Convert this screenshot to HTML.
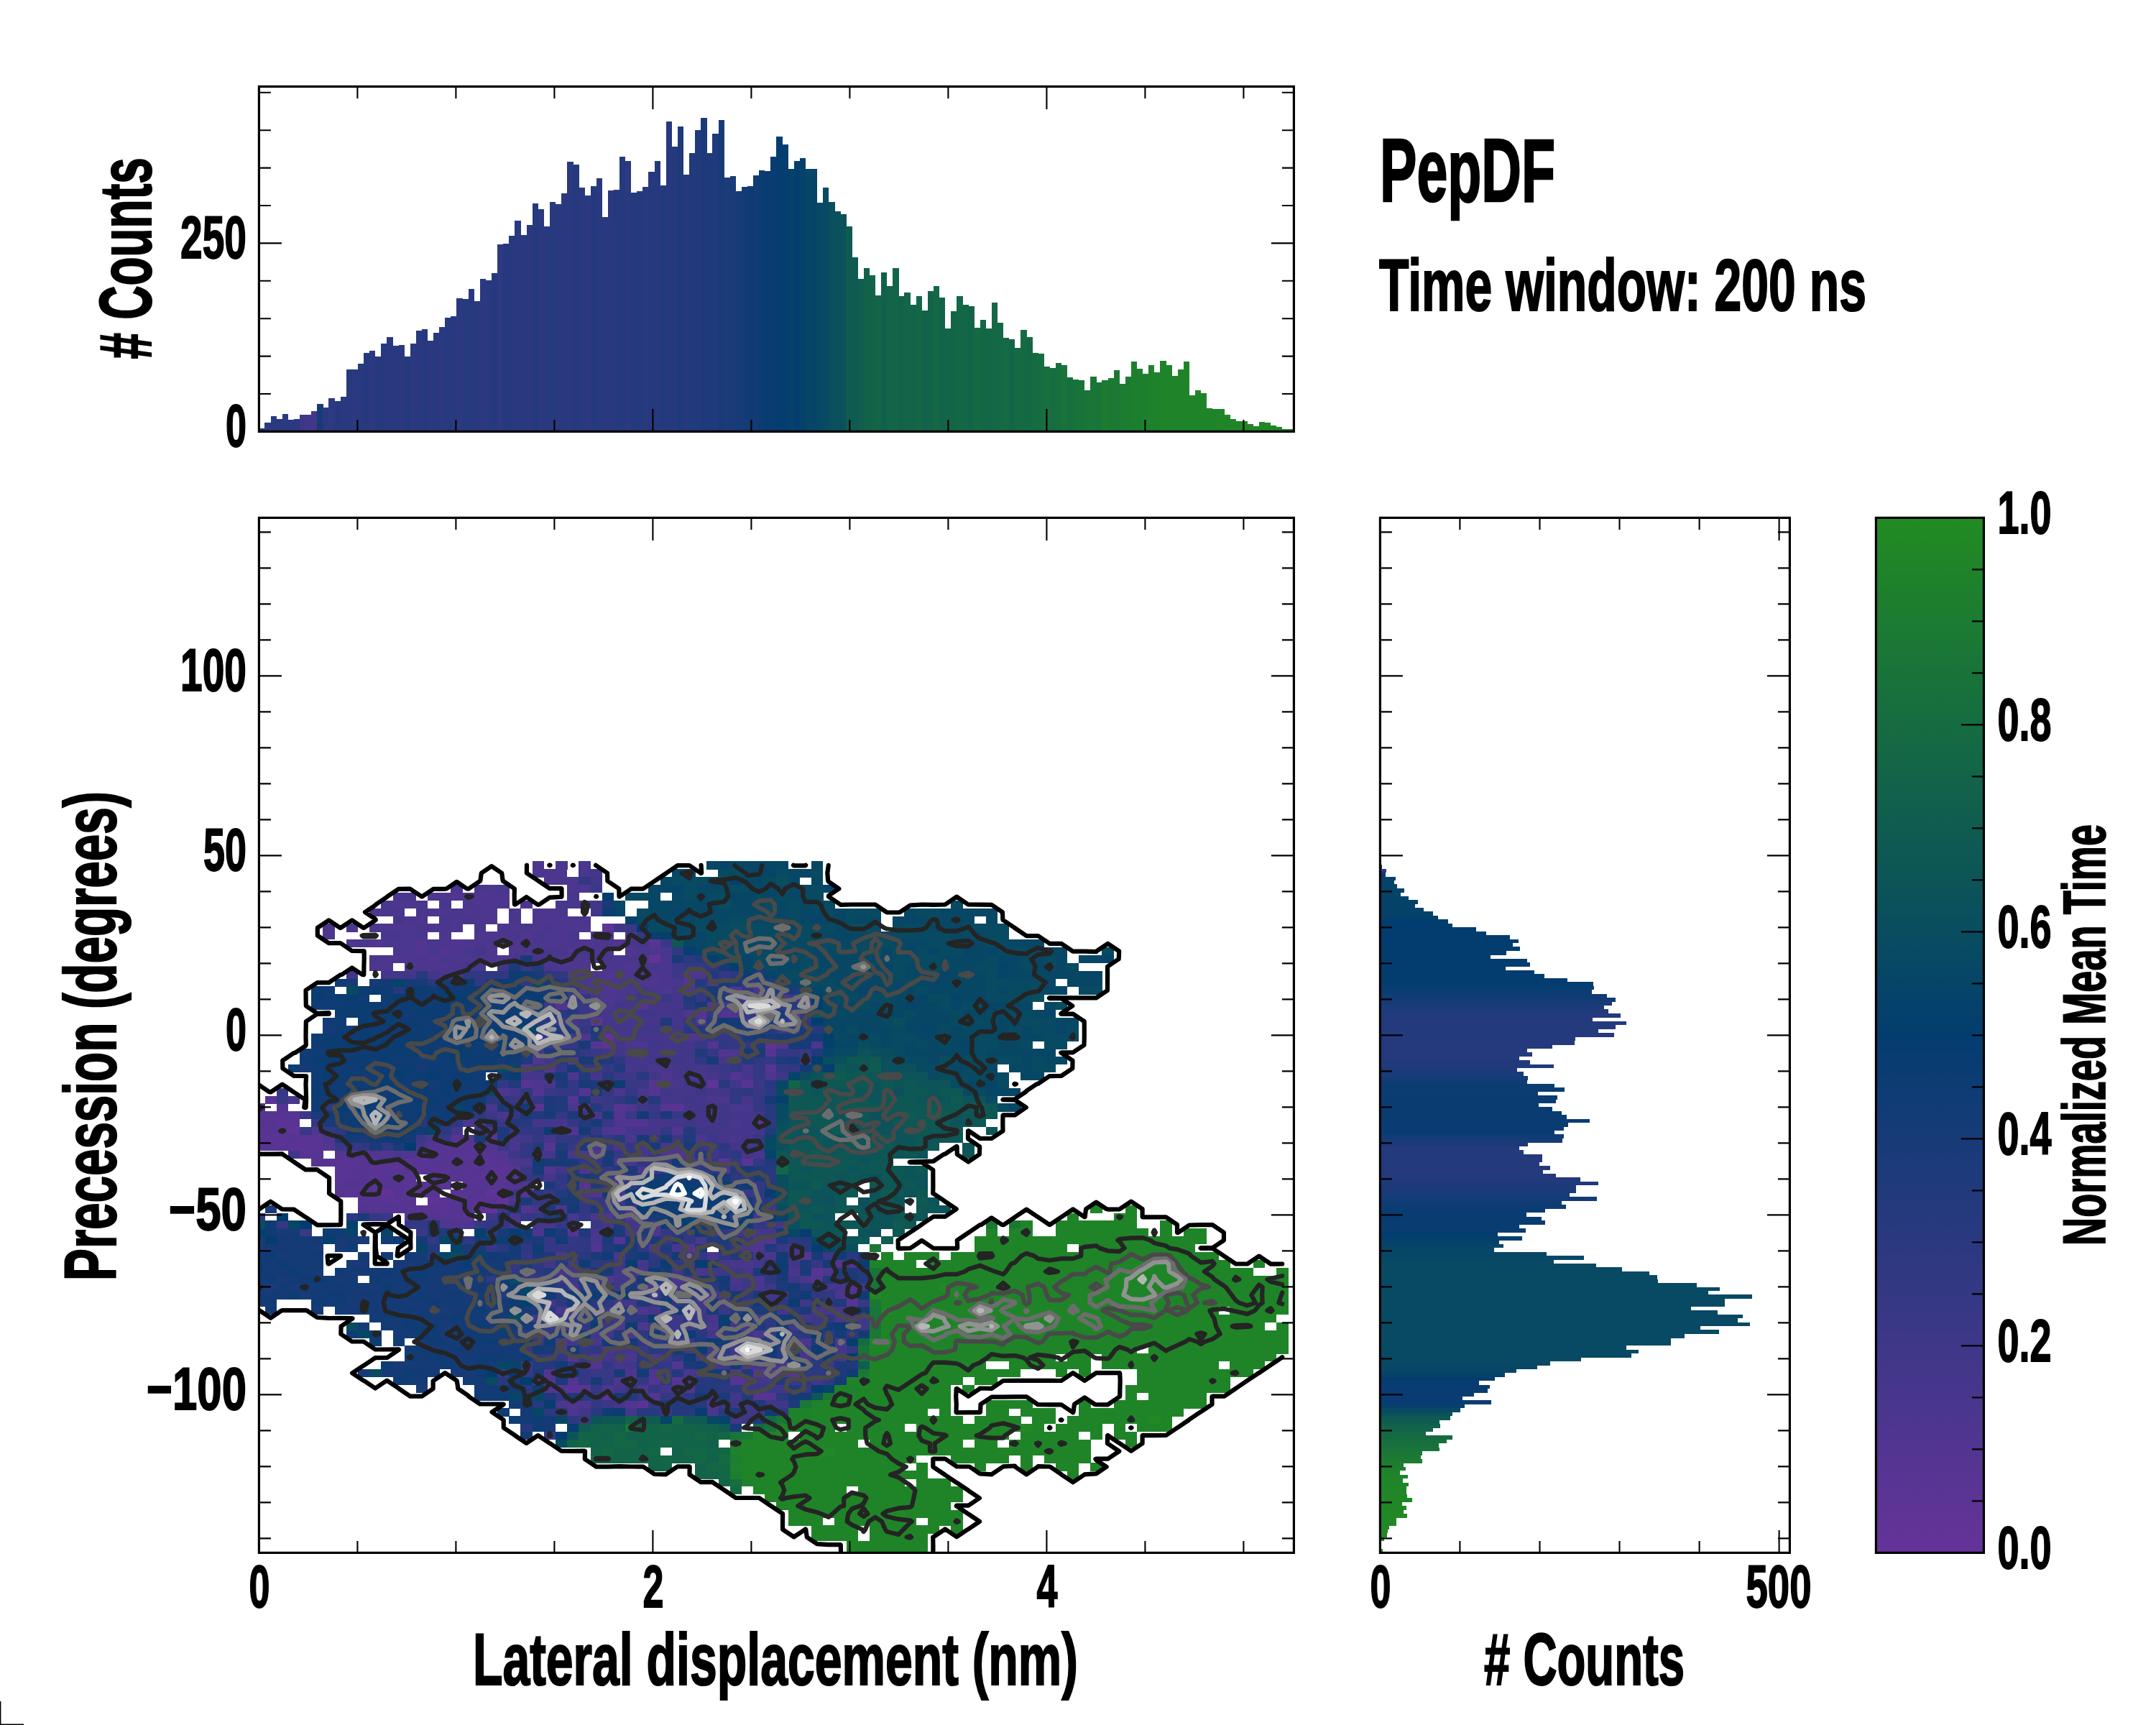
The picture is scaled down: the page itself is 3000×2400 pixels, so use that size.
<!DOCTYPE html>
<html lang="en"><head><meta charset="utf-8"><title>PepDF</title>
<style>html,body{margin:0;padding:0;background:#fff}svg{display:block}text{font-family:"Liberation Sans",Arial,Helvetica,sans-serif;font-weight:700;fill:#000;stroke:#000;stroke-linejoin:miter}</style></head><body>
<svg width="3000" height="2400" viewBox="0 0 3000 2400">
<rect width="3000" height="2400" fill="#fff"/>
<g shape-rendering="crispEdges">
<rect x="360.40" y="595.8" width="8.34" height="4.6" fill="#0d3c73"/>
<rect x="368.49" y="588.2" width="8.34" height="12.2" fill="#2b3980"/>
<rect x="376.58" y="579.2" width="8.34" height="21.2" fill="#2b3980"/>
<rect x="384.67" y="583.1" width="8.34" height="17.3" fill="#2b3980"/>
<rect x="392.76" y="576.2" width="8.34" height="24.2" fill="#2b3980"/>
<rect x="400.85" y="584.3" width="8.34" height="16.1" fill="#2b3980"/>
<rect x="408.94" y="583.4" width="8.34" height="17.0" fill="#2b3980"/>
<rect x="417.03" y="577.1" width="8.34" height="23.3" fill="#3e3788"/>
<rect x="425.12" y="576.5" width="8.34" height="23.9" fill="#403789"/>
<rect x="433.21" y="572.3" width="8.34" height="28.1" fill="#42378a"/>
<rect x="441.30" y="562.0" width="8.34" height="38.4" fill="#173b77"/>
<rect x="449.39" y="567.1" width="8.34" height="33.3" fill="#2b3980"/>
<rect x="457.48" y="554.2" width="8.34" height="46.2" fill="#2e3981"/>
<rect x="465.57" y="558.1" width="8.34" height="42.3" fill="#27397e"/>
<rect x="473.66" y="552.1" width="8.34" height="48.3" fill="#29397f"/>
<rect x="481.75" y="514.1" width="8.34" height="86.3" fill="#28397f"/>
<rect x="489.84" y="514.1" width="8.34" height="86.3" fill="#2b3980"/>
<rect x="497.93" y="506.0" width="8.34" height="94.4" fill="#28397f"/>
<rect x="506.02" y="491.2" width="8.34" height="109.2" fill="#26397e"/>
<rect x="514.11" y="488.2" width="8.34" height="112.2" fill="#2d3981"/>
<rect x="522.20" y="496.0" width="8.34" height="104.4" fill="#27397e"/>
<rect x="530.29" y="477.9" width="8.34" height="122.5" fill="#27397e"/>
<rect x="538.38" y="468.9" width="8.34" height="131.5" fill="#29397f"/>
<rect x="546.47" y="481.3" width="8.34" height="119.1" fill="#29397f"/>
<rect x="554.56" y="480.3" width="8.34" height="120.1" fill="#2a397f"/>
<rect x="562.65" y="496.0" width="8.34" height="104.4" fill="#253a7d"/>
<rect x="570.74" y="477.9" width="8.34" height="122.5" fill="#2b3980"/>
<rect x="578.83" y="460.2" width="8.34" height="140.2" fill="#2a397f"/>
<rect x="586.92" y="458.0" width="8.34" height="142.4" fill="#26397e"/>
<rect x="595.01" y="474.0" width="8.34" height="126.4" fill="#2a397f"/>
<rect x="603.10" y="463.2" width="8.34" height="137.2" fill="#29397f"/>
<rect x="611.19" y="455.0" width="8.34" height="145.4" fill="#2b3980"/>
<rect x="619.28" y="442.1" width="8.34" height="158.3" fill="#263a7e"/>
<rect x="627.37" y="440.0" width="8.34" height="160.4" fill="#29397f"/>
<rect x="635.46" y="415.3" width="8.34" height="185.1" fill="#2c3980"/>
<rect x="643.55" y="415.9" width="8.34" height="184.5" fill="#263a7e"/>
<rect x="651.64" y="402.0" width="8.34" height="198.4" fill="#29397f"/>
<rect x="659.73" y="418.9" width="8.34" height="181.5" fill="#29397f"/>
<rect x="667.82" y="388.1" width="8.34" height="212.3" fill="#2a3980"/>
<rect x="675.91" y="389.9" width="8.34" height="210.5" fill="#28397f"/>
<rect x="684.00" y="380.3" width="8.34" height="220.1" fill="#26397e"/>
<rect x="692.09" y="340.2" width="8.34" height="260.2" fill="#2d3981"/>
<rect x="700.18" y="339.0" width="8.34" height="261.4" fill="#27397e"/>
<rect x="708.27" y="328.1" width="8.34" height="272.3" fill="#27397e"/>
<rect x="716.36" y="307.4" width="8.34" height="293.0" fill="#2a397f"/>
<rect x="724.44" y="326.9" width="8.34" height="273.5" fill="#29397f"/>
<rect x="732.53" y="313.1" width="8.34" height="287.3" fill="#2a397f"/>
<rect x="740.62" y="282.9" width="8.34" height="317.5" fill="#253a7d"/>
<rect x="748.71" y="291.1" width="8.34" height="309.3" fill="#2b3980"/>
<rect x="756.80" y="315.2" width="8.34" height="285.2" fill="#2a397f"/>
<rect x="764.89" y="281.1" width="8.34" height="319.3" fill="#263a7e"/>
<rect x="772.98" y="283.8" width="8.34" height="316.6" fill="#2a397f"/>
<rect x="781.07" y="269.1" width="8.34" height="331.3" fill="#29397f"/>
<rect x="789.16" y="225.1" width="8.34" height="375.3" fill="#2a3980"/>
<rect x="797.25" y="229.0" width="8.34" height="371.4" fill="#26397e"/>
<rect x="805.34" y="260.9" width="8.34" height="339.5" fill="#29397f"/>
<rect x="813.43" y="271.8" width="8.34" height="328.6" fill="#2c3981"/>
<rect x="821.52" y="259.1" width="8.34" height="341.3" fill="#253a7e"/>
<rect x="829.61" y="248.0" width="8.34" height="352.4" fill="#29397f"/>
<rect x="837.70" y="301.9" width="8.34" height="298.5" fill="#29397f"/>
<rect x="845.79" y="265.2" width="8.34" height="335.2" fill="#2a397f"/>
<rect x="853.88" y="264.3" width="8.34" height="336.1" fill="#27397e"/>
<rect x="861.97" y="218.1" width="8.34" height="382.3" fill="#253a7e"/>
<rect x="870.06" y="224.2" width="8.34" height="376.2" fill="#2c3980"/>
<rect x="878.15" y="268.2" width="8.34" height="332.2" fill="#253a7e"/>
<rect x="886.24" y="265.5" width="8.34" height="334.9" fill="#253a7d"/>
<rect x="894.33" y="260.0" width="8.34" height="340.4" fill="#28397f"/>
<rect x="902.42" y="239.2" width="8.34" height="361.2" fill="#26397e"/>
<rect x="910.51" y="224.2" width="8.34" height="376.2" fill="#26397e"/>
<rect x="918.60" y="257.9" width="8.34" height="342.5" fill="#223a7c"/>
<rect x="926.69" y="169.0" width="8.34" height="431.4" fill="#27397e"/>
<rect x="934.78" y="204.0" width="8.34" height="396.4" fill="#253a7d"/>
<rect x="942.87" y="176.3" width="8.34" height="424.1" fill="#1f3a7b"/>
<rect x="950.96" y="242.9" width="8.34" height="357.5" fill="#233a7d"/>
<rect x="959.05" y="213.0" width="8.34" height="387.4" fill="#213a7c"/>
<rect x="967.14" y="180.8" width="8.34" height="419.6" fill="#213a7c"/>
<rect x="975.23" y="163.9" width="8.34" height="436.5" fill="#1c3a7a"/>
<rect x="983.32" y="213.0" width="8.34" height="387.4" fill="#1e3a7a"/>
<rect x="991.41" y="185.9" width="8.34" height="414.5" fill="#203a7b"/>
<rect x="999.50" y="166.9" width="8.34" height="433.5" fill="#183b78"/>
<rect x="1007.59" y="247.1" width="8.34" height="353.3" fill="#1b3b79"/>
<rect x="1015.68" y="245.3" width="8.34" height="355.1" fill="#193b78"/>
<rect x="1023.77" y="265.8" width="8.34" height="334.6" fill="#173b77"/>
<rect x="1031.86" y="260.3" width="8.34" height="340.1" fill="#133b76"/>
<rect x="1039.95" y="258.8" width="8.34" height="341.6" fill="#0f3c74"/>
<rect x="1048.04" y="244.1" width="8.34" height="356.3" fill="#133b76"/>
<rect x="1056.13" y="237.1" width="8.34" height="363.3" fill="#0b3c72"/>
<rect x="1064.22" y="238.0" width="8.34" height="362.4" fill="#083c71"/>
<rect x="1072.31" y="218.1" width="8.34" height="382.3" fill="#0a3c72"/>
<rect x="1080.40" y="189.8" width="8.34" height="410.6" fill="#053d70"/>
<rect x="1088.49" y="201.0" width="8.34" height="399.4" fill="#043d6f"/>
<rect x="1096.58" y="235.0" width="8.34" height="365.4" fill="#05416b"/>
<rect x="1104.67" y="224.2" width="8.34" height="376.2" fill="#043e6e"/>
<rect x="1112.76" y="220.0" width="8.34" height="380.4" fill="#05416b"/>
<rect x="1120.85" y="235.0" width="8.34" height="365.4" fill="#074765"/>
<rect x="1128.94" y="235.0" width="8.34" height="365.4" fill="#064468"/>
<rect x="1137.03" y="281.7" width="8.34" height="318.7" fill="#074865"/>
<rect x="1145.12" y="260.9" width="8.34" height="339.5" fill="#084963"/>
<rect x="1153.21" y="281.1" width="8.34" height="319.3" fill="#0a4f5d"/>
<rect x="1161.30" y="294.1" width="8.34" height="306.3" fill="#0b515c"/>
<rect x="1169.39" y="298.0" width="8.34" height="302.4" fill="#0b515b"/>
<rect x="1177.48" y="315.2" width="8.34" height="285.2" fill="#0f5b52"/>
<rect x="1185.57" y="358.0" width="8.34" height="242.4" fill="#0f5b51"/>
<rect x="1193.66" y="387.8" width="8.34" height="212.6" fill="#105e4f"/>
<rect x="1201.75" y="373.1" width="8.34" height="227.3" fill="#12624a"/>
<rect x="1209.84" y="383.0" width="8.34" height="217.4" fill="#126349"/>
<rect x="1217.93" y="410.7" width="8.34" height="189.7" fill="#136548"/>
<rect x="1226.02" y="379.1" width="8.34" height="221.3" fill="#11604d"/>
<rect x="1234.11" y="397.8" width="8.34" height="202.6" fill="#136548"/>
<rect x="1242.20" y="373.1" width="8.34" height="227.3" fill="#136547"/>
<rect x="1250.29" y="411.9" width="8.34" height="188.5" fill="#12624a"/>
<rect x="1258.38" y="407.1" width="8.34" height="193.3" fill="#136448"/>
<rect x="1266.47" y="424.0" width="8.34" height="176.4" fill="#126449"/>
<rect x="1274.56" y="411.9" width="8.34" height="188.5" fill="#146746"/>
<rect x="1282.65" y="431.8" width="8.34" height="168.6" fill="#12634a"/>
<rect x="1290.74" y="405.0" width="8.34" height="195.4" fill="#126449"/>
<rect x="1298.83" y="398.1" width="8.34" height="202.3" fill="#146844"/>
<rect x="1306.92" y="414.0" width="8.34" height="186.4" fill="#126449"/>
<rect x="1315.01" y="456.8" width="8.34" height="143.6" fill="#136547"/>
<rect x="1323.10" y="433.0" width="8.34" height="167.4" fill="#136547"/>
<rect x="1331.19" y="411.9" width="8.34" height="188.5" fill="#146845"/>
<rect x="1339.28" y="424.0" width="8.34" height="176.4" fill="#136646"/>
<rect x="1347.37" y="426.1" width="8.34" height="174.3" fill="#126449"/>
<rect x="1355.46" y="455.9" width="8.34" height="144.5" fill="#156a43"/>
<rect x="1363.55" y="445.1" width="8.34" height="155.3" fill="#146746"/>
<rect x="1371.64" y="456.8" width="8.34" height="143.6" fill="#136646"/>
<rect x="1379.73" y="421.0" width="8.34" height="179.4" fill="#146845"/>
<rect x="1387.82" y="449.0" width="8.34" height="151.4" fill="#146844"/>
<rect x="1395.91" y="469.8" width="8.34" height="130.6" fill="#156a43"/>
<rect x="1404.00" y="472.2" width="8.34" height="128.2" fill="#136547"/>
<rect x="1412.09" y="484.0" width="8.34" height="116.4" fill="#156a43"/>
<rect x="1420.18" y="459.0" width="8.34" height="141.4" fill="#156b41"/>
<rect x="1428.27" y="468.9" width="8.34" height="131.5" fill="#146944"/>
<rect x="1436.36" y="490.9" width="8.34" height="109.5" fill="#166c40"/>
<rect x="1444.44" y="492.1" width="8.34" height="108.3" fill="#166d40"/>
<rect x="1452.53" y="509.9" width="8.34" height="90.5" fill="#17703d"/>
<rect x="1460.62" y="512.0" width="8.34" height="88.4" fill="#166d40"/>
<rect x="1468.71" y="504.8" width="8.34" height="95.6" fill="#176f3e"/>
<rect x="1476.80" y="508.1" width="8.34" height="92.3" fill="#197439"/>
<rect x="1484.89" y="525.0" width="8.34" height="75.4" fill="#17703c"/>
<rect x="1492.98" y="528.0" width="8.34" height="72.4" fill="#18733a"/>
<rect x="1501.07" y="529.2" width="8.34" height="71.2" fill="#197439"/>
<rect x="1509.16" y="542.7" width="8.34" height="57.7" fill="#1a7636"/>
<rect x="1517.25" y="524.1" width="8.34" height="76.3" fill="#1a7636"/>
<rect x="1525.34" y="531.9" width="8.34" height="68.5" fill="#197438"/>
<rect x="1533.43" y="529.2" width="8.34" height="71.2" fill="#1c7b31"/>
<rect x="1541.52" y="525.9" width="8.34" height="74.5" fill="#1b7934"/>
<rect x="1549.61" y="515.0" width="8.34" height="85.4" fill="#1b7934"/>
<rect x="1557.70" y="534.0" width="8.34" height="66.4" fill="#1c7c31"/>
<rect x="1565.79" y="524.1" width="8.34" height="76.3" fill="#1c7d30"/>
<rect x="1573.88" y="503.0" width="8.34" height="97.4" fill="#1d7e2f"/>
<rect x="1581.97" y="512.9" width="8.34" height="87.5" fill="#1d7f2e"/>
<rect x="1590.06" y="519.8" width="8.34" height="80.6" fill="#1e802d"/>
<rect x="1598.15" y="508.1" width="8.34" height="92.3" fill="#1e812c"/>
<rect x="1606.24" y="518.0" width="8.34" height="82.4" fill="#1e822b"/>
<rect x="1614.33" y="501.7" width="8.34" height="98.7" fill="#1f832a"/>
<rect x="1622.42" y="508.1" width="8.34" height="92.3" fill="#1f832a"/>
<rect x="1630.51" y="522.8" width="8.34" height="77.6" fill="#1f8329"/>
<rect x="1638.60" y="514.1" width="8.34" height="86.3" fill="#1f8429"/>
<rect x="1646.69" y="503.0" width="8.34" height="97.4" fill="#1f8429"/>
<rect x="1654.78" y="550.0" width="8.34" height="50.4" fill="#1f8429"/>
<rect x="1662.87" y="542.7" width="8.34" height="57.7" fill="#1f8429"/>
<rect x="1670.96" y="547.0" width="8.34" height="53.4" fill="#1f8429"/>
<rect x="1679.05" y="567.8" width="8.34" height="32.6" fill="#1f8429"/>
<rect x="1687.14" y="568.7" width="8.34" height="31.7" fill="#1f8428"/>
<rect x="1695.23" y="569.0" width="8.34" height="31.4" fill="#1f8528"/>
<rect x="1703.32" y="577.1" width="8.34" height="23.3" fill="#208528"/>
<rect x="1711.41" y="583.1" width="8.34" height="17.3" fill="#208528"/>
<rect x="1719.50" y="585.8" width="8.34" height="14.6" fill="#208528"/>
<rect x="1727.59" y="586.4" width="8.34" height="14.0" fill="#208528"/>
<rect x="1735.68" y="590.1" width="8.34" height="10.3" fill="#208528"/>
<rect x="1743.77" y="593.1" width="8.34" height="7.3" fill="#208527"/>
<rect x="1751.86" y="587.0" width="8.34" height="13.4" fill="#208627"/>
<rect x="1759.95" y="587.9" width="8.34" height="12.5" fill="#208627"/>
<rect x="1768.04" y="591.9" width="8.34" height="8.5" fill="#208627"/>
<rect x="1776.13" y="594.0" width="8.34" height="6.4" fill="#208627"/>
<rect x="1784.22" y="597.0" width="8.34" height="3.4" fill="#208627"/>
<rect x="1792.31" y="597.3" width="8.34" height="3.1" fill="#208627"/>
</g>
<g shape-rendering="crispEdges">
<rect x="1920.4" y="1203.20" width="2.2" height="5.69" fill="#173b77"/>
<rect x="1920.4" y="1208.64" width="8.3" height="5.69" fill="#343884"/>
<rect x="1920.4" y="1214.08" width="7.1" height="5.69" fill="#033d6f"/>
<rect x="1920.4" y="1219.52" width="21.3" height="5.69" fill="#04406c"/>
<rect x="1920.4" y="1224.95" width="19.3" height="5.69" fill="#054369"/>
<rect x="1920.4" y="1230.39" width="23.4" height="5.69" fill="#054369"/>
<rect x="1920.4" y="1235.83" width="33.5" height="5.69" fill="#054369"/>
<rect x="1920.4" y="1241.27" width="28.3" height="5.69" fill="#054369"/>
<rect x="1920.4" y="1246.71" width="39.6" height="5.69" fill="#05426a"/>
<rect x="1920.4" y="1252.15" width="52.4" height="5.69" fill="#05426a"/>
<rect x="1920.4" y="1257.59" width="48.6" height="5.69" fill="#05426a"/>
<rect x="1920.4" y="1263.03" width="60.5" height="5.69" fill="#05426a"/>
<rect x="1920.4" y="1268.46" width="73.5" height="5.69" fill="#05426a"/>
<rect x="1920.4" y="1273.90" width="80.5" height="5.69" fill="#043f6d"/>
<rect x="1920.4" y="1279.34" width="94.4" height="5.69" fill="#033d6f"/>
<rect x="1920.4" y="1284.78" width="100.2" height="5.69" fill="#033d6f"/>
<rect x="1920.4" y="1290.22" width="133.2" height="5.69" fill="#033d6f"/>
<rect x="1920.4" y="1295.66" width="147.4" height="5.69" fill="#033d6f"/>
<rect x="1920.4" y="1301.10" width="180.2" height="5.69" fill="#033d6f"/>
<rect x="1920.4" y="1306.53" width="192.4" height="5.69" fill="#033d6f"/>
<rect x="1920.4" y="1311.97" width="184.2" height="5.69" fill="#033d6f"/>
<rect x="1920.4" y="1317.41" width="194.4" height="5.69" fill="#033d6f"/>
<rect x="1920.4" y="1322.85" width="175.5" height="5.69" fill="#033d6f"/>
<rect x="1920.4" y="1328.29" width="153.5" height="5.69" fill="#033d6f"/>
<rect x="1920.4" y="1333.73" width="204.2" height="5.69" fill="#033d6f"/>
<rect x="1920.4" y="1339.17" width="208.3" height="5.69" fill="#033d6f"/>
<rect x="1920.4" y="1344.60" width="174.4" height="5.69" fill="#033d6f"/>
<rect x="1920.4" y="1350.04" width="214.1" height="5.69" fill="#033d6f"/>
<rect x="1920.4" y="1355.48" width="228.3" height="5.69" fill="#033d6f"/>
<rect x="1920.4" y="1360.92" width="260.5" height="5.69" fill="#033d6f"/>
<rect x="1920.4" y="1366.36" width="296.1" height="5.69" fill="#033d6f"/>
<rect x="1920.4" y="1371.80" width="297.3" height="5.69" fill="#073d71"/>
<rect x="1920.4" y="1377.24" width="294.4" height="5.69" fill="#0b3c72"/>
<rect x="1920.4" y="1382.67" width="315.3" height="5.69" fill="#0f3c74"/>
<rect x="1920.4" y="1388.11" width="327.4" height="5.69" fill="#133b76"/>
<rect x="1920.4" y="1393.55" width="322.2" height="5.69" fill="#173b77"/>
<rect x="1920.4" y="1398.99" width="311.2" height="5.69" fill="#1b3b79"/>
<rect x="1920.4" y="1404.43" width="317.3" height="5.69" fill="#1f3a7b"/>
<rect x="1920.4" y="1409.87" width="334.4" height="5.69" fill="#233a7c"/>
<rect x="1920.4" y="1415.31" width="295.5" height="5.69" fill="#233a7d"/>
<rect x="1920.4" y="1420.75" width="342.5" height="5.69" fill="#233a7d"/>
<rect x="1920.4" y="1426.18" width="327.4" height="5.69" fill="#233a7d"/>
<rect x="1920.4" y="1431.62" width="303.4" height="5.69" fill="#233a7d"/>
<rect x="1920.4" y="1437.06" width="325.4" height="5.69" fill="#243a7d"/>
<rect x="1920.4" y="1442.50" width="271.5" height="5.69" fill="#243a7d"/>
<rect x="1920.4" y="1447.94" width="270.3" height="5.69" fill="#243a7d"/>
<rect x="1920.4" y="1453.38" width="239.3" height="5.69" fill="#243a7d"/>
<rect x="1920.4" y="1458.82" width="204.5" height="5.69" fill="#243a7d"/>
<rect x="1920.4" y="1464.25" width="211.5" height="5.69" fill="#253a7d"/>
<rect x="1920.4" y="1469.69" width="193.5" height="5.69" fill="#233a7d"/>
<rect x="1920.4" y="1475.13" width="208.3" height="5.69" fill="#223a7c"/>
<rect x="1920.4" y="1480.57" width="241.3" height="5.69" fill="#203a7b"/>
<rect x="1920.4" y="1486.01" width="190.6" height="5.69" fill="#1f3a7b"/>
<rect x="1920.4" y="1491.45" width="199.3" height="5.69" fill="#1a3b79"/>
<rect x="1920.4" y="1496.89" width="205.4" height="5.69" fill="#153b77"/>
<rect x="1920.4" y="1502.33" width="204.5" height="5.69" fill="#103c74"/>
<rect x="1920.4" y="1507.76" width="242.2" height="5.69" fill="#0b3c72"/>
<rect x="1920.4" y="1513.20" width="256.4" height="5.69" fill="#0b3c72"/>
<rect x="1920.4" y="1518.64" width="219.6" height="5.69" fill="#0b3c72"/>
<rect x="1920.4" y="1524.08" width="246.3" height="5.69" fill="#0a3c72"/>
<rect x="1920.4" y="1529.52" width="244.5" height="5.69" fill="#0a3c72"/>
<rect x="1920.4" y="1534.96" width="220.5" height="5.69" fill="#0a3c72"/>
<rect x="1920.4" y="1540.40" width="239.3" height="5.69" fill="#0a3c72"/>
<rect x="1920.4" y="1545.83" width="252.4" height="5.69" fill="#0a3c72"/>
<rect x="1920.4" y="1551.27" width="259.3" height="5.69" fill="#0a3c72"/>
<rect x="1920.4" y="1556.71" width="291.2" height="5.69" fill="#093c72"/>
<rect x="1920.4" y="1562.15" width="261.3" height="5.69" fill="#093c72"/>
<rect x="1920.4" y="1567.59" width="255.3" height="5.69" fill="#093c72"/>
<rect x="1920.4" y="1573.03" width="242.5" height="5.69" fill="#093c72"/>
<rect x="1920.4" y="1578.47" width="255.3" height="5.69" fill="#0f3c74"/>
<rect x="1920.4" y="1583.90" width="253.5" height="5.69" fill="#163b77"/>
<rect x="1920.4" y="1589.34" width="205.4" height="5.69" fill="#1c3a7a"/>
<rect x="1920.4" y="1594.78" width="193.5" height="5.69" fill="#233a7c"/>
<rect x="1920.4" y="1600.22" width="199.3" height="5.69" fill="#233a7d"/>
<rect x="1920.4" y="1605.66" width="225.4" height="5.69" fill="#233a7d"/>
<rect x="1920.4" y="1611.10" width="225.4" height="5.69" fill="#243a7d"/>
<rect x="1920.4" y="1616.54" width="221.3" height="5.69" fill="#243a7d"/>
<rect x="1920.4" y="1621.97" width="236.4" height="5.69" fill="#243a7d"/>
<rect x="1920.4" y="1627.41" width="226.3" height="5.69" fill="#243a7d"/>
<rect x="1920.4" y="1632.85" width="244.5" height="5.69" fill="#253a7d"/>
<rect x="1920.4" y="1638.29" width="278.4" height="5.69" fill="#223a7c"/>
<rect x="1920.4" y="1643.73" width="303.4" height="5.69" fill="#1f3a7b"/>
<rect x="1920.4" y="1649.17" width="272.4" height="5.69" fill="#1c3a7a"/>
<rect x="1920.4" y="1654.61" width="272.4" height="5.69" fill="#1a3b79"/>
<rect x="1920.4" y="1660.05" width="263.4" height="5.69" fill="#173b77"/>
<rect x="1920.4" y="1665.48" width="301.3" height="5.69" fill="#133b76"/>
<rect x="1920.4" y="1670.92" width="252.4" height="5.69" fill="#103c74"/>
<rect x="1920.4" y="1676.36" width="258.4" height="5.69" fill="#0c3c73"/>
<rect x="1920.4" y="1681.80" width="229.5" height="5.69" fill="#093c72"/>
<rect x="1920.4" y="1687.24" width="203.4" height="5.69" fill="#093c71"/>
<rect x="1920.4" y="1692.68" width="224.5" height="5.69" fill="#083c71"/>
<rect x="1920.4" y="1698.12" width="229.5" height="5.69" fill="#083d71"/>
<rect x="1920.4" y="1703.55" width="193.5" height="5.69" fill="#073d71"/>
<rect x="1920.4" y="1708.99" width="202.5" height="5.69" fill="#073d71"/>
<rect x="1920.4" y="1714.43" width="163.4" height="5.69" fill="#033d6f"/>
<rect x="1920.4" y="1719.87" width="197.6" height="5.69" fill="#043f6d"/>
<rect x="1920.4" y="1725.31" width="165.4" height="5.69" fill="#05426a"/>
<rect x="1920.4" y="1730.75" width="171.5" height="5.69" fill="#064567"/>
<rect x="1920.4" y="1736.19" width="158.4" height="5.69" fill="#064666"/>
<rect x="1920.4" y="1741.62" width="231.5" height="5.69" fill="#074765"/>
<rect x="1920.4" y="1747.06" width="283.4" height="5.69" fill="#074865"/>
<rect x="1920.4" y="1752.50" width="241.3" height="5.69" fill="#084964"/>
<rect x="1920.4" y="1757.94" width="300.5" height="5.69" fill="#084963"/>
<rect x="1920.4" y="1763.38" width="336.4" height="5.69" fill="#084963"/>
<rect x="1920.4" y="1768.82" width="374.4" height="5.69" fill="#084963"/>
<rect x="1920.4" y="1774.26" width="385.4" height="5.69" fill="#084963"/>
<rect x="1920.4" y="1779.70" width="386.3" height="5.69" fill="#084963"/>
<rect x="1920.4" y="1785.13" width="440.5" height="5.69" fill="#084963"/>
<rect x="1920.4" y="1790.57" width="472.4" height="5.69" fill="#084963"/>
<rect x="1920.4" y="1796.01" width="456.4" height="5.69" fill="#084963"/>
<rect x="1920.4" y="1801.45" width="517.6" height="5.69" fill="#084963"/>
<rect x="1920.4" y="1806.89" width="479.3" height="5.69" fill="#084963"/>
<rect x="1920.4" y="1812.33" width="479.3" height="5.69" fill="#084963"/>
<rect x="1920.4" y="1817.77" width="432.4" height="5.69" fill="#084963"/>
<rect x="1920.4" y="1823.20" width="469.5" height="5.69" fill="#084963"/>
<rect x="1920.4" y="1828.64" width="504.5" height="5.69" fill="#084963"/>
<rect x="1920.4" y="1834.08" width="497.3" height="5.69" fill="#084963"/>
<rect x="1920.4" y="1839.52" width="514.4" height="5.69" fill="#084963"/>
<rect x="1920.4" y="1844.96" width="445.4" height="5.69" fill="#084963"/>
<rect x="1920.4" y="1850.40" width="471.5" height="5.69" fill="#084963"/>
<rect x="1920.4" y="1855.84" width="423.4" height="5.69" fill="#084963"/>
<rect x="1920.4" y="1861.28" width="404.5" height="5.69" fill="#084963"/>
<rect x="1920.4" y="1866.71" width="404.5" height="5.69" fill="#084963"/>
<rect x="1920.4" y="1872.15" width="342.5" height="5.69" fill="#084963"/>
<rect x="1920.4" y="1877.59" width="359.3" height="5.69" fill="#084963"/>
<rect x="1920.4" y="1883.03" width="349.5" height="5.69" fill="#084963"/>
<rect x="1920.4" y="1888.47" width="279.6" height="5.69" fill="#084963"/>
<rect x="1920.4" y="1893.91" width="236.4" height="5.69" fill="#084864"/>
<rect x="1920.4" y="1899.35" width="218.4" height="5.69" fill="#074765"/>
<rect x="1920.4" y="1904.78" width="189.5" height="5.69" fill="#074666"/>
<rect x="1920.4" y="1910.22" width="173.5" height="5.69" fill="#05426a"/>
<rect x="1920.4" y="1915.66" width="159.6" height="5.69" fill="#033d6f"/>
<rect x="1920.4" y="1921.10" width="137.6" height="5.69" fill="#093c72"/>
<rect x="1920.4" y="1926.54" width="152.4" height="5.69" fill="#093c72"/>
<rect x="1920.4" y="1931.98" width="149.5" height="5.69" fill="#093c72"/>
<rect x="1920.4" y="1937.42" width="130.6" height="5.69" fill="#093c72"/>
<rect x="1920.4" y="1942.85" width="114.7" height="5.69" fill="#093c72"/>
<rect x="1920.4" y="1948.29" width="154.4" height="5.69" fill="#093c72"/>
<rect x="1920.4" y="1953.73" width="117.6" height="5.69" fill="#05416b"/>
<rect x="1920.4" y="1959.17" width="111.5" height="5.69" fill="#084963"/>
<rect x="1920.4" y="1964.61" width="100.5" height="5.69" fill="#0b515b"/>
<rect x="1920.4" y="1970.05" width="97.6" height="5.69" fill="#0e5953"/>
<rect x="1920.4" y="1975.49" width="82.5" height="5.69" fill="#105d4f"/>
<rect x="1920.4" y="1980.93" width="83.4" height="5.69" fill="#11614c"/>
<rect x="1920.4" y="1986.36" width="73.5" height="5.69" fill="#136548"/>
<rect x="1920.4" y="1991.80" width="63.7" height="5.69" fill="#146944"/>
<rect x="1920.4" y="1997.24" width="100.5" height="5.69" fill="#156b41"/>
<rect x="1920.4" y="2002.68" width="92.4" height="5.69" fill="#176e3e"/>
<rect x="1920.4" y="2008.12" width="81.6" height="5.69" fill="#18713c"/>
<rect x="1920.4" y="2013.56" width="82.5" height="5.69" fill="#197439"/>
<rect x="1920.4" y="2019.00" width="58.4" height="5.69" fill="#1a7736"/>
<rect x="1920.4" y="2024.43" width="56.4" height="5.69" fill="#1b7934"/>
<rect x="1920.4" y="2029.87" width="58.4" height="5.69" fill="#1c7b31"/>
<rect x="1920.4" y="2035.31" width="32.6" height="5.69" fill="#1d7e2f"/>
<rect x="1920.4" y="2040.75" width="35.3" height="5.69" fill="#1e802d"/>
<rect x="1920.4" y="2046.19" width="27.4" height="5.69" fill="#1f822a"/>
<rect x="1920.4" y="2051.63" width="38.4" height="5.69" fill="#208528"/>
<rect x="1920.4" y="2057.07" width="31.5" height="5.69" fill="#208528"/>
<rect x="1920.4" y="2062.50" width="39.6" height="5.69" fill="#208528"/>
<rect x="1920.4" y="2067.94" width="36.4" height="5.69" fill="#208627"/>
<rect x="1920.4" y="2073.38" width="36.7" height="5.69" fill="#208627"/>
<rect x="1920.4" y="2078.82" width="37.6" height="5.69" fill="#208627"/>
<rect x="1920.4" y="2084.26" width="44.5" height="5.69" fill="#208726"/>
<rect x="1920.4" y="2089.70" width="30.6" height="5.69" fill="#208726"/>
<rect x="1920.4" y="2095.14" width="36.4" height="5.69" fill="#218726"/>
<rect x="1920.4" y="2100.57" width="32.6" height="5.69" fill="#218825"/>
<rect x="1920.4" y="2106.01" width="37.6" height="5.69" fill="#218825"/>
<rect x="1920.4" y="2111.45" width="22.5" height="5.69" fill="#218825"/>
<rect x="1920.4" y="2116.89" width="22.5" height="5.69" fill="#218924"/>
<rect x="1920.4" y="2122.33" width="12.6" height="5.69" fill="#218924"/>
<rect x="1920.4" y="2127.77" width="10.3" height="5.69" fill="#218924"/>
<rect x="1920.4" y="2133.21" width="9.5" height="5.69" fill="#218a23"/>
<rect x="1920.4" y="2138.65" width="5.7" height="5.69" fill="#228a23"/>
<rect x="1920.4" y="2144.08" width="1.6" height="5.69" fill="#228a23"/>
<rect x="1920.4" y="2149.52" width="1.6" height="5.69" fill="#228b22"/>
<rect x="1920.4" y="2154.96" width="3.7" height="5.69" fill="#228b22"/>
</g>
<defs><clipPath id="cm"><rect x="360.4" y="720.4" width="1440" height="1440"/></clipPath></defs>
<g clip-path="url(#cm)"><g shape-rendering="crispEdges">
<path fill="#623397" d="M675.9 1676.7h16.5v11.2h-16.5zM692.1 1665.8h16.5v11.2h-16.5zM530.3 1654.9h16.5v11.2h-16.5zM837.7 1437.5h16.5v11.2h-16.5zM902.4 1328.8h16.5v11.2h-16.5z"/>
<path fill="#5e3496" d="M595.0 1665.8h16.5v11.2h-16.5zM578.8 1654.9h16.5v11.2h-16.5zM675.9 1654.9h16.5v11.2h-16.5zM400.8 1568.0h16.5v11.2h-16.5zM983.3 1502.8h16.5v11.2h-16.5zM837.7 1448.4h16.5v11.2h-16.5zM1064.2 1448.4h16.5v11.2h-16.5zM821.5 1415.8h16.5v11.2h-16.5zM837.7 1285.4h16.5v11.2h-16.5z"/>
<path fill="#5a3494" d="M886.2 1948.4h16.5v11.2h-16.5zM837.7 1937.6h16.5v11.2h-16.5zM789.2 1926.7h16.5v11.2h-16.5zM1048.0 1905.0h16.5v11.2h-16.5zM1096.6 1905.0h16.5v11.2h-16.5zM643.5 1687.6h16.5v11.2h-16.5zM578.8 1676.7h48.8v11.2h-48.8zM659.7 1676.7h16.5v11.2h-16.5zM530.3 1665.8h32.7v11.2h-32.7zM611.2 1665.8h16.5v11.2h-16.5zM659.7 1665.8h32.7v11.2h-32.7zM481.7 1654.9h48.8v11.2h-48.8zM562.6 1654.9h16.5v11.2h-16.5zM595.0 1654.9h16.5v11.2h-16.5zM627.4 1654.9h16.5v11.2h-16.5zM562.6 1644.1h16.5v11.2h-16.5zM595.0 1644.1h32.7v11.2h-32.7zM643.5 1644.1h16.5v11.2h-16.5zM465.6 1633.2h32.7v11.2h-32.7zM514.1 1633.2h16.5v11.2h-16.5zM562.6 1633.2h16.5v11.2h-16.5zM595.0 1633.2h32.7v11.2h-32.7zM659.7 1633.2h16.5v11.2h-16.5zM692.1 1633.2h16.5v11.2h-16.5zM465.6 1622.3h16.5v11.2h-16.5zM514.1 1622.3h48.8v11.2h-48.8zM578.8 1622.3h48.8v11.2h-48.8zM643.5 1622.3h16.5v11.2h-16.5zM675.9 1622.3h32.7v11.2h-32.7zM465.6 1611.5h32.7v11.2h-32.7zM530.3 1611.5h65.0v11.2h-65.0zM675.9 1611.5h16.5v11.2h-16.5zM999.5 1611.5h16.5v11.2h-16.5zM1031.9 1611.5h16.5v11.2h-16.5zM417.0 1600.6h16.5v11.2h-16.5zM643.5 1600.6h16.5v11.2h-16.5zM352.3 1589.7h16.5v11.2h-16.5zM384.7 1589.7h65.0v11.2h-65.0zM352.3 1578.9h48.8v11.2h-48.8zM417.0 1578.9h32.7v11.2h-32.7zM675.9 1578.9h16.5v11.2h-16.5zM352.3 1568.0h16.5v11.2h-16.5zM384.7 1557.1h32.7v11.2h-32.7zM1048.0 1557.1h16.5v11.2h-16.5zM352.3 1546.2h16.5v11.2h-16.5zM934.8 1535.4h16.5v11.2h-16.5zM368.5 1524.5h16.5v11.2h-16.5zM789.2 1470.2h16.5v11.2h-16.5z"/>
<path fill="#563592" d="M983.3 1948.4h16.5v11.2h-16.5zM902.4 1937.6h16.5v11.2h-16.5zM1048.0 1937.6h32.7v11.2h-32.7zM773.0 1926.7h16.5v11.2h-16.5zM805.3 1926.7h16.5v11.2h-16.5zM934.8 1915.8h16.5v11.2h-16.5zM1015.7 1915.8h16.5v11.2h-16.5zM1015.7 1905.0h16.5v11.2h-16.5zM1064.2 1905.0h16.5v11.2h-16.5zM789.2 1883.2h16.5v11.2h-16.5zM773.0 1861.5h16.5v11.2h-16.5zM1177.5 1807.1h16.5v11.2h-16.5zM1128.9 1763.6h16.5v11.2h-16.5zM1112.8 1741.9h16.5v11.2h-16.5zM951.0 1731.0h16.5v11.2h-16.5zM1048.0 1720.2h16.5v11.2h-16.5zM789.2 1709.3h16.5v11.2h-16.5zM562.6 1687.6h16.5v11.2h-16.5zM611.2 1687.6h32.7v11.2h-32.7zM514.1 1676.7h16.5v11.2h-16.5zM546.5 1676.7h32.7v11.2h-32.7zM627.4 1676.7h32.7v11.2h-32.7zM497.9 1665.8h32.7v11.2h-32.7zM562.6 1665.8h16.5v11.2h-16.5zM627.4 1665.8h32.7v11.2h-32.7zM465.6 1654.9h16.5v11.2h-16.5zM546.5 1654.9h16.5v11.2h-16.5zM643.5 1654.9h32.7v11.2h-32.7zM692.1 1654.9h16.5v11.2h-16.5zM724.4 1654.9h16.5v11.2h-16.5zM465.6 1644.1h16.5v11.2h-16.5zM497.9 1644.1h65.0v11.2h-65.0zM578.8 1644.1h16.5v11.2h-16.5zM659.7 1644.1h48.8v11.2h-48.8zM805.3 1644.1h16.5v11.2h-16.5zM497.9 1633.2h16.5v11.2h-16.5zM530.3 1633.2h32.7v11.2h-32.7zM627.4 1633.2h32.7v11.2h-32.7zM675.9 1633.2h16.5v11.2h-16.5zM708.3 1633.2h16.5v11.2h-16.5zM481.7 1622.3h32.7v11.2h-32.7zM627.4 1622.3h16.5v11.2h-16.5zM659.7 1622.3h16.5v11.2h-16.5zM708.3 1622.3h16.5v11.2h-16.5zM433.2 1611.5h32.7v11.2h-32.7zM497.9 1611.5h32.7v11.2h-32.7zM595.0 1611.5h32.7v11.2h-32.7zM643.5 1611.5h32.7v11.2h-32.7zM692.1 1611.5h16.5v11.2h-16.5zM433.2 1600.6h16.5v11.2h-16.5zM465.6 1600.6h16.5v11.2h-16.5zM578.8 1600.6h65.0v11.2h-65.0zM659.7 1600.6h32.7v11.2h-32.7zM368.5 1589.7h16.5v11.2h-16.5zM595.0 1589.7h65.0v11.2h-65.0zM756.8 1589.7h16.5v11.2h-16.5zM400.8 1578.9h16.5v11.2h-16.5zM627.4 1578.9h32.7v11.2h-32.7zM368.5 1568.0h32.7v11.2h-32.7zM352.3 1557.1h32.7v11.2h-32.7zM368.5 1546.2h48.8v11.2h-48.8zM384.7 1535.4h16.5v11.2h-16.5zM740.6 1535.4h16.5v11.2h-16.5zM853.9 1535.4h16.5v11.2h-16.5zM918.6 1535.4h16.5v11.2h-16.5zM789.2 1524.5h16.5v11.2h-16.5zM724.4 1502.8h16.5v11.2h-16.5zM902.4 1502.8h16.5v11.2h-16.5zM1031.9 1502.8h16.5v11.2h-16.5zM724.4 1481.0h16.5v11.2h-16.5zM756.8 1481.0h16.5v11.2h-16.5zM1064.2 1481.0h16.5v11.2h-16.5zM1064.2 1459.3h16.5v11.2h-16.5zM821.5 1448.4h16.5v11.2h-16.5zM967.1 1404.9h16.5v11.2h-16.5zM1096.6 1404.9h16.5v11.2h-16.5zM886.2 1394.1h16.5v11.2h-16.5zM983.3 1394.1h16.5v11.2h-16.5zM951.0 1361.5h16.5v11.2h-16.5zM902.4 1307.1h16.5v11.2h-16.5z"/>
<path fill="#513590" d="M789.2 1948.4h16.5v11.2h-16.5zM870.1 1948.4h16.5v11.2h-16.5zM756.8 1926.7h16.5v11.2h-16.5zM951.0 1926.7h16.5v11.2h-16.5zM789.2 1915.8h16.5v11.2h-16.5zM902.4 1915.8h16.5v11.2h-16.5zM1031.9 1915.8h16.5v11.2h-16.5zM756.8 1905.0h16.5v11.2h-16.5zM1080.4 1905.0h16.5v11.2h-16.5zM821.5 1894.1h16.5v11.2h-16.5zM934.8 1894.1h16.5v11.2h-16.5zM773.0 1872.3h16.5v11.2h-16.5zM1177.5 1785.4h16.5v11.2h-16.5zM1128.9 1774.5h16.5v11.2h-16.5zM1161.3 1752.8h16.5v11.2h-16.5zM821.5 1731.0h16.5v11.2h-16.5zM902.4 1731.0h16.5v11.2h-16.5zM853.9 1720.2h16.5v11.2h-16.5zM1064.2 1720.2h16.5v11.2h-16.5zM627.4 1698.4h16.5v11.2h-16.5zM578.8 1687.6h32.7v11.2h-32.7zM870.1 1687.6h16.5v11.2h-16.5zM497.9 1676.7h16.5v11.2h-16.5zM530.3 1676.7h16.5v11.2h-16.5zM724.4 1676.7h16.5v11.2h-16.5zM821.5 1654.9h16.5v11.2h-16.5zM481.7 1644.1h16.5v11.2h-16.5zM708.3 1644.1h16.5v11.2h-16.5zM853.9 1633.2h16.5v11.2h-16.5zM562.6 1622.3h16.5v11.2h-16.5zM756.8 1622.3h16.5v11.2h-16.5zM627.4 1611.5h16.5v11.2h-16.5zM481.7 1600.6h65.0v11.2h-65.0zM692.1 1600.6h16.5v11.2h-16.5zM805.3 1600.6h16.5v11.2h-16.5zM934.8 1600.6h16.5v11.2h-16.5zM449.4 1589.7h16.5v11.2h-16.5zM659.7 1589.7h32.7v11.2h-32.7zM433.2 1568.0h16.5v11.2h-16.5zM789.2 1568.0h16.5v11.2h-16.5zM853.9 1568.0h16.5v11.2h-16.5zM934.8 1568.0h16.5v11.2h-16.5zM659.7 1557.1h16.5v11.2h-16.5zM870.1 1557.1h32.7v11.2h-32.7zM853.9 1546.2h16.5v11.2h-16.5zM352.3 1535.4h16.5v11.2h-16.5zM805.3 1535.4h16.5v11.2h-16.5zM740.6 1513.6h16.5v11.2h-16.5zM805.3 1513.6h16.5v11.2h-16.5zM902.4 1513.6h16.5v11.2h-16.5zM1015.7 1491.9h16.5v11.2h-16.5zM999.5 1459.3h16.5v11.2h-16.5zM983.3 1448.4h16.5v11.2h-16.5zM1080.4 1448.4h16.5v11.2h-16.5zM951.0 1437.5h16.5v11.2h-16.5zM951.0 1404.9h16.5v11.2h-16.5zM999.5 1404.9h16.5v11.2h-16.5zM773.0 1394.1h16.5v11.2h-16.5zM1015.7 1372.3h16.5v11.2h-16.5zM821.5 1361.5h16.5v11.2h-16.5zM837.7 1350.6h16.5v11.2h-16.5zM595.0 1328.8h16.5v11.2h-16.5zM578.8 1318.0h16.5v11.2h-16.5zM611.2 1318.0h16.5v11.2h-16.5zM789.2 1318.0h16.5v11.2h-16.5zM870.1 1318.0h16.5v11.2h-16.5zM514.1 1307.1h16.5v11.2h-16.5zM578.8 1307.1h16.5v11.2h-16.5zM627.4 1307.1h16.5v11.2h-16.5zM805.3 1307.1h16.5v11.2h-16.5zM853.9 1307.1h16.5v11.2h-16.5zM724.4 1296.2h16.5v11.2h-16.5zM627.4 1241.9h16.5v11.2h-16.5zM659.7 1241.9h16.5v11.2h-16.5z"/>
<path fill="#4d368e" d="M789.2 1959.3h16.5v11.2h-16.5zM805.3 1948.4h16.5v11.2h-16.5zM837.7 1926.7h16.5v11.2h-16.5zM886.2 1926.7h16.5v11.2h-16.5zM756.8 1915.8h16.5v11.2h-16.5zM853.9 1915.8h16.5v11.2h-16.5zM951.0 1915.8h16.5v11.2h-16.5zM870.1 1905.0h16.5v11.2h-16.5zM902.4 1905.0h16.5v11.2h-16.5zM1031.9 1894.1h16.5v11.2h-16.5zM821.5 1883.2h16.5v11.2h-16.5zM870.1 1883.2h16.5v11.2h-16.5zM902.4 1883.2h16.5v11.2h-16.5zM837.7 1872.3h16.5v11.2h-16.5zM1048.0 1872.3h16.5v11.2h-16.5zM740.6 1850.6h16.5v11.2h-16.5zM870.1 1850.6h16.5v11.2h-16.5zM853.9 1839.7h16.5v11.2h-16.5zM886.2 1839.7h16.5v11.2h-16.5zM1177.5 1828.9h16.5v11.2h-16.5zM789.2 1818.0h16.5v11.2h-16.5zM886.2 1818.0h16.5v11.2h-16.5zM1161.3 1796.3h16.5v11.2h-16.5zM837.7 1774.5h16.5v11.2h-16.5zM1145.1 1763.6h16.5v11.2h-16.5zM1177.5 1752.8h16.5v11.2h-16.5zM773.0 1741.9h16.5v11.2h-16.5zM1048.0 1731.0h16.5v11.2h-16.5zM902.4 1709.3h16.5v11.2h-16.5zM611.2 1698.4h16.5v11.2h-16.5zM643.5 1698.4h16.5v11.2h-16.5zM902.4 1698.4h16.5v11.2h-16.5zM837.7 1687.6h16.5v11.2h-16.5zM773.0 1676.7h16.5v11.2h-16.5zM870.1 1676.7h16.5v11.2h-16.5zM724.4 1644.1h16.5v11.2h-16.5zM805.3 1622.3h16.5v11.2h-16.5zM999.5 1622.3h16.5v11.2h-16.5zM708.3 1611.5h16.5v11.2h-16.5zM951.0 1611.5h16.5v11.2h-16.5zM546.5 1600.6h32.7v11.2h-32.7zM821.5 1600.6h16.5v11.2h-16.5zM918.6 1600.6h16.5v11.2h-16.5zM934.8 1589.7h16.5v11.2h-16.5zM449.4 1578.9h16.5v11.2h-16.5zM967.1 1578.9h16.5v11.2h-16.5zM675.9 1568.0h16.5v11.2h-16.5zM837.7 1568.0h16.5v11.2h-16.5zM853.9 1557.1h16.5v11.2h-16.5zM870.1 1535.4h16.5v11.2h-16.5zM692.1 1513.6h16.5v11.2h-16.5zM740.6 1502.8h16.5v11.2h-16.5zM789.2 1491.9h16.5v11.2h-16.5zM918.6 1491.9h16.5v11.2h-16.5zM1064.2 1491.9h16.5v11.2h-16.5zM740.6 1470.2h16.5v11.2h-16.5zM1015.7 1459.3h16.5v11.2h-16.5zM805.3 1437.5h16.5v11.2h-16.5zM1015.7 1404.9h16.5v11.2h-16.5zM837.7 1383.2h16.5v11.2h-16.5zM1048.0 1383.2h16.5v11.2h-16.5zM1080.4 1383.2h16.5v11.2h-16.5zM805.3 1372.3h48.8v11.2h-48.8zM918.6 1372.3h16.5v11.2h-16.5zM951.0 1372.3h16.5v11.2h-16.5zM837.7 1361.5h16.5v11.2h-16.5zM886.2 1361.5h32.7v11.2h-32.7zM983.3 1361.5h16.5v11.2h-16.5zM789.2 1350.6h16.5v11.2h-16.5zM821.5 1350.6h16.5v11.2h-16.5zM853.9 1350.6h32.7v11.2h-32.7zM902.4 1350.6h16.5v11.2h-16.5zM951.0 1350.6h32.7v11.2h-32.7zM514.1 1339.7h32.7v11.2h-32.7zM562.6 1339.7h65.0v11.2h-65.0zM773.0 1339.7h48.8v11.2h-48.8zM837.7 1339.7h16.5v11.2h-16.5zM870.1 1339.7h16.5v11.2h-16.5zM530.3 1328.8h65.0v11.2h-65.0zM627.4 1328.8h81.2v11.2h-81.2zM756.8 1328.8h81.2v11.2h-81.2zM886.2 1328.8h16.5v11.2h-16.5zM562.6 1318.0h16.5v11.2h-16.5zM627.4 1318.0h16.5v11.2h-16.5zM675.9 1318.0h16.5v11.2h-16.5zM708.3 1318.0h32.7v11.2h-32.7zM821.5 1318.0h32.7v11.2h-32.7zM902.4 1318.0h16.5v11.2h-16.5zM481.7 1307.1h16.5v11.2h-16.5zM546.5 1307.1h32.7v11.2h-32.7zM611.2 1307.1h16.5v11.2h-16.5zM643.5 1307.1h16.5v11.2h-16.5zM675.9 1307.1h65.0v11.2h-65.0zM756.8 1307.1h32.7v11.2h-32.7zM821.5 1307.1h16.5v11.2h-16.5zM449.4 1296.2h16.5v11.2h-16.5zM562.6 1296.2h16.5v11.2h-16.5zM611.2 1296.2h16.5v11.2h-16.5zM659.7 1296.2h48.8v11.2h-48.8zM756.8 1296.2h32.7v11.2h-32.7zM821.5 1296.2h32.7v11.2h-32.7zM870.1 1296.2h16.5v11.2h-16.5zM449.4 1285.4h16.5v11.2h-16.5zM481.7 1285.4h16.5v11.2h-16.5zM514.1 1285.4h65.0v11.2h-65.0zM595.0 1285.4h16.5v11.2h-16.5zM627.4 1285.4h16.5v11.2h-16.5zM708.3 1285.4h16.5v11.2h-16.5zM740.6 1285.4h16.5v11.2h-16.5zM773.0 1285.4h48.8v11.2h-48.8zM578.8 1274.5h16.5v11.2h-16.5zM627.4 1274.5h16.5v11.2h-16.5zM659.7 1274.5h32.7v11.2h-32.7zM740.6 1274.5h65.0v11.2h-65.0zM514.1 1263.6h16.5v11.2h-16.5zM595.0 1263.6h32.7v11.2h-32.7zM643.5 1263.6h16.5v11.2h-16.5zM675.9 1263.6h16.5v11.2h-16.5zM740.6 1263.6h32.7v11.2h-32.7zM546.5 1252.8h32.7v11.2h-32.7zM659.7 1252.8h48.8v11.2h-48.8zM724.4 1252.8h16.5v11.2h-16.5zM805.3 1252.8h16.5v11.2h-16.5zM595.0 1241.9h32.7v11.2h-32.7zM643.5 1241.9h16.5v11.2h-16.5zM675.9 1241.9h32.7v11.2h-32.7zM675.9 1231.0h16.5v11.2h-16.5zM789.2 1231.0h32.7v11.2h-32.7zM756.8 1220.1h48.8v11.2h-48.8zM740.6 1209.3h48.8v11.2h-48.8zM740.6 1198.4h16.5v11.2h-16.5zM773.0 1198.4h16.5v11.2h-16.5z"/>
<path fill="#49368d" d="M983.3 1959.3h16.5v11.2h-16.5zM773.0 1948.4h16.5v11.2h-16.5zM740.6 1915.8h16.5v11.2h-16.5zM870.1 1915.8h16.5v11.2h-16.5zM951.0 1905.0h16.5v11.2h-16.5zM983.3 1894.1h16.5v11.2h-16.5zM1015.7 1883.2h16.5v11.2h-16.5zM821.5 1861.5h16.5v11.2h-16.5zM1112.8 1861.5h16.5v11.2h-16.5zM1161.3 1861.5h16.5v11.2h-16.5zM1048.0 1850.6h16.5v11.2h-16.5zM773.0 1839.7h16.5v11.2h-16.5zM983.3 1839.7h16.5v11.2h-16.5zM1161.3 1828.9h16.5v11.2h-16.5zM773.0 1818.0h16.5v11.2h-16.5zM1128.9 1818.0h32.7v11.2h-32.7zM999.5 1796.3h16.5v11.2h-16.5zM1177.5 1796.3h16.5v11.2h-16.5zM789.2 1785.4h16.5v11.2h-16.5zM902.4 1785.4h16.5v11.2h-16.5zM1048.0 1785.4h16.5v11.2h-16.5zM821.5 1774.5h16.5v11.2h-16.5zM934.8 1774.5h32.7v11.2h-32.7zM1015.7 1774.5h16.5v11.2h-16.5zM1048.0 1774.5h16.5v11.2h-16.5zM1112.8 1774.5h16.5v11.2h-16.5zM886.2 1763.6h16.5v11.2h-16.5zM967.1 1763.6h16.5v11.2h-16.5zM1096.6 1763.6h16.5v11.2h-16.5zM951.0 1752.8h16.5v11.2h-16.5zM1015.7 1752.8h32.7v11.2h-32.7zM853.9 1741.9h16.5v11.2h-16.5zM983.3 1741.9h16.5v11.2h-16.5zM1064.2 1741.9h16.5v11.2h-16.5zM934.8 1731.0h16.5v11.2h-16.5zM1031.9 1731.0h16.5v11.2h-16.5zM821.5 1720.2h16.5v11.2h-16.5zM967.1 1720.2h16.5v11.2h-16.5zM740.6 1709.3h16.5v11.2h-16.5zM821.5 1709.3h16.5v11.2h-16.5zM870.1 1709.3h16.5v11.2h-16.5zM756.8 1698.4h16.5v11.2h-16.5zM886.2 1698.4h16.5v11.2h-16.5zM708.3 1687.6h16.5v11.2h-16.5zM789.2 1687.6h16.5v11.2h-16.5zM821.5 1687.6h16.5v11.2h-16.5zM708.3 1665.8h16.5v11.2h-16.5zM805.3 1654.9h16.5v11.2h-16.5zM853.9 1654.9h16.5v11.2h-16.5zM886.2 1622.3h16.5v11.2h-16.5zM724.4 1611.5h16.5v11.2h-16.5zM853.9 1611.5h32.7v11.2h-32.7zM967.1 1611.5h16.5v11.2h-16.5zM789.2 1600.6h16.5v11.2h-16.5zM951.0 1600.6h16.5v11.2h-16.5zM1048.0 1600.6h16.5v11.2h-16.5zM708.3 1589.7h16.5v11.2h-16.5zM853.9 1589.7h16.5v11.2h-16.5zM918.6 1589.7h16.5v11.2h-16.5zM595.0 1578.9h16.5v11.2h-16.5zM708.3 1578.9h16.5v11.2h-16.5zM870.1 1578.9h16.5v11.2h-16.5zM1015.7 1578.9h16.5v11.2h-16.5zM643.5 1557.1h16.5v11.2h-16.5zM1015.7 1557.1h16.5v11.2h-16.5zM692.1 1546.2h16.5v11.2h-16.5zM821.5 1546.2h16.5v11.2h-16.5zM983.3 1546.2h16.5v11.2h-16.5zM675.9 1535.4h16.5v11.2h-16.5zM789.2 1535.4h16.5v11.2h-16.5zM1015.7 1535.4h32.7v11.2h-32.7zM400.8 1524.5h16.5v11.2h-16.5zM983.3 1524.5h32.7v11.2h-32.7zM853.9 1513.6h16.5v11.2h-16.5zM886.2 1513.6h16.5v11.2h-16.5zM756.8 1502.8h16.5v11.2h-16.5zM918.6 1502.8h32.7v11.2h-32.7zM951.0 1491.9h32.7v11.2h-32.7zM902.4 1481.0h32.7v11.2h-32.7zM1112.8 1470.2h16.5v11.2h-16.5zM740.6 1459.3h16.5v11.2h-16.5zM870.1 1459.3h16.5v11.2h-16.5zM870.1 1448.4h32.7v11.2h-32.7zM1128.9 1448.4h16.5v11.2h-16.5zM740.6 1437.5h16.5v11.2h-16.5zM967.1 1437.5h16.5v11.2h-16.5zM967.1 1415.8h16.5v11.2h-16.5zM837.7 1394.1h16.5v11.2h-16.5zM821.5 1383.2h16.5v11.2h-16.5zM853.9 1383.2h16.5v11.2h-16.5zM853.9 1372.3h32.7v11.2h-32.7zM902.4 1372.3h16.5v11.2h-16.5zM1048.0 1372.3h16.5v11.2h-16.5zM805.3 1361.5h16.5v11.2h-16.5zM853.9 1361.5h32.7v11.2h-32.7zM918.6 1361.5h32.7v11.2h-32.7zM611.2 1350.6h16.5v11.2h-16.5zM805.3 1350.6h16.5v11.2h-16.5zM886.2 1350.6h16.5v11.2h-16.5zM918.6 1350.6h16.5v11.2h-16.5zM627.4 1339.7h48.8v11.2h-48.8zM756.8 1339.7h16.5v11.2h-16.5zM853.9 1339.7h16.5v11.2h-16.5zM886.2 1339.7h48.8v11.2h-48.8zM514.1 1328.8h16.5v11.2h-16.5zM611.2 1328.8h16.5v11.2h-16.5zM708.3 1328.8h16.5v11.2h-16.5zM837.7 1328.8h48.8v11.2h-48.8zM918.6 1328.8h16.5v11.2h-16.5zM546.5 1318.0h16.5v11.2h-16.5zM595.0 1318.0h16.5v11.2h-16.5zM643.5 1318.0h16.5v11.2h-16.5zM740.6 1318.0h48.8v11.2h-48.8zM805.3 1318.0h16.5v11.2h-16.5zM886.2 1318.0h16.5v11.2h-16.5zM918.6 1318.0h16.5v11.2h-16.5zM497.9 1307.1h16.5v11.2h-16.5zM530.3 1307.1h16.5v11.2h-16.5zM595.0 1307.1h16.5v11.2h-16.5zM659.7 1307.1h16.5v11.2h-16.5zM740.6 1307.1h16.5v11.2h-16.5zM789.2 1307.1h16.5v11.2h-16.5zM837.7 1307.1h16.5v11.2h-16.5zM870.1 1307.1h16.5v11.2h-16.5zM530.3 1296.2h32.7v11.2h-32.7zM578.8 1296.2h16.5v11.2h-16.5zM708.3 1296.2h16.5v11.2h-16.5zM740.6 1296.2h16.5v11.2h-16.5zM789.2 1296.2h16.5v11.2h-16.5zM578.8 1285.4h16.5v11.2h-16.5zM611.2 1285.4h16.5v11.2h-16.5zM659.7 1285.4h16.5v11.2h-16.5zM692.1 1285.4h16.5v11.2h-16.5zM724.4 1285.4h16.5v11.2h-16.5zM756.8 1285.4h16.5v11.2h-16.5zM562.6 1274.5h16.5v11.2h-16.5zM611.2 1274.5h16.5v11.2h-16.5zM643.5 1274.5h16.5v11.2h-16.5zM708.3 1274.5h16.5v11.2h-16.5zM805.3 1274.5h16.5v11.2h-16.5zM530.3 1263.6h32.7v11.2h-32.7zM578.8 1263.6h16.5v11.2h-16.5zM627.4 1263.6h16.5v11.2h-16.5zM659.7 1263.6h16.5v11.2h-16.5zM708.3 1263.6h16.5v11.2h-16.5zM773.0 1263.6h16.5v11.2h-16.5zM530.3 1252.8h16.5v11.2h-16.5zM578.8 1252.8h16.5v11.2h-16.5zM611.2 1252.8h16.5v11.2h-16.5zM643.5 1252.8h16.5v11.2h-16.5zM773.0 1252.8h32.7v11.2h-32.7zM546.5 1241.9h32.7v11.2h-32.7zM789.2 1241.9h16.5v11.2h-16.5zM627.4 1231.0h16.5v11.2h-16.5zM659.7 1231.0h16.5v11.2h-16.5zM692.1 1231.0h16.5v11.2h-16.5zM805.3 1209.3h16.5v11.2h-16.5zM805.3 1198.4h16.5v11.2h-16.5z"/>
<path fill="#45368b" d="M870.1 1959.3h16.5v11.2h-16.5zM853.9 1948.4h16.5v11.2h-16.5zM853.9 1926.7h16.5v11.2h-16.5zM918.6 1926.7h16.5v11.2h-16.5zM805.3 1894.1h16.5v11.2h-16.5zM853.9 1894.1h16.5v11.2h-16.5zM1048.0 1894.1h16.5v11.2h-16.5zM1080.4 1894.1h16.5v11.2h-16.5zM837.7 1883.2h16.5v11.2h-16.5zM1031.9 1883.2h16.5v11.2h-16.5zM1112.8 1883.2h16.5v11.2h-16.5zM1161.3 1883.2h16.5v11.2h-16.5zM853.9 1872.3h32.7v11.2h-32.7zM789.2 1861.5h16.5v11.2h-16.5zM934.8 1861.5h16.5v11.2h-16.5zM983.3 1850.6h16.5v11.2h-16.5zM756.8 1828.9h16.5v11.2h-16.5zM983.3 1828.9h16.5v11.2h-16.5zM1112.8 1828.9h16.5v11.2h-16.5zM902.4 1818.0h16.5v11.2h-16.5zM1080.4 1818.0h16.5v11.2h-16.5zM1161.3 1818.0h16.5v11.2h-16.5zM756.8 1807.1h16.5v11.2h-16.5zM870.1 1807.1h16.5v11.2h-16.5zM983.3 1796.3h16.5v11.2h-16.5zM1080.4 1796.3h16.5v11.2h-16.5zM934.8 1785.4h16.5v11.2h-16.5zM1015.7 1785.4h16.5v11.2h-16.5zM1145.1 1785.4h32.7v11.2h-32.7zM870.1 1774.5h16.5v11.2h-16.5zM773.0 1763.6h32.7v11.2h-32.7zM1031.9 1763.6h16.5v11.2h-16.5zM789.2 1752.8h16.5v11.2h-16.5zM886.2 1752.8h16.5v11.2h-16.5zM999.5 1752.8h16.5v11.2h-16.5zM951.0 1741.9h16.5v11.2h-16.5zM1048.0 1741.9h16.5v11.2h-16.5zM1096.6 1741.9h16.5v11.2h-16.5zM1096.6 1731.0h16.5v11.2h-16.5zM1015.7 1709.3h16.5v11.2h-16.5zM1048.0 1709.3h32.7v11.2h-32.7zM708.3 1698.4h16.5v11.2h-16.5zM740.6 1698.4h16.5v11.2h-16.5zM837.7 1698.4h16.5v11.2h-16.5zM1048.0 1687.6h16.5v11.2h-16.5zM740.6 1676.7h16.5v11.2h-16.5zM756.8 1633.2h16.5v11.2h-16.5zM773.0 1622.3h16.5v11.2h-16.5zM902.4 1622.3h16.5v11.2h-16.5zM740.6 1600.6h32.7v11.2h-32.7zM886.2 1600.6h16.5v11.2h-16.5zM1031.9 1600.6h16.5v11.2h-16.5zM578.8 1589.7h16.5v11.2h-16.5zM821.5 1589.7h16.5v11.2h-16.5zM886.2 1589.7h16.5v11.2h-16.5zM1015.7 1589.7h16.5v11.2h-16.5zM756.8 1578.9h16.5v11.2h-16.5zM999.5 1578.9h16.5v11.2h-16.5zM1031.9 1578.9h16.5v11.2h-16.5zM627.4 1568.0h16.5v11.2h-16.5zM870.1 1568.0h48.8v11.2h-48.8zM999.5 1568.0h48.8v11.2h-48.8zM740.6 1557.1h48.8v11.2h-48.8zM902.4 1557.1h48.8v11.2h-48.8zM967.1 1557.1h32.7v11.2h-32.7zM1031.9 1557.1h16.5v11.2h-16.5zM967.1 1546.2h16.5v11.2h-16.5zM1015.7 1546.2h32.7v11.2h-32.7zM951.0 1535.4h16.5v11.2h-16.5zM983.3 1535.4h16.5v11.2h-16.5zM886.2 1524.5h16.5v11.2h-16.5zM918.6 1524.5h32.7v11.2h-32.7zM967.1 1524.5h16.5v11.2h-16.5zM1031.9 1524.5h16.5v11.2h-16.5zM708.3 1513.6h16.5v11.2h-16.5zM934.8 1513.6h32.7v11.2h-32.7zM983.3 1513.6h16.5v11.2h-16.5zM967.1 1502.8h16.5v11.2h-16.5zM724.4 1491.9h32.7v11.2h-32.7zM821.5 1491.9h16.5v11.2h-16.5zM934.8 1491.9h16.5v11.2h-16.5zM983.3 1491.9h16.5v11.2h-16.5zM1031.9 1491.9h16.5v11.2h-16.5zM870.1 1481.0h16.5v11.2h-16.5zM934.8 1481.0h16.5v11.2h-16.5zM967.1 1481.0h16.5v11.2h-16.5zM1031.9 1481.0h16.5v11.2h-16.5zM870.1 1470.2h32.7v11.2h-32.7zM918.6 1470.2h16.5v11.2h-16.5zM951.0 1470.2h16.5v11.2h-16.5zM999.5 1470.2h16.5v11.2h-16.5zM886.2 1459.3h48.8v11.2h-48.8zM853.9 1448.4h16.5v11.2h-16.5zM918.6 1448.4h16.5v11.2h-16.5zM951.0 1448.4h16.5v11.2h-16.5zM853.9 1437.5h81.2v11.2h-81.2zM837.7 1426.7h48.8v11.2h-48.8zM918.6 1426.7h16.5v11.2h-16.5zM789.2 1415.8h16.5v11.2h-16.5zM837.7 1415.8h81.2v11.2h-81.2zM934.8 1415.8h16.5v11.2h-16.5zM821.5 1404.9h65.0v11.2h-65.0zM918.6 1404.9h16.5v11.2h-16.5zM821.5 1394.1h16.5v11.2h-16.5zM853.9 1394.1h32.7v11.2h-32.7zM902.4 1394.1h48.8v11.2h-48.8zM1112.8 1394.1h16.5v11.2h-16.5zM902.4 1383.2h16.5v11.2h-16.5zM934.8 1383.2h16.5v11.2h-16.5zM886.2 1372.3h16.5v11.2h-16.5zM934.8 1372.3h16.5v11.2h-16.5zM530.3 1350.6h32.7v11.2h-32.7zM740.6 1328.8h16.5v11.2h-16.5zM659.7 1318.0h16.5v11.2h-16.5zM886.2 1307.1h16.5v11.2h-16.5zM546.5 1274.5h16.5v11.2h-16.5zM821.5 1209.3h16.5v11.2h-16.5z"/>
<path fill="#413789" d="M1015.7 1970.2h16.5v11.2h-16.5zM805.3 1959.3h16.5v11.2h-16.5zM1031.9 1959.3h16.5v11.2h-16.5zM1080.4 1948.4h16.5v11.2h-16.5zM1015.7 1937.6h16.5v11.2h-16.5zM934.8 1926.7h16.5v11.2h-16.5zM1080.4 1926.7h16.5v11.2h-16.5zM1048.0 1915.8h32.7v11.2h-32.7zM1128.9 1915.8h16.5v11.2h-16.5zM967.1 1905.0h16.5v11.2h-16.5zM870.1 1894.1h16.5v11.2h-16.5zM999.5 1894.1h16.5v11.2h-16.5zM1064.2 1894.1h16.5v11.2h-16.5zM967.1 1883.2h32.7v11.2h-32.7zM951.0 1872.3h16.5v11.2h-16.5zM983.3 1872.3h16.5v11.2h-16.5zM1015.7 1872.3h16.5v11.2h-16.5zM1161.3 1872.3h16.5v11.2h-16.5zM1096.6 1861.5h16.5v11.2h-16.5zM821.5 1850.6h32.7v11.2h-32.7zM918.6 1839.7h16.5v11.2h-16.5zM1015.7 1839.7h32.7v11.2h-32.7zM1193.7 1839.7h16.5v11.2h-16.5zM1048.0 1828.9h16.5v11.2h-16.5zM1193.7 1828.9h16.5v11.2h-16.5zM951.0 1818.0h32.7v11.2h-32.7zM853.9 1807.1h16.5v11.2h-16.5zM967.1 1807.1h16.5v11.2h-16.5zM1112.8 1807.1h16.5v11.2h-16.5zM1064.2 1796.3h16.5v11.2h-16.5zM853.9 1785.4h16.5v11.2h-16.5zM886.2 1785.4h16.5v11.2h-16.5zM853.9 1774.5h16.5v11.2h-16.5zM805.3 1763.6h16.5v11.2h-16.5zM853.9 1763.6h32.7v11.2h-32.7zM983.3 1763.6h16.5v11.2h-16.5zM756.8 1752.8h16.5v11.2h-16.5zM1048.0 1752.8h16.5v11.2h-16.5zM1096.6 1752.8h16.5v11.2h-16.5zM983.3 1709.3h16.5v11.2h-16.5zM870.1 1698.4h16.5v11.2h-16.5zM1080.4 1698.4h16.5v11.2h-16.5zM1064.2 1676.7h16.5v11.2h-16.5zM708.3 1654.9h16.5v11.2h-16.5zM400.8 1600.6h16.5v11.2h-16.5zM983.3 1600.6h16.5v11.2h-16.5zM1031.9 1589.7h16.5v11.2h-16.5zM724.4 1578.9h16.5v11.2h-16.5zM983.3 1568.0h16.5v11.2h-16.5zM1048.0 1568.0h16.5v11.2h-16.5zM999.5 1557.1h16.5v11.2h-16.5zM999.5 1546.2h16.5v11.2h-16.5zM1048.0 1546.2h16.5v11.2h-16.5zM886.2 1535.4h16.5v11.2h-16.5zM967.1 1535.4h16.5v11.2h-16.5zM999.5 1535.4h16.5v11.2h-16.5zM821.5 1524.5h16.5v11.2h-16.5zM951.0 1524.5h16.5v11.2h-16.5zM918.6 1513.6h16.5v11.2h-16.5zM999.5 1513.6h16.5v11.2h-16.5zM951.0 1502.8h16.5v11.2h-16.5zM1015.7 1502.8h16.5v11.2h-16.5zM902.4 1491.9h16.5v11.2h-16.5zM886.2 1481.0h16.5v11.2h-16.5zM951.0 1481.0h16.5v11.2h-16.5zM983.3 1481.0h16.5v11.2h-16.5zM756.8 1470.2h16.5v11.2h-16.5zM902.4 1470.2h16.5v11.2h-16.5zM934.8 1470.2h16.5v11.2h-16.5zM837.7 1459.3h32.7v11.2h-32.7zM934.8 1459.3h32.7v11.2h-32.7zM902.4 1448.4h16.5v11.2h-16.5zM934.8 1448.4h16.5v11.2h-16.5zM789.2 1437.5h16.5v11.2h-16.5zM934.8 1437.5h16.5v11.2h-16.5zM886.2 1426.7h32.7v11.2h-32.7zM934.8 1426.7h16.5v11.2h-16.5zM999.5 1426.7h16.5v11.2h-16.5zM1048.0 1426.7h16.5v11.2h-16.5zM886.2 1404.9h32.7v11.2h-32.7zM934.8 1404.9h16.5v11.2h-16.5zM999.5 1394.1h16.5v11.2h-16.5zM1096.6 1383.2h16.5v11.2h-16.5zM789.2 1361.5h16.5v11.2h-16.5zM481.7 1350.6h16.5v11.2h-16.5zM562.6 1350.6h16.5v11.2h-16.5zM595.0 1350.6h16.5v11.2h-16.5zM627.4 1350.6h16.5v11.2h-16.5zM692.1 1339.7h16.5v11.2h-16.5zM853.9 1285.4h16.5v11.2h-16.5zM821.5 1263.6h16.5v11.2h-16.5zM821.5 1252.8h16.5v11.2h-16.5zM821.5 1220.1h16.5v11.2h-16.5z"/>
<path fill="#3d3788" d="M918.6 1959.3h16.5v11.2h-16.5zM1048.0 1959.3h16.5v11.2h-16.5zM999.5 1948.4h48.8v11.2h-48.8zM1064.2 1948.4h16.5v11.2h-16.5zM1048.0 1926.7h32.7v11.2h-32.7zM1096.6 1915.8h16.5v11.2h-16.5zM1145.1 1894.1h16.5v11.2h-16.5zM853.9 1883.2h16.5v11.2h-16.5zM918.6 1883.2h16.5v11.2h-16.5zM886.2 1872.3h16.5v11.2h-16.5zM1112.8 1872.3h16.5v11.2h-16.5zM902.4 1839.7h16.5v11.2h-16.5zM934.8 1839.7h16.5v11.2h-16.5zM1096.6 1839.7h16.5v11.2h-16.5zM1128.9 1839.7h16.5v11.2h-16.5zM740.6 1828.9h16.5v11.2h-16.5zM853.9 1828.9h16.5v11.2h-16.5zM934.8 1828.9h16.5v11.2h-16.5zM1128.9 1828.9h16.5v11.2h-16.5zM1031.9 1807.1h16.5v11.2h-16.5zM902.4 1796.3h16.5v11.2h-16.5zM1031.9 1785.4h16.5v11.2h-16.5zM1064.2 1785.4h16.5v11.2h-16.5zM1193.7 1785.4h16.5v11.2h-16.5zM773.0 1774.5h32.7v11.2h-32.7zM1031.9 1774.5h16.5v11.2h-16.5zM1096.6 1774.5h16.5v11.2h-16.5zM934.8 1763.6h16.5v11.2h-16.5zM999.5 1763.6h32.7v11.2h-32.7zM853.9 1752.8h16.5v11.2h-16.5zM675.9 1687.6h16.5v11.2h-16.5zM692.1 1676.7h16.5v11.2h-16.5zM708.3 1600.6h16.5v11.2h-16.5zM692.1 1589.7h16.5v11.2h-16.5zM578.8 1578.9h16.5v11.2h-16.5zM983.3 1578.9h16.5v11.2h-16.5zM967.1 1568.0h16.5v11.2h-16.5zM951.0 1557.1h16.5v11.2h-16.5zM417.0 1546.2h16.5v11.2h-16.5zM675.9 1546.2h16.5v11.2h-16.5zM951.0 1546.2h16.5v11.2h-16.5zM967.1 1513.6h16.5v11.2h-16.5zM886.2 1502.8h16.5v11.2h-16.5zM870.1 1491.9h16.5v11.2h-16.5zM999.5 1491.9h16.5v11.2h-16.5zM1080.4 1491.9h16.5v11.2h-16.5zM870.1 1383.2h32.7v11.2h-32.7zM934.8 1350.6h16.5v11.2h-16.5zM934.8 1339.7h16.5v11.2h-16.5zM821.5 1231.0h16.5v11.2h-16.5z"/>
<path fill="#393886" d="M805.3 1970.2h16.5v11.2h-16.5zM1031.9 1970.2h16.5v11.2h-16.5zM837.7 1948.4h16.5v11.2h-16.5zM821.5 1937.6h16.5v11.2h-16.5zM1031.9 1926.7h16.5v11.2h-16.5zM724.4 1905.0h16.5v11.2h-16.5zM821.5 1905.0h32.7v11.2h-32.7zM918.6 1905.0h16.5v11.2h-16.5zM724.4 1894.1h16.5v11.2h-16.5zM999.5 1883.2h16.5v11.2h-16.5zM951.0 1861.5h16.5v11.2h-16.5zM1031.9 1861.5h16.5v11.2h-16.5zM918.6 1850.6h16.5v11.2h-16.5zM1031.9 1850.6h16.5v11.2h-16.5zM837.7 1839.7h16.5v11.2h-16.5zM951.0 1839.7h16.5v11.2h-16.5zM967.1 1828.9h16.5v11.2h-16.5zM837.7 1818.0h16.5v11.2h-16.5zM999.5 1818.0h16.5v11.2h-16.5zM999.5 1807.1h16.5v11.2h-16.5zM1064.2 1807.1h16.5v11.2h-16.5zM1193.7 1807.1h16.5v11.2h-16.5zM740.6 1774.5h16.5v11.2h-16.5zM1145.1 1741.9h16.5v11.2h-16.5zM1080.4 1731.0h16.5v11.2h-16.5zM417.0 1709.3h16.5v11.2h-16.5zM578.8 1709.3h16.5v11.2h-16.5zM1031.9 1709.3h16.5v11.2h-16.5zM659.7 1698.4h16.5v11.2h-16.5zM821.5 1698.4h16.5v11.2h-16.5zM530.3 1687.6h16.5v11.2h-16.5zM853.9 1687.6h16.5v11.2h-16.5zM837.7 1676.7h16.5v11.2h-16.5zM853.9 1665.8h16.5v11.2h-16.5zM1031.9 1654.9h16.5v11.2h-16.5zM724.4 1622.3h16.5v11.2h-16.5zM1015.7 1611.5h16.5v11.2h-16.5zM465.6 1589.7h16.5v11.2h-16.5zM967.1 1589.7h32.7v11.2h-32.7zM1048.0 1589.7h16.5v11.2h-16.5zM611.2 1578.9h16.5v11.2h-16.5zM934.8 1578.9h16.5v11.2h-16.5zM417.0 1568.0h16.5v11.2h-16.5zM692.1 1557.1h16.5v11.2h-16.5zM837.7 1557.1h16.5v11.2h-16.5zM870.1 1546.2h16.5v11.2h-16.5zM934.8 1546.2h16.5v11.2h-16.5zM837.7 1535.4h16.5v11.2h-16.5zM902.4 1535.4h16.5v11.2h-16.5zM384.7 1524.5h16.5v11.2h-16.5zM708.3 1524.5h32.7v11.2h-32.7zM837.7 1524.5h16.5v11.2h-16.5zM384.7 1513.6h16.5v11.2h-16.5zM756.8 1513.6h16.5v11.2h-16.5zM1048.0 1513.6h16.5v11.2h-16.5zM870.1 1502.8h16.5v11.2h-16.5zM1048.0 1502.8h16.5v11.2h-16.5zM853.9 1491.9h16.5v11.2h-16.5zM999.5 1481.0h16.5v11.2h-16.5zM821.5 1459.3h16.5v11.2h-16.5zM1112.8 1459.3h16.5v11.2h-16.5zM756.8 1448.4h16.5v11.2h-16.5zM967.1 1448.4h16.5v11.2h-16.5zM1080.4 1426.7h16.5v11.2h-16.5zM805.3 1415.8h16.5v11.2h-16.5zM1031.9 1415.8h16.5v11.2h-16.5zM805.3 1404.9h16.5v11.2h-16.5zM756.8 1394.1h16.5v11.2h-16.5zM805.3 1394.1h16.5v11.2h-16.5zM1064.2 1394.1h16.5v11.2h-16.5zM789.2 1383.2h16.5v11.2h-16.5zM918.6 1383.2h16.5v11.2h-16.5zM1015.7 1383.2h32.7v11.2h-32.7zM1112.8 1383.2h16.5v11.2h-16.5zM724.4 1339.7h16.5v11.2h-16.5zM918.6 1307.1h16.5v11.2h-16.5zM870.1 1285.4h16.5v11.2h-16.5z"/>
<path fill="#343884" d="M756.8 1991.9h16.5v11.2h-16.5zM821.5 1948.4h16.5v11.2h-16.5zM902.4 1948.4h16.5v11.2h-16.5zM886.2 1937.6h16.5v11.2h-16.5zM918.6 1937.6h32.7v11.2h-32.7zM983.3 1937.6h16.5v11.2h-16.5zM821.5 1926.7h16.5v11.2h-16.5zM870.1 1926.7h16.5v11.2h-16.5zM902.4 1926.7h16.5v11.2h-16.5zM1112.8 1926.7h16.5v11.2h-16.5zM805.3 1915.8h16.5v11.2h-16.5zM837.7 1915.8h16.5v11.2h-16.5zM886.2 1915.8h16.5v11.2h-16.5zM692.1 1905.0h16.5v11.2h-16.5zM805.3 1905.0h16.5v11.2h-16.5zM789.2 1894.1h16.5v11.2h-16.5zM837.7 1894.1h16.5v11.2h-16.5zM918.6 1894.1h16.5v11.2h-16.5zM756.8 1883.2h32.7v11.2h-32.7zM805.3 1883.2h16.5v11.2h-16.5zM724.4 1872.3h16.5v11.2h-16.5zM805.3 1872.3h16.5v11.2h-16.5zM1177.5 1872.3h16.5v11.2h-16.5zM756.8 1839.7h16.5v11.2h-16.5zM724.4 1774.5h16.5v11.2h-16.5zM708.3 1752.8h16.5v11.2h-16.5zM1128.9 1752.8h16.5v11.2h-16.5zM724.4 1741.9h16.5v11.2h-16.5zM675.9 1731.0h16.5v11.2h-16.5zM756.8 1731.0h32.7v11.2h-32.7zM595.0 1720.2h16.5v11.2h-16.5zM756.8 1720.2h16.5v11.2h-16.5zM789.2 1720.2h16.5v11.2h-16.5zM886.2 1720.2h16.5v11.2h-16.5zM918.6 1720.2h16.5v11.2h-16.5zM951.0 1720.2h16.5v11.2h-16.5zM1031.9 1720.2h16.5v11.2h-16.5zM918.6 1709.3h16.5v11.2h-16.5zM384.7 1698.4h16.5v11.2h-16.5zM562.6 1698.4h32.7v11.2h-32.7zM692.1 1698.4h16.5v11.2h-16.5zM773.0 1698.4h32.7v11.2h-32.7zM1048.0 1698.4h32.7v11.2h-32.7zM514.1 1687.6h16.5v11.2h-16.5zM724.4 1687.6h32.7v11.2h-32.7zM805.3 1687.6h16.5v11.2h-16.5zM740.6 1665.8h32.7v11.2h-32.7zM805.3 1665.8h48.8v11.2h-48.8zM756.8 1654.9h16.5v11.2h-16.5zM773.0 1644.1h16.5v11.2h-16.5zM853.9 1644.1h16.5v11.2h-16.5zM1048.0 1644.1h16.5v11.2h-16.5zM724.4 1633.2h16.5v11.2h-16.5zM870.1 1633.2h16.5v11.2h-16.5zM837.7 1622.3h16.5v11.2h-16.5zM918.6 1622.3h16.5v11.2h-16.5zM805.3 1611.5h32.7v11.2h-32.7zM902.4 1611.5h32.7v11.2h-32.7zM983.3 1611.5h16.5v11.2h-16.5zM1048.0 1611.5h16.5v11.2h-16.5zM724.4 1600.6h16.5v11.2h-16.5zM853.9 1600.6h32.7v11.2h-32.7zM902.4 1600.6h16.5v11.2h-16.5zM999.5 1600.6h16.5v11.2h-16.5zM481.7 1589.7h16.5v11.2h-16.5zM724.4 1589.7h16.5v11.2h-16.5zM789.2 1589.7h16.5v11.2h-16.5zM837.7 1589.7h16.5v11.2h-16.5zM870.1 1589.7h16.5v11.2h-16.5zM740.6 1578.9h16.5v11.2h-16.5zM773.0 1578.9h16.5v11.2h-16.5zM805.3 1578.9h16.5v11.2h-16.5zM837.7 1578.9h16.5v11.2h-16.5zM902.4 1578.9h16.5v11.2h-16.5zM1048.0 1578.9h16.5v11.2h-16.5zM449.4 1568.0h16.5v11.2h-16.5zM659.7 1568.0h16.5v11.2h-16.5zM708.3 1568.0h16.5v11.2h-16.5zM773.0 1568.0h16.5v11.2h-16.5zM821.5 1568.0h16.5v11.2h-16.5zM918.6 1568.0h16.5v11.2h-16.5zM433.2 1557.1h16.5v11.2h-16.5zM789.2 1557.1h16.5v11.2h-16.5zM708.3 1546.2h16.5v11.2h-16.5zM773.0 1546.2h16.5v11.2h-16.5zM805.3 1546.2h16.5v11.2h-16.5zM902.4 1546.2h16.5v11.2h-16.5zM1048.0 1535.4h16.5v11.2h-16.5zM740.6 1524.5h16.5v11.2h-16.5zM1048.0 1524.5h16.5v11.2h-16.5zM773.0 1513.6h32.7v11.2h-32.7zM837.7 1513.6h16.5v11.2h-16.5zM870.1 1513.6h16.5v11.2h-16.5zM692.1 1502.8h16.5v11.2h-16.5zM789.2 1502.8h16.5v11.2h-16.5zM1048.0 1491.9h16.5v11.2h-16.5zM740.6 1481.0h16.5v11.2h-16.5zM773.0 1481.0h16.5v11.2h-16.5zM805.3 1481.0h48.8v11.2h-48.8zM1015.7 1481.0h16.5v11.2h-16.5zM1048.0 1481.0h16.5v11.2h-16.5zM1080.4 1481.0h16.5v11.2h-16.5zM1015.7 1470.2h16.5v11.2h-16.5zM1064.2 1470.2h16.5v11.2h-16.5zM805.3 1459.3h16.5v11.2h-16.5zM983.3 1459.3h16.5v11.2h-16.5zM1080.4 1459.3h32.7v11.2h-32.7zM773.0 1448.4h32.7v11.2h-32.7zM1015.7 1448.4h16.5v11.2h-16.5zM773.0 1437.5h16.5v11.2h-16.5zM983.3 1437.5h48.8v11.2h-48.8zM805.3 1426.7h16.5v11.2h-16.5zM1096.6 1426.7h16.5v11.2h-16.5zM773.0 1415.8h16.5v11.2h-16.5zM951.0 1415.8h16.5v11.2h-16.5zM1048.0 1415.8h16.5v11.2h-16.5zM1096.6 1415.8h16.5v11.2h-16.5zM983.3 1404.9h16.5v11.2h-16.5zM1031.9 1404.9h16.5v11.2h-16.5zM789.2 1394.1h16.5v11.2h-16.5zM1080.4 1394.1h16.5v11.2h-16.5zM675.9 1383.2h16.5v11.2h-16.5zM967.1 1383.2h16.5v11.2h-16.5zM789.2 1372.3h16.5v11.2h-16.5zM967.1 1372.3h16.5v11.2h-16.5zM999.5 1372.3h16.5v11.2h-16.5zM1031.9 1372.3h16.5v11.2h-16.5zM999.5 1350.6h16.5v11.2h-16.5zM951.0 1339.7h32.7v11.2h-32.7zM886.2 1296.2h16.5v11.2h-16.5zM805.3 1220.1h16.5v11.2h-16.5z"/>
<path fill="#303882" d="M1080.4 1959.3h16.5v11.2h-16.5zM773.0 1937.6h16.5v11.2h-16.5zM1145.1 1915.8h16.5v11.2h-16.5zM1112.8 1905.0h16.5v11.2h-16.5zM902.4 1894.1h16.5v11.2h-16.5zM740.6 1883.2h16.5v11.2h-16.5zM821.5 1872.3h16.5v11.2h-16.5zM740.6 1861.5h16.5v11.2h-16.5zM805.3 1861.5h16.5v11.2h-16.5zM756.8 1850.6h16.5v11.2h-16.5zM1064.2 1850.6h16.5v11.2h-16.5zM789.2 1839.7h32.7v11.2h-32.7zM773.0 1828.9h16.5v11.2h-16.5zM951.0 1828.9h16.5v11.2h-16.5zM1145.1 1828.9h16.5v11.2h-16.5zM821.5 1818.0h16.5v11.2h-16.5zM1128.9 1796.3h32.7v11.2h-32.7zM675.9 1774.5h16.5v11.2h-16.5zM708.3 1763.6h16.5v11.2h-16.5zM740.6 1752.8h16.5v11.2h-16.5zM902.4 1741.9h16.5v11.2h-16.5zM967.1 1741.9h16.5v11.2h-16.5zM999.5 1741.9h16.5v11.2h-16.5zM724.4 1731.0h16.5v11.2h-16.5zM789.2 1731.0h32.7v11.2h-32.7zM886.2 1731.0h16.5v11.2h-16.5zM1015.7 1731.0h16.5v11.2h-16.5zM643.5 1720.2h16.5v11.2h-16.5zM805.3 1720.2h16.5v11.2h-16.5zM951.0 1709.3h16.5v11.2h-16.5zM999.5 1709.3h16.5v11.2h-16.5zM675.9 1698.4h16.5v11.2h-16.5zM352.3 1687.6h16.5v11.2h-16.5zM1015.7 1687.6h16.5v11.2h-16.5zM805.3 1676.7h16.5v11.2h-16.5zM1048.0 1654.9h16.5v11.2h-16.5zM837.7 1644.1h16.5v11.2h-16.5zM740.6 1633.2h16.5v11.2h-16.5zM773.0 1633.2h16.5v11.2h-16.5zM837.7 1633.2h16.5v11.2h-16.5zM1031.9 1633.2h16.5v11.2h-16.5zM951.0 1622.3h16.5v11.2h-16.5zM886.2 1611.5h16.5v11.2h-16.5zM497.9 1589.7h16.5v11.2h-16.5zM530.3 1589.7h16.5v11.2h-16.5zM789.2 1578.9h16.5v11.2h-16.5zM724.4 1568.0h32.7v11.2h-32.7zM692.1 1524.5h16.5v11.2h-16.5zM853.9 1524.5h16.5v11.2h-16.5zM1015.7 1524.5h16.5v11.2h-16.5zM724.4 1513.6h16.5v11.2h-16.5zM1015.7 1513.6h16.5v11.2h-16.5zM1096.6 1481.0h16.5v11.2h-16.5zM853.9 1470.2h16.5v11.2h-16.5zM967.1 1470.2h16.5v11.2h-16.5zM1048.0 1470.2h16.5v11.2h-16.5zM999.5 1448.4h16.5v11.2h-16.5zM1031.9 1448.4h16.5v11.2h-16.5zM756.8 1437.5h16.5v11.2h-16.5zM756.8 1426.7h16.5v11.2h-16.5zM1112.8 1415.8h16.5v11.2h-16.5zM1048.0 1404.9h16.5v11.2h-16.5zM1112.8 1404.9h16.5v11.2h-16.5zM1048.0 1394.1h16.5v11.2h-16.5zM805.3 1383.2h16.5v11.2h-16.5zM659.7 1361.5h16.5v11.2h-16.5zM724.4 1361.5h16.5v11.2h-16.5zM1031.9 1361.5h16.5v11.2h-16.5zM643.5 1350.6h65.0v11.2h-65.0zM756.8 1350.6h32.7v11.2h-32.7z"/>
<path fill="#2c3980" d="M789.2 1970.2h16.5v11.2h-16.5zM756.8 1959.3h32.7v11.2h-32.7zM999.5 1959.3h16.5v11.2h-16.5zM951.0 1937.6h16.5v11.2h-16.5zM1080.4 1937.6h16.5v11.2h-16.5zM999.5 1926.7h32.7v11.2h-32.7zM1128.9 1905.0h32.7v11.2h-32.7zM886.2 1883.2h16.5v11.2h-16.5zM934.8 1883.2h16.5v11.2h-16.5zM918.6 1872.3h16.5v11.2h-16.5zM999.5 1872.3h16.5v11.2h-16.5zM886.2 1861.5h32.7v11.2h-32.7zM1015.7 1861.5h16.5v11.2h-16.5zM1064.2 1861.5h16.5v11.2h-16.5zM886.2 1850.6h16.5v11.2h-16.5zM999.5 1850.6h16.5v11.2h-16.5zM1096.6 1850.6h16.5v11.2h-16.5zM1145.1 1850.6h16.5v11.2h-16.5zM1177.5 1850.6h16.5v11.2h-16.5zM967.1 1839.7h16.5v11.2h-16.5zM1064.2 1839.7h16.5v11.2h-16.5zM789.2 1828.9h16.5v11.2h-16.5zM870.1 1828.9h32.7v11.2h-32.7zM918.6 1828.9h16.5v11.2h-16.5zM1064.2 1828.9h16.5v11.2h-16.5zM870.1 1818.0h16.5v11.2h-16.5zM773.0 1807.1h16.5v11.2h-16.5zM837.7 1807.1h16.5v11.2h-16.5zM902.4 1807.1h16.5v11.2h-16.5zM934.8 1807.1h16.5v11.2h-16.5zM1145.1 1807.1h16.5v11.2h-16.5zM1031.9 1796.3h16.5v11.2h-16.5zM918.6 1785.4h16.5v11.2h-16.5zM967.1 1785.4h32.7v11.2h-32.7zM756.8 1774.5h16.5v11.2h-16.5zM918.6 1774.5h16.5v11.2h-16.5zM1064.2 1774.5h16.5v11.2h-16.5zM740.6 1763.6h16.5v11.2h-16.5zM1064.2 1763.6h16.5v11.2h-16.5zM821.5 1752.8h32.7v11.2h-32.7zM934.8 1752.8h16.5v11.2h-16.5zM789.2 1741.9h16.5v11.2h-16.5zM1096.6 1720.2h16.5v11.2h-16.5zM675.9 1709.3h16.5v11.2h-16.5zM934.8 1709.3h16.5v11.2h-16.5zM481.7 1687.6h16.5v11.2h-16.5zM1048.0 1665.8h16.5v11.2h-16.5zM870.1 1644.1h16.5v11.2h-16.5zM1015.7 1633.2h16.5v11.2h-16.5zM934.8 1622.3h16.5v11.2h-16.5zM967.1 1622.3h32.7v11.2h-32.7zM1015.7 1600.6h16.5v11.2h-16.5zM999.5 1589.7h16.5v11.2h-16.5zM465.6 1568.0h16.5v11.2h-16.5zM611.2 1568.0h16.5v11.2h-16.5zM627.4 1557.1h16.5v11.2h-16.5zM1064.2 1557.1h16.5v11.2h-16.5zM659.7 1546.2h16.5v11.2h-16.5zM449.4 1535.4h16.5v11.2h-16.5zM675.9 1524.5h16.5v11.2h-16.5zM1031.9 1513.6h16.5v11.2h-16.5zM1064.2 1513.6h16.5v11.2h-16.5zM740.6 1448.4h16.5v11.2h-16.5zM756.8 1415.8h16.5v11.2h-16.5zM1064.2 1372.3h16.5v11.2h-16.5zM1015.7 1350.6h16.5v11.2h-16.5zM983.3 1339.7h16.5v11.2h-16.5zM951.0 1328.8h16.5v11.2h-16.5zM934.8 1318.0h16.5v11.2h-16.5z"/>
<path fill="#28397f" d="M821.5 1959.3h16.5v11.2h-16.5zM886.2 1959.3h32.7v11.2h-32.7zM951.0 1959.3h16.5v11.2h-16.5zM805.3 1937.6h16.5v11.2h-16.5zM724.4 1926.7h16.5v11.2h-16.5zM692.1 1915.8h16.5v11.2h-16.5zM918.6 1915.8h16.5v11.2h-16.5zM967.1 1915.8h16.5v11.2h-16.5zM773.0 1905.0h16.5v11.2h-16.5zM1128.9 1894.1h16.5v11.2h-16.5zM1080.4 1883.2h16.5v11.2h-16.5zM1128.9 1883.2h16.5v11.2h-16.5zM902.4 1872.3h16.5v11.2h-16.5zM1080.4 1872.3h32.7v11.2h-32.7zM1145.1 1872.3h16.5v11.2h-16.5zM853.9 1861.5h16.5v11.2h-16.5zM918.6 1861.5h16.5v11.2h-16.5zM724.4 1850.6h16.5v11.2h-16.5zM967.1 1850.6h16.5v11.2h-16.5zM1112.8 1850.6h16.5v11.2h-16.5zM805.3 1828.9h16.5v11.2h-16.5zM837.7 1828.9h16.5v11.2h-16.5zM756.8 1818.0h16.5v11.2h-16.5zM1015.7 1818.0h16.5v11.2h-16.5zM1096.6 1818.0h16.5v11.2h-16.5zM821.5 1807.1h16.5v11.2h-16.5zM951.0 1807.1h16.5v11.2h-16.5zM1015.7 1807.1h16.5v11.2h-16.5zM1080.4 1807.1h16.5v11.2h-16.5zM773.0 1796.3h16.5v11.2h-16.5zM951.0 1796.3h32.7v11.2h-32.7zM773.0 1785.4h16.5v11.2h-16.5zM805.3 1785.4h16.5v11.2h-16.5zM1112.8 1785.4h16.5v11.2h-16.5zM1161.3 1774.5h16.5v11.2h-16.5zM773.0 1752.8h16.5v11.2h-16.5zM902.4 1752.8h16.5v11.2h-16.5zM1064.2 1752.8h16.5v11.2h-16.5zM595.0 1741.9h16.5v11.2h-16.5zM805.3 1741.9h16.5v11.2h-16.5zM918.6 1741.9h16.5v11.2h-16.5zM1177.5 1741.9h16.5v11.2h-16.5zM692.1 1731.0h16.5v11.2h-16.5zM1112.8 1731.0h16.5v11.2h-16.5zM886.2 1687.6h16.5v11.2h-16.5zM853.9 1676.7h16.5v11.2h-16.5zM740.6 1654.9h16.5v11.2h-16.5zM1064.2 1633.2h16.5v11.2h-16.5zM1064.2 1622.3h16.5v11.2h-16.5zM724.4 1557.1h16.5v11.2h-16.5zM1064.2 1546.2h16.5v11.2h-16.5zM1064.2 1535.4h16.5v11.2h-16.5zM999.5 1502.8h16.5v11.2h-16.5zM1064.2 1502.8h16.5v11.2h-16.5zM837.7 1491.9h16.5v11.2h-16.5zM886.2 1491.9h16.5v11.2h-16.5zM951.0 1426.7h16.5v11.2h-16.5zM1080.4 1415.8h16.5v11.2h-16.5zM756.8 1404.9h32.7v11.2h-32.7zM951.0 1394.1h16.5v11.2h-16.5zM1031.9 1394.1h16.5v11.2h-16.5zM595.0 1361.5h16.5v11.2h-16.5zM1048.0 1361.5h16.5v11.2h-16.5zM578.8 1350.6h16.5v11.2h-16.5z"/>
<path fill="#243a7d" d="M724.4 1981.0h16.5v11.2h-16.5zM934.8 1959.3h16.5v11.2h-16.5zM740.6 1948.4h16.5v11.2h-16.5zM967.1 1948.4h16.5v11.2h-16.5zM1031.9 1937.6h16.5v11.2h-16.5zM983.3 1926.7h16.5v11.2h-16.5zM983.3 1915.8h32.7v11.2h-32.7zM1112.8 1915.8h16.5v11.2h-16.5zM934.8 1905.0h16.5v11.2h-16.5zM756.8 1894.1h16.5v11.2h-16.5zM886.2 1894.1h16.5v11.2h-16.5zM692.1 1796.3h16.5v11.2h-16.5zM740.6 1796.3h16.5v11.2h-16.5zM1193.7 1774.5h16.5v11.2h-16.5zM1193.7 1763.6h16.5v11.2h-16.5zM983.3 1720.2h16.5v11.2h-16.5zM1112.8 1720.2h16.5v11.2h-16.5zM1064.2 1665.8h16.5v11.2h-16.5zM773.0 1654.9h16.5v11.2h-16.5zM821.5 1622.3h16.5v11.2h-16.5zM1015.7 1622.3h16.5v11.2h-16.5zM740.6 1589.7h16.5v11.2h-16.5zM853.9 1578.9h16.5v11.2h-16.5zM951.0 1568.0h16.5v11.2h-16.5zM1064.2 1568.0h16.5v11.2h-16.5zM675.9 1557.1h16.5v11.2h-16.5zM805.3 1557.1h16.5v11.2h-16.5zM708.3 1535.4h16.5v11.2h-16.5zM821.5 1535.4h16.5v11.2h-16.5zM902.4 1524.5h16.5v11.2h-16.5zM756.8 1491.9h16.5v11.2h-16.5zM805.3 1491.9h16.5v11.2h-16.5zM773.0 1470.2h16.5v11.2h-16.5zM1031.9 1470.2h16.5v11.2h-16.5zM789.2 1459.3h16.5v11.2h-16.5zM1064.2 1426.7h16.5v11.2h-16.5zM1128.9 1426.7h16.5v11.2h-16.5zM740.6 1415.8h16.5v11.2h-16.5zM983.3 1415.8h16.5v11.2h-16.5zM789.2 1404.9h16.5v11.2h-16.5zM1015.7 1394.1h16.5v11.2h-16.5zM1096.6 1394.1h16.5v11.2h-16.5zM546.5 1372.3h16.5v11.2h-16.5zM1080.4 1372.3h16.5v11.2h-16.5zM967.1 1361.5h16.5v11.2h-16.5zM740.6 1339.7h16.5v11.2h-16.5zM967.1 1328.8h16.5v11.2h-16.5z"/>
<path fill="#203a7b" d="M1015.7 1959.3h16.5v11.2h-16.5zM918.6 1948.4h48.8v11.2h-48.8zM1048.0 1948.4h16.5v11.2h-16.5zM870.1 1937.6h16.5v11.2h-16.5zM967.1 1926.7h16.5v11.2h-16.5zM1096.6 1926.7h16.5v11.2h-16.5zM1080.4 1915.8h16.5v11.2h-16.5zM1031.9 1905.0h16.5v11.2h-16.5zM740.6 1894.1h16.5v11.2h-16.5zM1177.5 1894.1h16.5v11.2h-16.5zM853.9 1850.6h16.5v11.2h-16.5zM853.9 1818.0h16.5v11.2h-16.5zM1177.5 1818.0h16.5v11.2h-16.5zM1161.3 1807.1h16.5v11.2h-16.5zM918.6 1796.3h16.5v11.2h-16.5zM902.4 1774.5h16.5v11.2h-16.5zM983.3 1774.5h16.5v11.2h-16.5zM1145.1 1774.5h16.5v11.2h-16.5zM756.8 1763.6h16.5v11.2h-16.5zM1161.3 1763.6h16.5v11.2h-16.5zM1015.7 1741.9h16.5v11.2h-16.5zM595.0 1731.0h16.5v11.2h-16.5zM837.7 1731.0h16.5v11.2h-16.5zM918.6 1731.0h16.5v11.2h-16.5zM999.5 1731.0h16.5v11.2h-16.5zM1064.2 1731.0h16.5v11.2h-16.5zM999.5 1720.2h16.5v11.2h-16.5zM611.2 1709.3h32.7v11.2h-32.7zM805.3 1709.3h16.5v11.2h-16.5zM886.2 1709.3h16.5v11.2h-16.5zM595.0 1698.4h16.5v11.2h-16.5zM756.8 1687.6h16.5v11.2h-16.5zM1015.7 1665.8h16.5v11.2h-16.5zM821.5 1644.1h16.5v11.2h-16.5zM1064.2 1644.1h16.5v11.2h-16.5zM821.5 1633.2h16.5v11.2h-16.5zM789.2 1622.3h16.5v11.2h-16.5zM853.9 1622.3h16.5v11.2h-16.5zM1048.0 1622.3h16.5v11.2h-16.5zM1064.2 1611.5h16.5v11.2h-16.5zM967.1 1600.6h16.5v11.2h-16.5zM773.0 1589.7h16.5v11.2h-16.5zM821.5 1578.9h16.5v11.2h-16.5zM951.0 1578.9h16.5v11.2h-16.5zM578.8 1557.1h16.5v11.2h-16.5zM708.3 1557.1h16.5v11.2h-16.5zM740.6 1546.2h16.5v11.2h-16.5zM773.0 1535.4h16.5v11.2h-16.5zM773.0 1524.5h16.5v11.2h-16.5zM870.1 1524.5h16.5v11.2h-16.5zM708.3 1502.8h16.5v11.2h-16.5zM853.9 1481.0h16.5v11.2h-16.5zM724.4 1470.2h16.5v11.2h-16.5zM837.7 1470.2h16.5v11.2h-16.5zM1080.4 1470.2h16.5v11.2h-16.5zM773.0 1459.3h16.5v11.2h-16.5zM967.1 1459.3h16.5v11.2h-16.5zM1128.9 1459.3h16.5v11.2h-16.5zM1048.0 1448.4h16.5v11.2h-16.5zM821.5 1437.5h16.5v11.2h-16.5zM967.1 1426.7h32.7v11.2h-32.7zM1031.9 1426.7h16.5v11.2h-16.5zM918.6 1415.8h16.5v11.2h-16.5zM1064.2 1415.8h16.5v11.2h-16.5zM951.0 1383.2h16.5v11.2h-16.5zM1064.2 1383.2h16.5v11.2h-16.5zM773.0 1361.5h16.5v11.2h-16.5zM1015.7 1361.5h16.5v11.2h-16.5zM1064.2 1361.5h16.5v11.2h-16.5zM983.3 1350.6h16.5v11.2h-16.5zM1048.0 1350.6h16.5v11.2h-16.5z"/>
<path fill="#1c3a7a" d="M1048.0 1970.2h16.5v11.2h-16.5zM1096.6 1948.4h16.5v11.2h-16.5zM756.8 1937.6h16.5v11.2h-16.5zM789.2 1937.6h16.5v11.2h-16.5zM999.5 1937.6h16.5v11.2h-16.5zM773.0 1915.8h16.5v11.2h-16.5zM740.6 1905.0h16.5v11.2h-16.5zM1161.3 1905.0h16.5v11.2h-16.5zM951.0 1894.1h16.5v11.2h-16.5zM1161.3 1894.1h16.5v11.2h-16.5zM967.1 1861.5h16.5v11.2h-16.5zM1080.4 1861.5h16.5v11.2h-16.5zM1128.9 1861.5h16.5v11.2h-16.5zM934.8 1850.6h16.5v11.2h-16.5zM1015.7 1850.6h16.5v11.2h-16.5zM1048.0 1839.7h16.5v11.2h-16.5zM805.3 1818.0h16.5v11.2h-16.5zM918.6 1818.0h16.5v11.2h-16.5zM1048.0 1818.0h16.5v11.2h-16.5zM1112.8 1818.0h16.5v11.2h-16.5zM886.2 1807.1h16.5v11.2h-16.5zM368.5 1785.4h16.5v11.2h-16.5zM821.5 1785.4h16.5v11.2h-16.5zM870.1 1785.4h16.5v11.2h-16.5zM1080.4 1785.4h16.5v11.2h-16.5zM1128.9 1785.4h16.5v11.2h-16.5zM951.0 1763.6h16.5v11.2h-16.5zM1048.0 1763.6h16.5v11.2h-16.5zM1112.8 1763.6h16.5v11.2h-16.5zM1177.5 1763.6h16.5v11.2h-16.5zM724.4 1752.8h16.5v11.2h-16.5zM1112.8 1752.8h16.5v11.2h-16.5zM756.8 1741.9h16.5v11.2h-16.5zM821.5 1741.9h16.5v11.2h-16.5zM870.1 1741.9h16.5v11.2h-16.5zM1031.9 1741.9h16.5v11.2h-16.5zM724.4 1720.2h32.7v11.2h-32.7zM837.7 1720.2h16.5v11.2h-16.5zM870.1 1720.2h16.5v11.2h-16.5zM902.4 1720.2h16.5v11.2h-16.5zM934.8 1720.2h16.5v11.2h-16.5zM1080.4 1720.2h16.5v11.2h-16.5zM773.0 1709.3h16.5v11.2h-16.5zM853.9 1709.3h16.5v11.2h-16.5zM853.9 1698.4h16.5v11.2h-16.5zM497.9 1687.6h16.5v11.2h-16.5zM368.5 1676.7h16.5v11.2h-16.5zM756.8 1676.7h16.5v11.2h-16.5zM821.5 1676.7h16.5v11.2h-16.5zM724.4 1665.8h16.5v11.2h-16.5zM789.2 1654.9h16.5v11.2h-16.5zM756.8 1644.1h16.5v11.2h-16.5zM789.2 1633.2h32.7v11.2h-32.7zM870.1 1622.3h16.5v11.2h-16.5zM514.1 1589.7h16.5v11.2h-16.5zM805.3 1589.7h16.5v11.2h-16.5zM465.6 1578.9h16.5v11.2h-16.5zM692.1 1578.9h16.5v11.2h-16.5zM692.1 1568.0h16.5v11.2h-16.5zM433.2 1546.2h16.5v11.2h-16.5zM724.4 1546.2h16.5v11.2h-16.5zM789.2 1546.2h16.5v11.2h-16.5zM918.6 1546.2h16.5v11.2h-16.5zM692.1 1535.4h16.5v11.2h-16.5zM756.8 1535.4h16.5v11.2h-16.5zM756.8 1524.5h16.5v11.2h-16.5zM805.3 1524.5h16.5v11.2h-16.5zM773.0 1502.8h16.5v11.2h-16.5zM821.5 1502.8h32.7v11.2h-32.7zM1096.6 1470.2h16.5v11.2h-16.5zM1031.9 1437.5h16.5v11.2h-16.5zM1064.2 1437.5h16.5v11.2h-16.5zM773.0 1426.7h32.7v11.2h-32.7zM821.5 1426.7h16.5v11.2h-16.5zM999.5 1383.2h16.5v11.2h-16.5zM1096.6 1372.3h16.5v11.2h-16.5zM708.3 1339.7h16.5v11.2h-16.5zM934.8 1328.8h16.5v11.2h-16.5z"/>
<path fill="#183b78" d="M1015.7 1981.0h16.5v11.2h-16.5zM1096.6 1937.6h16.5v11.2h-16.5zM578.8 1926.7h16.5v11.2h-16.5zM821.5 1915.8h16.5v11.2h-16.5zM627.4 1905.0h16.5v11.2h-16.5zM853.9 1905.0h16.5v11.2h-16.5zM999.5 1905.0h16.5v11.2h-16.5zM546.5 1894.1h16.5v11.2h-16.5zM627.4 1883.2h16.5v11.2h-16.5zM1048.0 1883.2h32.7v11.2h-32.7zM595.0 1872.3h16.5v11.2h-16.5zM756.8 1872.3h16.5v11.2h-16.5zM1048.0 1861.5h16.5v11.2h-16.5zM611.2 1850.6h16.5v11.2h-16.5zM708.3 1850.6h16.5v11.2h-16.5zM773.0 1850.6h16.5v11.2h-16.5zM1161.3 1850.6h16.5v11.2h-16.5zM611.2 1839.7h32.7v11.2h-32.7zM724.4 1839.7h16.5v11.2h-16.5zM724.4 1828.9h16.5v11.2h-16.5zM821.5 1828.9h16.5v11.2h-16.5zM1015.7 1828.9h16.5v11.2h-16.5zM611.2 1818.0h16.5v11.2h-16.5zM675.9 1818.0h16.5v11.2h-16.5zM724.4 1818.0h32.7v11.2h-32.7zM983.3 1818.0h16.5v11.2h-16.5zM1031.9 1818.0h16.5v11.2h-16.5zM1064.2 1818.0h16.5v11.2h-16.5zM481.7 1807.1h16.5v11.2h-16.5zM562.6 1807.1h16.5v11.2h-16.5zM659.7 1807.1h16.5v11.2h-16.5zM740.6 1807.1h16.5v11.2h-16.5zM983.3 1807.1h16.5v11.2h-16.5zM417.0 1796.3h16.5v11.2h-16.5zM886.2 1796.3h16.5v11.2h-16.5zM1048.0 1796.3h16.5v11.2h-16.5zM1096.6 1796.3h16.5v11.2h-16.5zM400.8 1785.4h16.5v11.2h-16.5zM497.9 1785.4h32.7v11.2h-32.7zM627.4 1785.4h32.7v11.2h-32.7zM756.8 1785.4h16.5v11.2h-16.5zM837.7 1785.4h16.5v11.2h-16.5zM999.5 1785.4h16.5v11.2h-16.5zM384.7 1774.5h16.5v11.2h-16.5zM465.6 1774.5h16.5v11.2h-16.5zM627.4 1774.5h16.5v11.2h-16.5zM659.7 1774.5h16.5v11.2h-16.5zM1080.4 1774.5h16.5v11.2h-16.5zM1177.5 1774.5h16.5v11.2h-16.5zM837.7 1763.6h16.5v11.2h-16.5zM918.6 1763.6h16.5v11.2h-16.5zM481.7 1752.8h32.7v11.2h-32.7zM562.6 1752.8h16.5v11.2h-16.5zM384.7 1741.9h16.5v11.2h-16.5zM643.5 1741.9h16.5v11.2h-16.5zM740.6 1741.9h16.5v11.2h-16.5zM1128.9 1741.9h16.5v11.2h-16.5zM352.3 1731.0h16.5v11.2h-16.5zM433.2 1731.0h16.5v11.2h-16.5zM465.6 1731.0h16.5v11.2h-16.5zM643.5 1731.0h32.7v11.2h-32.7zM870.1 1731.0h16.5v11.2h-16.5zM967.1 1731.0h16.5v11.2h-16.5zM352.3 1720.2h16.5v11.2h-16.5zM465.6 1720.2h16.5v11.2h-16.5zM497.9 1720.2h16.5v11.2h-16.5zM384.7 1709.3h16.5v11.2h-16.5zM595.0 1709.3h16.5v11.2h-16.5zM692.1 1709.3h16.5v11.2h-16.5zM692.1 1687.6h16.5v11.2h-16.5zM773.0 1687.6h16.5v11.2h-16.5zM902.4 1687.6h16.5v11.2h-16.5zM708.3 1676.7h16.5v11.2h-16.5zM773.0 1665.8h32.7v11.2h-32.7zM870.1 1665.8h16.5v11.2h-16.5zM1031.9 1665.8h16.5v11.2h-16.5zM789.2 1644.1h16.5v11.2h-16.5zM886.2 1644.1h16.5v11.2h-16.5zM1015.7 1644.1h16.5v11.2h-16.5zM999.5 1633.2h16.5v11.2h-16.5zM1048.0 1633.2h16.5v11.2h-16.5zM740.6 1622.3h16.5v11.2h-16.5zM1031.9 1622.3h16.5v11.2h-16.5zM756.8 1611.5h48.8v11.2h-48.8zM837.7 1611.5h16.5v11.2h-16.5zM773.0 1600.6h16.5v11.2h-16.5zM837.7 1600.6h16.5v11.2h-16.5zM546.5 1589.7h16.5v11.2h-16.5zM902.4 1589.7h16.5v11.2h-16.5zM951.0 1589.7h16.5v11.2h-16.5zM497.9 1578.9h16.5v11.2h-16.5zM659.7 1578.9h16.5v11.2h-16.5zM886.2 1578.9h16.5v11.2h-16.5zM918.6 1578.9h16.5v11.2h-16.5zM449.4 1557.1h16.5v11.2h-16.5zM611.2 1557.1h16.5v11.2h-16.5zM821.5 1557.1h16.5v11.2h-16.5zM643.5 1546.2h16.5v11.2h-16.5zM756.8 1546.2h16.5v11.2h-16.5zM837.7 1546.2h16.5v11.2h-16.5zM805.3 1502.8h16.5v11.2h-16.5zM773.0 1491.9h16.5v11.2h-16.5zM805.3 1470.2h32.7v11.2h-32.7zM983.3 1470.2h16.5v11.2h-16.5zM724.4 1459.3h16.5v11.2h-16.5zM756.8 1459.3h16.5v11.2h-16.5zM1048.0 1459.3h16.5v11.2h-16.5zM805.3 1448.4h16.5v11.2h-16.5zM1096.6 1448.4h32.7v11.2h-32.7zM1080.4 1437.5h48.8v11.2h-48.8zM1112.8 1426.7h16.5v11.2h-16.5zM1064.2 1404.9h32.7v11.2h-32.7zM967.1 1394.1h16.5v11.2h-16.5zM983.3 1372.3h16.5v11.2h-16.5zM481.7 1361.5h16.5v11.2h-16.5zM514.1 1361.5h16.5v11.2h-16.5zM562.6 1361.5h32.7v11.2h-32.7zM611.2 1361.5h32.7v11.2h-32.7zM999.5 1361.5h16.5v11.2h-16.5zM740.6 1350.6h16.5v11.2h-16.5zM724.4 1328.8h16.5v11.2h-16.5zM837.7 1252.8h16.5v11.2h-16.5z"/>
<path fill="#143b76" d="M724.4 1991.9h16.5v11.2h-16.5zM756.8 1981.0h16.5v11.2h-16.5zM724.4 1970.2h16.5v11.2h-16.5zM756.8 1970.2h16.5v11.2h-16.5zM724.4 1959.3h16.5v11.2h-16.5zM708.3 1948.4h16.5v11.2h-16.5zM724.4 1937.6h16.5v11.2h-16.5zM853.9 1937.6h16.5v11.2h-16.5zM967.1 1937.6h16.5v11.2h-16.5zM1112.8 1937.6h16.5v11.2h-16.5zM659.7 1926.7h48.8v11.2h-48.8zM562.6 1915.8h32.7v11.2h-32.7zM643.5 1915.8h32.7v11.2h-32.7zM708.3 1915.8h16.5v11.2h-16.5zM1161.3 1915.8h16.5v11.2h-16.5zM497.9 1905.0h16.5v11.2h-16.5zM530.3 1905.0h32.7v11.2h-32.7zM595.0 1905.0h16.5v11.2h-16.5zM643.5 1905.0h16.5v11.2h-16.5zM789.2 1905.0h16.5v11.2h-16.5zM886.2 1905.0h16.5v11.2h-16.5zM562.6 1894.1h48.8v11.2h-48.8zM627.4 1894.1h32.7v11.2h-32.7zM675.9 1894.1h16.5v11.2h-16.5zM773.0 1894.1h16.5v11.2h-16.5zM967.1 1894.1h16.5v11.2h-16.5zM1096.6 1894.1h16.5v11.2h-16.5zM578.8 1883.2h16.5v11.2h-16.5zM643.5 1883.2h16.5v11.2h-16.5zM708.3 1883.2h16.5v11.2h-16.5zM1096.6 1883.2h16.5v11.2h-16.5zM562.6 1872.3h16.5v11.2h-16.5zM611.2 1872.3h113.6v11.2h-113.6zM740.6 1872.3h16.5v11.2h-16.5zM789.2 1872.3h16.5v11.2h-16.5zM934.8 1872.3h16.5v11.2h-16.5zM578.8 1861.5h16.5v11.2h-16.5zM611.2 1861.5h32.7v11.2h-32.7zM692.1 1861.5h32.7v11.2h-32.7zM870.1 1861.5h16.5v11.2h-16.5zM999.5 1861.5h16.5v11.2h-16.5zM546.5 1850.6h32.7v11.2h-32.7zM627.4 1850.6h16.5v11.2h-16.5zM675.9 1850.6h16.5v11.2h-16.5zM789.2 1850.6h16.5v11.2h-16.5zM1193.7 1850.6h16.5v11.2h-16.5zM497.9 1839.7h16.5v11.2h-16.5zM530.3 1839.7h32.7v11.2h-32.7zM643.5 1839.7h16.5v11.2h-16.5zM675.9 1839.7h16.5v11.2h-16.5zM708.3 1839.7h16.5v11.2h-16.5zM1112.8 1839.7h16.5v11.2h-16.5zM1145.1 1839.7h16.5v11.2h-16.5zM1177.5 1839.7h16.5v11.2h-16.5zM514.1 1828.9h16.5v11.2h-16.5zM546.5 1828.9h16.5v11.2h-16.5zM578.8 1828.9h48.8v11.2h-48.8zM643.5 1828.9h65.0v11.2h-65.0zM1031.9 1828.9h16.5v11.2h-16.5zM1080.4 1828.9h32.7v11.2h-32.7zM368.5 1818.0h16.5v11.2h-16.5zM433.2 1818.0h16.5v11.2h-16.5zM465.6 1818.0h145.9v11.2h-145.9zM627.4 1818.0h16.5v11.2h-16.5zM692.1 1818.0h16.5v11.2h-16.5zM934.8 1818.0h16.5v11.2h-16.5zM1193.7 1818.0h16.5v11.2h-16.5zM352.3 1807.1h16.5v11.2h-16.5zM449.4 1807.1h16.5v11.2h-16.5zM497.9 1807.1h65.0v11.2h-65.0zM578.8 1807.1h16.5v11.2h-16.5zM611.2 1807.1h48.8v11.2h-48.8zM692.1 1807.1h16.5v11.2h-16.5zM789.2 1807.1h32.7v11.2h-32.7zM352.3 1796.3h48.8v11.2h-48.8zM433.2 1796.3h16.5v11.2h-16.5zM481.7 1796.3h48.8v11.2h-48.8zM546.5 1796.3h32.7v11.2h-32.7zM595.0 1796.3h32.7v11.2h-32.7zM643.5 1796.3h48.8v11.2h-48.8zM708.3 1796.3h16.5v11.2h-16.5zM934.8 1796.3h16.5v11.2h-16.5zM1015.7 1796.3h16.5v11.2h-16.5zM352.3 1785.4h16.5v11.2h-16.5zM384.7 1785.4h16.5v11.2h-16.5zM417.0 1785.4h81.2v11.2h-81.2zM546.5 1785.4h81.2v11.2h-81.2zM659.7 1785.4h32.7v11.2h-32.7zM951.0 1785.4h16.5v11.2h-16.5zM1096.6 1785.4h16.5v11.2h-16.5zM352.3 1774.5h16.5v11.2h-16.5zM400.8 1774.5h16.5v11.2h-16.5zM481.7 1774.5h16.5v11.2h-16.5zM530.3 1774.5h32.7v11.2h-32.7zM595.0 1774.5h32.7v11.2h-32.7zM643.5 1774.5h16.5v11.2h-16.5zM886.2 1774.5h16.5v11.2h-16.5zM967.1 1774.5h16.5v11.2h-16.5zM999.5 1774.5h16.5v11.2h-16.5zM368.5 1763.6h32.7v11.2h-32.7zM417.0 1763.6h32.7v11.2h-32.7zM481.7 1763.6h48.8v11.2h-48.8zM546.5 1763.6h32.7v11.2h-32.7zM595.0 1763.6h32.7v11.2h-32.7zM643.5 1763.6h48.8v11.2h-48.8zM1080.4 1763.6h16.5v11.2h-16.5zM368.5 1752.8h16.5v11.2h-16.5zM400.8 1752.8h48.8v11.2h-48.8zM546.5 1752.8h16.5v11.2h-16.5zM578.8 1752.8h16.5v11.2h-16.5zM611.2 1752.8h32.7v11.2h-32.7zM659.7 1752.8h48.8v11.2h-48.8zM1145.1 1752.8h16.5v11.2h-16.5zM352.3 1741.9h16.5v11.2h-16.5zM400.8 1741.9h48.8v11.2h-48.8zM497.9 1741.9h16.5v11.2h-16.5zM530.3 1741.9h16.5v11.2h-16.5zM562.6 1741.9h32.7v11.2h-32.7zM692.1 1741.9h32.7v11.2h-32.7zM837.7 1741.9h16.5v11.2h-16.5zM934.8 1741.9h16.5v11.2h-16.5zM1080.4 1741.9h16.5v11.2h-16.5zM1193.7 1741.9h16.5v11.2h-16.5zM368.5 1731.0h65.0v11.2h-65.0zM708.3 1731.0h16.5v11.2h-16.5zM853.9 1731.0h16.5v11.2h-16.5zM384.7 1720.2h65.0v11.2h-65.0zM481.7 1720.2h16.5v11.2h-16.5zM530.3 1720.2h16.5v11.2h-16.5zM578.8 1720.2h16.5v11.2h-16.5zM659.7 1720.2h16.5v11.2h-16.5zM773.0 1720.2h16.5v11.2h-16.5zM1015.7 1720.2h16.5v11.2h-16.5zM400.8 1709.3h16.5v11.2h-16.5zM837.7 1709.3h16.5v11.2h-16.5zM1080.4 1709.3h16.5v11.2h-16.5zM934.8 1698.4h16.5v11.2h-16.5zM967.1 1698.4h16.5v11.2h-16.5zM789.2 1676.7h16.5v11.2h-16.5zM1048.0 1676.7h16.5v11.2h-16.5zM967.1 1665.8h16.5v11.2h-16.5zM837.7 1654.9h16.5v11.2h-16.5zM1015.7 1654.9h16.5v11.2h-16.5zM886.2 1633.2h32.7v11.2h-32.7zM934.8 1633.2h65.0v11.2h-65.0zM934.8 1611.5h16.5v11.2h-16.5zM481.7 1578.9h16.5v11.2h-16.5zM514.1 1578.9h16.5v11.2h-16.5zM562.6 1578.9h16.5v11.2h-16.5zM805.3 1568.0h16.5v11.2h-16.5zM627.4 1546.2h16.5v11.2h-16.5zM886.2 1546.2h16.5v11.2h-16.5zM659.7 1535.4h16.5v11.2h-16.5zM724.4 1535.4h16.5v11.2h-16.5zM1064.2 1524.5h16.5v11.2h-16.5zM530.3 1513.6h16.5v11.2h-16.5zM821.5 1513.6h16.5v11.2h-16.5zM595.0 1502.8h16.5v11.2h-16.5zM692.1 1491.9h16.5v11.2h-16.5zM417.0 1481.0h16.5v11.2h-16.5zM578.8 1481.0h16.5v11.2h-16.5zM659.7 1481.0h16.5v11.2h-16.5zM789.2 1481.0h16.5v11.2h-16.5zM1112.8 1481.0h16.5v11.2h-16.5zM708.3 1470.2h16.5v11.2h-16.5zM1031.9 1459.3h16.5v11.2h-16.5zM724.4 1448.4h16.5v11.2h-16.5zM1048.0 1437.5h16.5v11.2h-16.5zM1128.9 1437.5h16.5v11.2h-16.5zM449.4 1426.7h16.5v11.2h-16.5zM1015.7 1426.7h16.5v11.2h-16.5zM708.3 1415.8h16.5v11.2h-16.5zM1015.7 1415.8h16.5v11.2h-16.5zM595.0 1383.2h16.5v11.2h-16.5zM756.8 1383.2h16.5v11.2h-16.5zM983.3 1383.2h16.5v11.2h-16.5zM530.3 1361.5h16.5v11.2h-16.5zM675.9 1361.5h16.5v11.2h-16.5zM756.8 1361.5h16.5v11.2h-16.5zM999.5 1339.7h16.5v11.2h-16.5z"/>
<path fill="#0f3c74" d="M740.6 1981.0h16.5v11.2h-16.5zM708.3 1970.2h16.5v11.2h-16.5zM740.6 1970.2h16.5v11.2h-16.5zM692.1 1959.3h16.5v11.2h-16.5zM837.7 1959.3h16.5v11.2h-16.5zM724.4 1948.4h16.5v11.2h-16.5zM659.7 1937.6h48.8v11.2h-48.8zM708.3 1926.7h16.5v11.2h-16.5zM546.5 1915.8h16.5v11.2h-16.5zM562.6 1905.0h32.7v11.2h-32.7zM659.7 1905.0h16.5v11.2h-16.5zM983.3 1905.0h16.5v11.2h-16.5zM1177.5 1905.0h16.5v11.2h-16.5zM530.3 1894.1h16.5v11.2h-16.5zM611.2 1894.1h16.5v11.2h-16.5zM659.7 1894.1h16.5v11.2h-16.5zM1015.7 1894.1h16.5v11.2h-16.5zM1112.8 1894.1h16.5v11.2h-16.5zM562.6 1883.2h16.5v11.2h-16.5zM595.0 1883.2h32.7v11.2h-32.7zM659.7 1883.2h48.8v11.2h-48.8zM951.0 1883.2h16.5v11.2h-16.5zM1145.1 1883.2h16.5v11.2h-16.5zM578.8 1872.3h16.5v11.2h-16.5zM1031.9 1872.3h16.5v11.2h-16.5zM1064.2 1872.3h16.5v11.2h-16.5zM514.1 1861.5h16.5v11.2h-16.5zM546.5 1861.5h16.5v11.2h-16.5zM595.0 1861.5h16.5v11.2h-16.5zM643.5 1861.5h48.8v11.2h-48.8zM756.8 1861.5h16.5v11.2h-16.5zM837.7 1861.5h16.5v11.2h-16.5zM1145.1 1861.5h16.5v11.2h-16.5zM481.7 1850.6h16.5v11.2h-16.5zM514.1 1850.6h16.5v11.2h-16.5zM578.8 1850.6h32.7v11.2h-32.7zM643.5 1850.6h32.7v11.2h-32.7zM692.1 1850.6h16.5v11.2h-16.5zM805.3 1850.6h16.5v11.2h-16.5zM562.6 1839.7h48.8v11.2h-48.8zM659.7 1839.7h16.5v11.2h-16.5zM740.6 1839.7h16.5v11.2h-16.5zM1080.4 1839.7h16.5v11.2h-16.5zM530.3 1828.9h16.5v11.2h-16.5zM562.6 1828.9h16.5v11.2h-16.5zM627.4 1828.9h16.5v11.2h-16.5zM643.5 1818.0h32.7v11.2h-32.7zM368.5 1807.1h16.5v11.2h-16.5zM433.2 1807.1h16.5v11.2h-16.5zM465.6 1807.1h16.5v11.2h-16.5zM595.0 1807.1h16.5v11.2h-16.5zM675.9 1807.1h16.5v11.2h-16.5zM708.3 1807.1h16.5v11.2h-16.5zM918.6 1807.1h16.5v11.2h-16.5zM1048.0 1807.1h16.5v11.2h-16.5zM1128.9 1807.1h16.5v11.2h-16.5zM400.8 1796.3h16.5v11.2h-16.5zM449.4 1796.3h32.7v11.2h-32.7zM530.3 1796.3h16.5v11.2h-16.5zM578.8 1796.3h16.5v11.2h-16.5zM627.4 1796.3h16.5v11.2h-16.5zM756.8 1796.3h16.5v11.2h-16.5zM789.2 1796.3h65.0v11.2h-65.0zM1112.8 1796.3h16.5v11.2h-16.5zM1193.7 1796.3h16.5v11.2h-16.5zM530.3 1785.4h16.5v11.2h-16.5zM692.1 1785.4h32.7v11.2h-32.7zM368.5 1774.5h16.5v11.2h-16.5zM417.0 1774.5h48.8v11.2h-48.8zM514.1 1774.5h16.5v11.2h-16.5zM562.6 1774.5h32.7v11.2h-32.7zM692.1 1774.5h16.5v11.2h-16.5zM352.3 1763.6h16.5v11.2h-16.5zM400.8 1763.6h16.5v11.2h-16.5zM465.6 1763.6h16.5v11.2h-16.5zM530.3 1763.6h16.5v11.2h-16.5zM578.8 1763.6h16.5v11.2h-16.5zM627.4 1763.6h16.5v11.2h-16.5zM692.1 1763.6h16.5v11.2h-16.5zM821.5 1763.6h16.5v11.2h-16.5zM352.3 1752.8h16.5v11.2h-16.5zM384.7 1752.8h16.5v11.2h-16.5zM595.0 1752.8h16.5v11.2h-16.5zM805.3 1752.8h16.5v11.2h-16.5zM983.3 1752.8h16.5v11.2h-16.5zM1080.4 1752.8h16.5v11.2h-16.5zM368.5 1741.9h16.5v11.2h-16.5zM675.9 1741.9h16.5v11.2h-16.5zM886.2 1741.9h16.5v11.2h-16.5zM1161.3 1741.9h16.5v11.2h-16.5zM481.7 1731.0h16.5v11.2h-16.5zM740.6 1731.0h16.5v11.2h-16.5zM546.5 1720.2h16.5v11.2h-16.5zM692.1 1720.2h16.5v11.2h-16.5zM368.5 1709.3h16.5v11.2h-16.5zM449.4 1709.3h32.7v11.2h-32.7zM724.4 1709.3h16.5v11.2h-16.5zM756.8 1709.3h16.5v11.2h-16.5zM967.1 1709.3h16.5v11.2h-16.5zM368.5 1698.4h16.5v11.2h-16.5zM918.6 1698.4h16.5v11.2h-16.5zM983.3 1698.4h32.7v11.2h-32.7zM1031.9 1698.4h16.5v11.2h-16.5zM918.6 1687.6h16.5v11.2h-16.5zM951.0 1687.6h32.7v11.2h-32.7zM999.5 1687.6h16.5v11.2h-16.5zM918.6 1676.7h16.5v11.2h-16.5zM951.0 1676.7h48.8v11.2h-48.8zM951.0 1665.8h16.5v11.2h-16.5zM918.6 1654.9h16.5v11.2h-16.5zM967.1 1654.9h32.7v11.2h-32.7zM918.6 1644.1h32.7v11.2h-32.7zM967.1 1644.1h16.5v11.2h-16.5zM1031.9 1644.1h16.5v11.2h-16.5zM918.6 1633.2h16.5v11.2h-16.5zM740.6 1611.5h16.5v11.2h-16.5zM530.3 1578.9h16.5v11.2h-16.5zM546.5 1568.0h16.5v11.2h-16.5zM578.8 1568.0h16.5v11.2h-16.5zM756.8 1568.0h16.5v11.2h-16.5zM465.6 1557.1h16.5v11.2h-16.5zM514.1 1557.1h16.5v11.2h-16.5zM562.6 1557.1h16.5v11.2h-16.5zM449.4 1546.2h16.5v11.2h-16.5zM481.7 1546.2h48.8v11.2h-48.8zM546.5 1546.2h32.7v11.2h-32.7zM595.0 1546.2h32.7v11.2h-32.7zM433.2 1535.4h16.5v11.2h-16.5zM481.7 1535.4h16.5v11.2h-16.5zM514.1 1535.4h65.0v11.2h-65.0zM595.0 1535.4h32.7v11.2h-32.7zM433.2 1524.5h65.0v11.2h-65.0zM611.2 1524.5h65.0v11.2h-65.0zM465.6 1513.6h16.5v11.2h-16.5zM595.0 1513.6h16.5v11.2h-16.5zM627.4 1513.6h48.8v11.2h-48.8zM433.2 1502.8h81.2v11.2h-81.2zM546.5 1502.8h32.7v11.2h-32.7zM643.5 1502.8h32.7v11.2h-32.7zM853.9 1502.8h16.5v11.2h-16.5zM433.2 1491.9h16.5v11.2h-16.5zM497.9 1491.9h32.7v11.2h-32.7zM562.6 1491.9h16.5v11.2h-16.5zM611.2 1491.9h16.5v11.2h-16.5zM659.7 1491.9h16.5v11.2h-16.5zM433.2 1481.0h16.5v11.2h-16.5zM465.6 1481.0h32.7v11.2h-32.7zM611.2 1481.0h48.8v11.2h-48.8zM675.9 1481.0h16.5v11.2h-16.5zM417.0 1470.2h16.5v11.2h-16.5zM514.1 1470.2h16.5v11.2h-16.5zM546.5 1470.2h81.2v11.2h-81.2zM692.1 1470.2h16.5v11.2h-16.5zM417.0 1459.3h97.4v11.2h-97.4zM659.7 1459.3h32.7v11.2h-32.7zM433.2 1448.4h16.5v11.2h-16.5zM497.9 1448.4h16.5v11.2h-16.5zM578.8 1448.4h48.8v11.2h-48.8zM659.7 1448.4h32.7v11.2h-32.7zM481.7 1437.5h16.5v11.2h-16.5zM514.1 1437.5h16.5v11.2h-16.5zM611.2 1437.5h16.5v11.2h-16.5zM692.1 1437.5h48.8v11.2h-48.8zM481.7 1426.7h16.5v11.2h-16.5zM514.1 1426.7h65.0v11.2h-65.0zM595.0 1426.7h16.5v11.2h-16.5zM449.4 1415.8h32.7v11.2h-32.7zM546.5 1415.8h16.5v11.2h-16.5zM578.8 1415.8h48.8v11.2h-48.8zM659.7 1415.8h48.8v11.2h-48.8zM999.5 1415.8h16.5v11.2h-16.5zM514.1 1404.9h16.5v11.2h-16.5zM562.6 1404.9h16.5v11.2h-16.5zM611.2 1404.9h32.7v11.2h-32.7zM659.7 1404.9h16.5v11.2h-16.5zM708.3 1404.9h48.8v11.2h-48.8zM433.2 1394.1h48.8v11.2h-48.8zM530.3 1394.1h32.7v11.2h-32.7zM595.0 1394.1h16.5v11.2h-16.5zM627.4 1394.1h48.8v11.2h-48.8zM692.1 1394.1h16.5v11.2h-16.5zM740.6 1394.1h16.5v11.2h-16.5zM449.4 1383.2h16.5v11.2h-16.5zM497.9 1383.2h16.5v11.2h-16.5zM530.3 1383.2h16.5v11.2h-16.5zM562.6 1383.2h32.7v11.2h-32.7zM692.1 1383.2h16.5v11.2h-16.5zM724.4 1383.2h16.5v11.2h-16.5zM449.4 1372.3h16.5v11.2h-16.5zM530.3 1372.3h16.5v11.2h-16.5zM595.0 1372.3h16.5v11.2h-16.5zM627.4 1372.3h16.5v11.2h-16.5zM708.3 1372.3h16.5v11.2h-16.5zM740.6 1372.3h48.8v11.2h-48.8zM465.6 1361.5h16.5v11.2h-16.5zM643.5 1361.5h16.5v11.2h-16.5zM708.3 1361.5h16.5v11.2h-16.5zM708.3 1350.6h32.7v11.2h-32.7z"/>
<path fill="#0b3c72" d="M853.9 1959.3h16.5v11.2h-16.5zM1064.2 1959.3h16.5v11.2h-16.5zM740.6 1926.7h16.5v11.2h-16.5zM724.4 1883.2h16.5v11.2h-16.5zM967.1 1872.3h16.5v11.2h-16.5zM1128.9 1872.3h16.5v11.2h-16.5zM983.3 1861.5h16.5v11.2h-16.5zM902.4 1850.6h16.5v11.2h-16.5zM951.0 1850.6h16.5v11.2h-16.5zM1080.4 1850.6h16.5v11.2h-16.5zM821.5 1839.7h16.5v11.2h-16.5zM870.1 1839.7h16.5v11.2h-16.5zM999.5 1839.7h16.5v11.2h-16.5zM1161.3 1839.7h16.5v11.2h-16.5zM902.4 1828.9h16.5v11.2h-16.5zM999.5 1828.9h16.5v11.2h-16.5zM1096.6 1807.1h16.5v11.2h-16.5zM853.9 1796.3h32.7v11.2h-32.7zM805.3 1774.5h16.5v11.2h-16.5zM902.4 1763.6h16.5v11.2h-16.5zM643.5 1752.8h16.5v11.2h-16.5zM918.6 1752.8h16.5v11.2h-16.5zM1193.7 1752.8h16.5v11.2h-16.5zM934.8 1687.6h16.5v11.2h-16.5zM983.3 1687.6h16.5v11.2h-16.5zM1064.2 1687.6h16.5v11.2h-16.5zM902.4 1676.7h16.5v11.2h-16.5zM934.8 1676.7h16.5v11.2h-16.5zM902.4 1665.8h48.8v11.2h-48.8zM983.3 1665.8h32.7v11.2h-32.7zM902.4 1654.9h16.5v11.2h-16.5zM934.8 1654.9h16.5v11.2h-16.5zM999.5 1654.9h16.5v11.2h-16.5zM951.0 1644.1h16.5v11.2h-16.5zM983.3 1644.1h32.7v11.2h-32.7zM546.5 1578.9h16.5v11.2h-16.5zM481.7 1568.0h65.0v11.2h-65.0zM562.6 1568.0h16.5v11.2h-16.5zM481.7 1557.1h32.7v11.2h-32.7zM530.3 1557.1h32.7v11.2h-32.7zM595.0 1557.1h16.5v11.2h-16.5zM465.6 1546.2h16.5v11.2h-16.5zM530.3 1546.2h16.5v11.2h-16.5zM578.8 1546.2h16.5v11.2h-16.5zM497.9 1535.4h16.5v11.2h-16.5zM578.8 1535.4h16.5v11.2h-16.5zM643.5 1535.4h16.5v11.2h-16.5zM497.9 1524.5h113.6v11.2h-113.6zM433.2 1513.6h32.7v11.2h-32.7zM497.9 1513.6h32.7v11.2h-32.7zM546.5 1513.6h48.8v11.2h-48.8zM611.2 1513.6h16.5v11.2h-16.5zM514.1 1502.8h16.5v11.2h-16.5zM578.8 1502.8h16.5v11.2h-16.5zM611.2 1502.8h32.7v11.2h-32.7zM675.9 1502.8h16.5v11.2h-16.5zM465.6 1491.9h32.7v11.2h-32.7zM578.8 1491.9h16.5v11.2h-16.5zM627.4 1491.9h32.7v11.2h-32.7zM708.3 1491.9h16.5v11.2h-16.5zM400.8 1481.0h16.5v11.2h-16.5zM449.4 1481.0h16.5v11.2h-16.5zM497.9 1481.0h81.2v11.2h-81.2zM595.0 1481.0h16.5v11.2h-16.5zM433.2 1470.2h32.7v11.2h-32.7zM481.7 1470.2h32.7v11.2h-32.7zM530.3 1470.2h16.5v11.2h-16.5zM627.4 1470.2h65.0v11.2h-65.0zM514.1 1459.3h113.6v11.2h-113.6zM643.5 1459.3h16.5v11.2h-16.5zM692.1 1459.3h32.7v11.2h-32.7zM449.4 1448.4h32.7v11.2h-32.7zM514.1 1448.4h32.7v11.2h-32.7zM562.6 1448.4h16.5v11.2h-16.5zM643.5 1448.4h16.5v11.2h-16.5zM692.1 1448.4h32.7v11.2h-32.7zM433.2 1437.5h48.8v11.2h-48.8zM497.9 1437.5h16.5v11.2h-16.5zM530.3 1437.5h81.2v11.2h-81.2zM643.5 1437.5h48.8v11.2h-48.8zM465.6 1426.7h16.5v11.2h-16.5zM497.9 1426.7h16.5v11.2h-16.5zM578.8 1426.7h16.5v11.2h-16.5zM611.2 1426.7h113.6v11.2h-113.6zM497.9 1415.8h48.8v11.2h-48.8zM562.6 1415.8h16.5v11.2h-16.5zM627.4 1415.8h32.7v11.2h-32.7zM724.4 1415.8h16.5v11.2h-16.5zM465.6 1404.9h48.8v11.2h-48.8zM530.3 1404.9h32.7v11.2h-32.7zM578.8 1404.9h32.7v11.2h-32.7zM643.5 1404.9h16.5v11.2h-16.5zM675.9 1404.9h32.7v11.2h-32.7zM481.7 1394.1h48.8v11.2h-48.8zM562.6 1394.1h32.7v11.2h-32.7zM611.2 1394.1h16.5v11.2h-16.5zM675.9 1394.1h16.5v11.2h-16.5zM708.3 1394.1h32.7v11.2h-32.7zM433.2 1383.2h16.5v11.2h-16.5zM465.6 1383.2h32.7v11.2h-32.7zM611.2 1383.2h16.5v11.2h-16.5zM643.5 1383.2h32.7v11.2h-32.7zM708.3 1383.2h16.5v11.2h-16.5zM740.6 1383.2h16.5v11.2h-16.5zM773.0 1383.2h16.5v11.2h-16.5zM433.2 1372.3h16.5v11.2h-16.5zM497.9 1372.3h32.7v11.2h-32.7zM562.6 1372.3h32.7v11.2h-32.7zM611.2 1372.3h16.5v11.2h-16.5zM643.5 1372.3h65.0v11.2h-65.0zM692.1 1361.5h16.5v11.2h-16.5zM1031.9 1350.6h16.5v11.2h-16.5zM902.4 1296.2h16.5v11.2h-16.5zM837.7 1263.6h16.5v11.2h-16.5z"/>
<path fill="#073d71" d="M789.2 1981.0h16.5v11.2h-16.5zM967.1 1959.3h16.5v11.2h-16.5zM756.8 1948.4h16.5v11.2h-16.5zM1128.9 1926.7h16.5v11.2h-16.5zM1128.9 1850.6h16.5v11.2h-16.5zM740.6 1785.4h16.5v11.2h-16.5zM870.1 1752.8h16.5v11.2h-16.5zM967.1 1752.8h16.5v11.2h-16.5zM1128.9 1731.0h16.5v11.2h-16.5zM708.3 1709.3h16.5v11.2h-16.5zM1112.8 1709.3h16.5v11.2h-16.5zM886.2 1676.7h16.5v11.2h-16.5zM999.5 1676.7h32.7v11.2h-32.7zM870.1 1654.9h16.5v11.2h-16.5zM951.0 1654.9h16.5v11.2h-16.5zM1064.2 1654.9h16.5v11.2h-16.5zM902.4 1644.1h16.5v11.2h-16.5zM465.6 1535.4h16.5v11.2h-16.5zM481.7 1513.6h16.5v11.2h-16.5zM530.3 1502.8h16.5v11.2h-16.5zM449.4 1491.9h16.5v11.2h-16.5zM530.3 1491.9h32.7v11.2h-32.7zM595.0 1491.9h16.5v11.2h-16.5zM1145.1 1481.0h16.5v11.2h-16.5zM465.6 1470.2h16.5v11.2h-16.5zM627.4 1459.3h16.5v11.2h-16.5zM481.7 1448.4h16.5v11.2h-16.5zM546.5 1448.4h16.5v11.2h-16.5zM627.4 1448.4h16.5v11.2h-16.5zM627.4 1437.5h16.5v11.2h-16.5zM546.5 1383.2h16.5v11.2h-16.5zM627.4 1383.2h16.5v11.2h-16.5zM724.4 1372.3h16.5v11.2h-16.5zM1015.7 1339.7h16.5v11.2h-16.5zM1048.0 1339.7h16.5v11.2h-16.5zM983.3 1328.8h16.5v11.2h-16.5zM951.0 1318.0h16.5v11.2h-16.5z"/>
<path fill="#033d6f" d="M773.0 1991.9h16.5v11.2h-16.5zM724.4 1915.8h16.5v11.2h-16.5zM675.9 1905.0h16.5v11.2h-16.5zM708.3 1905.0h16.5v11.2h-16.5zM1177.5 1883.2h16.5v11.2h-16.5zM724.4 1861.5h16.5v11.2h-16.5zM368.5 1720.2h16.5v11.2h-16.5zM417.0 1698.4h16.5v11.2h-16.5zM1015.7 1698.4h16.5v11.2h-16.5zM384.7 1687.6h16.5v11.2h-16.5zM1031.9 1687.6h16.5v11.2h-16.5zM886.2 1665.8h16.5v11.2h-16.5zM562.6 1589.7h16.5v11.2h-16.5zM1128.9 1470.2h16.5v11.2h-16.5zM1128.9 1415.8h16.5v11.2h-16.5zM1128.9 1394.1h16.5v11.2h-16.5zM886.2 1285.4h16.5v11.2h-16.5zM837.7 1241.9h16.5v11.2h-16.5z"/>
<path fill="#04406c" d="M1177.5 1861.5h16.5v11.2h-16.5zM708.3 1818.0h16.5v11.2h-16.5zM724.4 1807.1h16.5v11.2h-16.5zM449.4 1720.2h16.5v11.2h-16.5zM352.3 1709.3h16.5v11.2h-16.5zM659.7 1709.3h16.5v11.2h-16.5zM481.7 1698.4h16.5v11.2h-16.5zM951.0 1698.4h16.5v11.2h-16.5zM1031.9 1676.7h16.5v11.2h-16.5zM886.2 1654.9h16.5v11.2h-16.5zM1080.4 1524.5h16.5v11.2h-16.5zM1145.1 1448.4h16.5v11.2h-16.5zM1145.1 1437.5h16.5v11.2h-16.5zM1128.9 1383.2h16.5v11.2h-16.5zM918.6 1296.2h16.5v11.2h-16.5zM870.1 1274.5h16.5v11.2h-16.5zM1015.7 1220.1h16.5v11.2h-16.5z"/>
<path fill="#064469" d="M918.6 1970.2h16.5v11.2h-16.5zM999.5 1970.2h16.5v11.2h-16.5zM1145.1 1926.7h16.5v11.2h-16.5zM708.3 1894.1h16.5v11.2h-16.5zM724.4 1796.3h16.5v11.2h-16.5zM724.4 1785.4h16.5v11.2h-16.5zM611.2 1741.9h16.5v11.2h-16.5zM659.7 1741.9h16.5v11.2h-16.5zM578.8 1731.0h16.5v11.2h-16.5zM627.4 1731.0h16.5v11.2h-16.5zM627.4 1720.2h16.5v11.2h-16.5zM675.9 1720.2h16.5v11.2h-16.5zM481.7 1709.3h16.5v11.2h-16.5zM530.3 1709.3h16.5v11.2h-16.5zM1064.2 1600.6h16.5v11.2h-16.5zM595.0 1568.0h16.5v11.2h-16.5zM627.4 1535.4h16.5v11.2h-16.5zM1371.6 1502.8h16.5v11.2h-16.5zM1096.6 1491.9h16.5v11.2h-16.5zM1145.1 1459.3h16.5v11.2h-16.5zM1339.3 1448.4h16.5v11.2h-16.5zM1274.6 1426.7h32.7v11.2h-32.7zM1468.7 1426.7h16.5v11.2h-16.5zM1452.5 1404.9h16.5v11.2h-16.5zM1258.4 1394.1h16.5v11.2h-16.5zM1371.6 1394.1h16.5v11.2h-16.5zM1274.6 1383.2h16.5v11.2h-16.5zM1323.1 1383.2h16.5v11.2h-16.5zM1128.9 1372.3h16.5v11.2h-16.5zM1193.7 1372.3h16.5v11.2h-16.5zM546.5 1361.5h16.5v11.2h-16.5zM1080.4 1361.5h16.5v11.2h-16.5zM1290.7 1361.5h16.5v11.2h-16.5zM1064.2 1350.6h16.5v11.2h-16.5zM1274.6 1350.6h16.5v11.2h-16.5zM1306.9 1350.6h16.5v11.2h-16.5zM1339.3 1350.6h16.5v11.2h-16.5zM1387.8 1350.6h16.5v11.2h-16.5zM1031.9 1339.7h16.5v11.2h-16.5zM1226.0 1339.7h16.5v11.2h-16.5zM1387.8 1339.7h16.5v11.2h-16.5zM999.5 1328.8h16.5v11.2h-16.5zM1031.9 1328.8h16.5v11.2h-16.5zM1404.0 1328.8h16.5v11.2h-16.5zM1533.4 1328.8h16.5v11.2h-16.5zM967.1 1318.0h16.5v11.2h-16.5zM1258.4 1318.0h16.5v11.2h-16.5zM1290.7 1318.0h16.5v11.2h-16.5zM1339.3 1318.0h16.5v11.2h-16.5zM1371.6 1318.0h16.5v11.2h-16.5zM1339.3 1307.1h16.5v11.2h-16.5zM967.1 1296.2h16.5v11.2h-16.5zM1031.9 1296.2h16.5v11.2h-16.5zM1128.9 1274.5h16.5v11.2h-16.5zM1258.4 1274.5h16.5v11.2h-16.5zM853.9 1263.6h16.5v11.2h-16.5zM934.8 1263.6h16.5v11.2h-16.5zM1015.7 1241.9h16.5v11.2h-16.5zM934.8 1231.0h16.5v11.2h-16.5zM1145.1 1231.0h16.5v11.2h-16.5zM1064.2 1209.3h16.5v11.2h-16.5zM999.5 1198.4h16.5v11.2h-16.5z"/>
<path fill="#074765" d="M773.0 1970.2h16.5v11.2h-16.5zM983.3 1970.2h16.5v11.2h-16.5zM740.6 1959.3h16.5v11.2h-16.5zM708.3 1937.6h16.5v11.2h-16.5zM740.6 1937.6h16.5v11.2h-16.5zM692.1 1894.1h16.5v11.2h-16.5zM497.9 1850.6h16.5v11.2h-16.5zM692.1 1839.7h16.5v11.2h-16.5zM724.4 1763.6h16.5v11.2h-16.5zM1145.1 1731.0h16.5v11.2h-16.5zM611.2 1720.2h16.5v11.2h-16.5zM1128.9 1720.2h16.5v11.2h-16.5zM1096.6 1709.3h16.5v11.2h-16.5zM400.8 1698.4h16.5v11.2h-16.5zM1080.4 1687.6h16.5v11.2h-16.5zM1064.2 1578.9h16.5v11.2h-16.5zM1404.0 1535.4h16.5v11.2h-16.5zM675.9 1513.6h16.5v11.2h-16.5zM1371.6 1513.6h48.8v11.2h-48.8zM1080.4 1502.8h16.5v11.2h-16.5zM1128.9 1502.8h16.5v11.2h-16.5zM1339.3 1502.8h32.7v11.2h-32.7zM1371.6 1491.9h16.5v11.2h-16.5zM1420.2 1491.9h32.7v11.2h-32.7zM708.3 1481.0h16.5v11.2h-16.5zM1323.1 1481.0h16.5v11.2h-16.5zM1355.5 1481.0h32.7v11.2h-32.7zM1404.0 1481.0h32.7v11.2h-32.7zM1290.7 1470.2h16.5v11.2h-16.5zM1323.1 1470.2h16.5v11.2h-16.5zM1420.2 1470.2h16.5v11.2h-16.5zM1452.5 1470.2h32.7v11.2h-32.7zM1258.4 1459.3h97.4v11.2h-97.4zM1371.6 1459.3h97.4v11.2h-97.4zM1161.3 1448.4h32.7v11.2h-32.7zM1226.0 1448.4h16.5v11.2h-16.5zM1258.4 1448.4h16.5v11.2h-16.5zM1290.7 1448.4h16.5v11.2h-16.5zM1323.1 1448.4h16.5v11.2h-16.5zM1387.8 1448.4h32.7v11.2h-32.7zM1177.5 1437.5h32.7v11.2h-32.7zM1226.0 1437.5h16.5v11.2h-16.5zM1274.6 1437.5h32.7v11.2h-32.7zM1323.1 1437.5h32.7v11.2h-32.7zM1420.2 1437.5h32.7v11.2h-32.7zM1484.9 1437.5h16.5v11.2h-16.5zM740.6 1426.7h16.5v11.2h-16.5zM1145.1 1426.7h32.7v11.2h-32.7zM1193.7 1426.7h48.8v11.2h-48.8zM1258.4 1426.7h16.5v11.2h-16.5zM1323.1 1426.7h16.5v11.2h-16.5zM1355.5 1426.7h48.8v11.2h-48.8zM1420.2 1426.7h16.5v11.2h-16.5zM1145.1 1415.8h81.2v11.2h-81.2zM1258.4 1415.8h65.0v11.2h-65.0zM1339.3 1415.8h16.5v11.2h-16.5zM1387.8 1415.8h32.7v11.2h-32.7zM1468.7 1415.8h32.7v11.2h-32.7zM1145.1 1404.9h16.5v11.2h-16.5zM1177.5 1404.9h81.2v11.2h-81.2zM1274.6 1404.9h48.8v11.2h-48.8zM1339.3 1404.9h32.7v11.2h-32.7zM1387.8 1404.9h16.5v11.2h-16.5zM1436.4 1404.9h16.5v11.2h-16.5zM1145.1 1394.1h48.8v11.2h-48.8zM1209.8 1394.1h16.5v11.2h-16.5zM1242.2 1394.1h16.5v11.2h-16.5zM1274.6 1394.1h32.7v11.2h-32.7zM1323.1 1394.1h16.5v11.2h-16.5zM1387.8 1394.1h48.8v11.2h-48.8zM1452.5 1394.1h16.5v11.2h-16.5zM1145.1 1383.2h16.5v11.2h-16.5zM1193.7 1383.2h16.5v11.2h-16.5zM1242.2 1383.2h16.5v11.2h-16.5zM1339.3 1383.2h32.7v11.2h-32.7zM1177.5 1372.3h16.5v11.2h-16.5zM1209.8 1372.3h65.0v11.2h-65.0zM1290.7 1372.3h81.2v11.2h-81.2zM1387.8 1372.3h16.5v11.2h-16.5zM1452.5 1372.3h32.7v11.2h-32.7zM1096.6 1361.5h32.7v11.2h-32.7zM1161.3 1361.5h97.4v11.2h-97.4zM1274.6 1361.5h16.5v11.2h-16.5zM1306.9 1361.5h16.5v11.2h-16.5zM1339.3 1361.5h32.7v11.2h-32.7zM1452.5 1361.5h16.5v11.2h-16.5zM1484.9 1361.5h48.8v11.2h-48.8zM1080.4 1350.6h16.5v11.2h-16.5zM1145.1 1350.6h48.8v11.2h-48.8zM1209.8 1350.6h16.5v11.2h-16.5zM1258.4 1350.6h16.5v11.2h-16.5zM1323.1 1350.6h16.5v11.2h-16.5zM1355.5 1350.6h16.5v11.2h-16.5zM1404.0 1350.6h129.7v11.2h-129.7zM1080.4 1339.7h32.7v11.2h-32.7zM1128.9 1339.7h48.8v11.2h-48.8zM1209.8 1339.7h16.5v11.2h-16.5zM1258.4 1339.7h16.5v11.2h-16.5zM1323.1 1339.7h32.7v11.2h-32.7zM1404.0 1339.7h16.5v11.2h-16.5zM1436.4 1339.7h16.5v11.2h-16.5zM1468.7 1339.7h16.5v11.2h-16.5zM1064.2 1328.8h32.7v11.2h-32.7zM1128.9 1328.8h113.6v11.2h-113.6zM1306.9 1328.8h65.0v11.2h-65.0zM1387.8 1328.8h16.5v11.2h-16.5zM1436.4 1328.8h16.5v11.2h-16.5zM1468.7 1328.8h16.5v11.2h-16.5zM1501.1 1328.8h32.7v11.2h-32.7zM999.5 1318.0h32.7v11.2h-32.7zM1080.4 1318.0h32.7v11.2h-32.7zM1128.9 1318.0h16.5v11.2h-16.5zM1177.5 1318.0h16.5v11.2h-16.5zM1226.0 1318.0h16.5v11.2h-16.5zM1355.5 1318.0h16.5v11.2h-16.5zM1436.4 1318.0h48.8v11.2h-48.8zM951.0 1307.1h32.7v11.2h-32.7zM999.5 1307.1h97.4v11.2h-97.4zM1112.8 1307.1h16.5v11.2h-16.5zM1161.3 1307.1h32.7v11.2h-32.7zM1242.2 1307.1h48.8v11.2h-48.8zM1355.5 1307.1h16.5v11.2h-16.5zM1404.0 1307.1h48.8v11.2h-48.8zM934.8 1296.2h16.5v11.2h-16.5zM1096.6 1296.2h16.5v11.2h-16.5zM1145.1 1296.2h97.4v11.2h-97.4zM1323.1 1296.2h16.5v11.2h-16.5zM1355.5 1296.2h16.5v11.2h-16.5zM934.8 1285.4h32.7v11.2h-32.7zM1080.4 1285.4h32.7v11.2h-32.7zM1161.3 1285.4h16.5v11.2h-16.5zM1242.2 1285.4h16.5v11.2h-16.5zM1290.7 1285.4h48.8v11.2h-48.8zM886.2 1274.5h48.8v11.2h-48.8zM951.0 1274.5h16.5v11.2h-16.5zM983.3 1274.5h32.7v11.2h-32.7zM1048.0 1274.5h48.8v11.2h-48.8zM1112.8 1274.5h16.5v11.2h-16.5zM1145.1 1274.5h32.7v11.2h-32.7zM1193.7 1274.5h32.7v11.2h-32.7zM1242.2 1274.5h16.5v11.2h-16.5zM1274.6 1274.5h16.5v11.2h-16.5zM1306.9 1274.5h48.8v11.2h-48.8zM1371.6 1274.5h16.5v11.2h-16.5zM902.4 1263.6h32.7v11.2h-32.7zM951.0 1263.6h113.6v11.2h-113.6zM1080.4 1263.6h16.5v11.2h-16.5zM1112.8 1263.6h32.7v11.2h-32.7zM1161.3 1263.6h16.5v11.2h-16.5zM1258.4 1263.6h16.5v11.2h-16.5zM1306.9 1263.6h81.2v11.2h-81.2zM853.9 1252.8h16.5v11.2h-16.5zM902.4 1252.8h97.4v11.2h-97.4zM1015.7 1252.8h48.8v11.2h-48.8zM1080.4 1252.8h16.5v11.2h-16.5zM1112.8 1252.8h16.5v11.2h-16.5zM902.4 1241.9h16.5v11.2h-16.5zM934.8 1241.9h16.5v11.2h-16.5zM967.1 1241.9h16.5v11.2h-16.5zM1031.9 1241.9h48.8v11.2h-48.8zM1096.6 1241.9h16.5v11.2h-16.5zM902.4 1231.0h32.7v11.2h-32.7zM967.1 1231.0h32.7v11.2h-32.7zM1048.0 1231.0h32.7v11.2h-32.7zM1096.6 1231.0h16.5v11.2h-16.5zM918.6 1220.1h16.5v11.2h-16.5zM983.3 1220.1h32.7v11.2h-32.7zM1031.9 1220.1h32.7v11.2h-32.7zM1096.6 1220.1h16.5v11.2h-16.5zM1128.9 1220.1h16.5v11.2h-16.5zM934.8 1209.3h32.7v11.2h-32.7zM1031.9 1209.3h32.7v11.2h-32.7zM1096.6 1209.3h32.7v11.2h-32.7zM983.3 1198.4h16.5v11.2h-16.5zM1015.7 1198.4h81.2v11.2h-81.2zM1128.9 1198.4h16.5v11.2h-16.5z"/>
<path fill="#084a62" d="M773.0 2002.8h16.5v11.2h-16.5zM675.9 1915.8h16.5v11.2h-16.5zM514.1 1905.0h16.5v11.2h-16.5zM708.3 1828.9h16.5v11.2h-16.5zM708.3 1774.5h16.5v11.2h-16.5zM627.4 1741.9h16.5v11.2h-16.5zM708.3 1720.2h16.5v11.2h-16.5zM1080.4 1654.9h16.5v11.2h-16.5zM1064.2 1589.7h16.5v11.2h-16.5zM1080.4 1546.2h16.5v11.2h-16.5zM1080.4 1535.4h16.5v11.2h-16.5zM1387.8 1535.4h16.5v11.2h-16.5zM1371.6 1524.5h16.5v11.2h-16.5zM1080.4 1513.6h16.5v11.2h-16.5zM1339.3 1513.6h32.7v11.2h-32.7zM1323.1 1502.8h16.5v11.2h-16.5zM1387.8 1502.8h16.5v11.2h-16.5zM1290.7 1491.9h16.5v11.2h-16.5zM1323.1 1491.9h48.8v11.2h-48.8zM1387.8 1491.9h16.5v11.2h-16.5zM692.1 1481.0h16.5v11.2h-16.5zM1274.6 1481.0h48.8v11.2h-48.8zM1339.3 1481.0h16.5v11.2h-16.5zM1436.4 1481.0h32.7v11.2h-32.7zM1242.2 1470.2h48.8v11.2h-48.8zM1339.3 1470.2h81.2v11.2h-81.2zM1436.4 1470.2h16.5v11.2h-16.5zM1161.3 1459.3h32.7v11.2h-32.7zM1242.2 1459.3h16.5v11.2h-16.5zM1355.5 1459.3h16.5v11.2h-16.5zM1209.8 1448.4h16.5v11.2h-16.5zM1242.2 1448.4h16.5v11.2h-16.5zM1274.6 1448.4h16.5v11.2h-16.5zM1306.9 1448.4h16.5v11.2h-16.5zM1355.5 1448.4h32.7v11.2h-32.7zM1420.2 1448.4h16.5v11.2h-16.5zM1452.5 1448.4h32.7v11.2h-32.7zM1161.3 1437.5h16.5v11.2h-16.5zM1209.8 1437.5h16.5v11.2h-16.5zM1242.2 1437.5h32.7v11.2h-32.7zM1306.9 1437.5h16.5v11.2h-16.5zM1355.5 1437.5h65.0v11.2h-65.0zM1452.5 1437.5h32.7v11.2h-32.7zM724.4 1426.7h16.5v11.2h-16.5zM1177.5 1426.7h16.5v11.2h-16.5zM1242.2 1426.7h16.5v11.2h-16.5zM1306.9 1426.7h16.5v11.2h-16.5zM1339.3 1426.7h16.5v11.2h-16.5zM1404.0 1426.7h16.5v11.2h-16.5zM1436.4 1426.7h32.7v11.2h-32.7zM1484.9 1426.7h16.5v11.2h-16.5zM1226.0 1415.8h16.5v11.2h-16.5zM1323.1 1415.8h16.5v11.2h-16.5zM1355.5 1415.8h32.7v11.2h-32.7zM1420.2 1415.8h48.8v11.2h-48.8zM1161.3 1404.9h16.5v11.2h-16.5zM1258.4 1404.9h16.5v11.2h-16.5zM1323.1 1404.9h16.5v11.2h-16.5zM1371.6 1404.9h16.5v11.2h-16.5zM1404.0 1404.9h32.7v11.2h-32.7zM1193.7 1394.1h16.5v11.2h-16.5zM1226.0 1394.1h16.5v11.2h-16.5zM1306.9 1394.1h16.5v11.2h-16.5zM1339.3 1394.1h32.7v11.2h-32.7zM1161.3 1383.2h32.7v11.2h-32.7zM1209.8 1383.2h32.7v11.2h-32.7zM1258.4 1383.2h16.5v11.2h-16.5zM1290.7 1383.2h32.7v11.2h-32.7zM1371.6 1383.2h65.0v11.2h-65.0zM481.7 1372.3h16.5v11.2h-16.5zM1145.1 1372.3h32.7v11.2h-32.7zM1274.6 1372.3h16.5v11.2h-16.5zM1371.6 1372.3h16.5v11.2h-16.5zM1404.0 1372.3h48.8v11.2h-48.8zM1501.1 1372.3h32.7v11.2h-32.7zM1128.9 1361.5h32.7v11.2h-32.7zM1258.4 1361.5h16.5v11.2h-16.5zM1323.1 1361.5h16.5v11.2h-16.5zM1371.6 1361.5h81.2v11.2h-81.2zM1096.6 1350.6h48.8v11.2h-48.8zM1193.7 1350.6h16.5v11.2h-16.5zM1226.0 1350.6h32.7v11.2h-32.7zM1290.7 1350.6h16.5v11.2h-16.5zM1371.6 1350.6h16.5v11.2h-16.5zM1064.2 1339.7h16.5v11.2h-16.5zM1112.8 1339.7h16.5v11.2h-16.5zM1177.5 1339.7h32.7v11.2h-32.7zM1242.2 1339.7h16.5v11.2h-16.5zM1274.6 1339.7h48.8v11.2h-48.8zM1355.5 1339.7h32.7v11.2h-32.7zM1420.2 1339.7h16.5v11.2h-16.5zM1452.5 1339.7h16.5v11.2h-16.5zM1484.9 1339.7h16.5v11.2h-16.5zM1048.0 1328.8h16.5v11.2h-16.5zM1096.6 1328.8h32.7v11.2h-32.7zM1242.2 1328.8h65.0v11.2h-65.0zM1371.6 1328.8h16.5v11.2h-16.5zM1420.2 1328.8h16.5v11.2h-16.5zM1452.5 1328.8h16.5v11.2h-16.5zM983.3 1318.0h16.5v11.2h-16.5zM1031.9 1318.0h48.8v11.2h-48.8zM1112.8 1318.0h16.5v11.2h-16.5zM1145.1 1318.0h32.7v11.2h-32.7zM1193.7 1318.0h16.5v11.2h-16.5zM1242.2 1318.0h16.5v11.2h-16.5zM1274.6 1318.0h16.5v11.2h-16.5zM1306.9 1318.0h32.7v11.2h-32.7zM1387.8 1318.0h48.8v11.2h-48.8zM1533.4 1318.0h16.5v11.2h-16.5zM983.3 1307.1h16.5v11.2h-16.5zM1096.6 1307.1h16.5v11.2h-16.5zM1128.9 1307.1h32.7v11.2h-32.7zM1193.7 1307.1h48.8v11.2h-48.8zM1290.7 1307.1h48.8v11.2h-48.8zM1371.6 1307.1h32.7v11.2h-32.7zM951.0 1296.2h16.5v11.2h-16.5zM983.3 1296.2h48.8v11.2h-48.8zM1048.0 1296.2h48.8v11.2h-48.8zM1112.8 1296.2h32.7v11.2h-32.7zM1242.2 1296.2h81.2v11.2h-81.2zM1339.3 1296.2h16.5v11.2h-16.5zM1371.6 1296.2h32.7v11.2h-32.7zM902.4 1285.4h32.7v11.2h-32.7zM967.1 1285.4h48.8v11.2h-48.8zM1048.0 1285.4h32.7v11.2h-32.7zM1112.8 1285.4h48.8v11.2h-48.8zM1177.5 1285.4h16.5v11.2h-16.5zM1209.8 1285.4h16.5v11.2h-16.5zM1258.4 1285.4h32.7v11.2h-32.7zM1339.3 1285.4h65.0v11.2h-65.0zM934.8 1274.5h16.5v11.2h-16.5zM967.1 1274.5h16.5v11.2h-16.5zM1015.7 1274.5h32.7v11.2h-32.7zM1096.6 1274.5h16.5v11.2h-16.5zM1177.5 1274.5h16.5v11.2h-16.5zM1290.7 1274.5h16.5v11.2h-16.5zM886.2 1263.6h16.5v11.2h-16.5zM1064.2 1263.6h16.5v11.2h-16.5zM1096.6 1263.6h16.5v11.2h-16.5zM1145.1 1263.6h16.5v11.2h-16.5zM1177.5 1263.6h48.8v11.2h-48.8zM1274.6 1263.6h32.7v11.2h-32.7zM1064.2 1252.8h16.5v11.2h-16.5zM1096.6 1252.8h16.5v11.2h-16.5zM1128.9 1252.8h32.7v11.2h-32.7zM1323.1 1252.8h16.5v11.2h-16.5zM870.1 1241.9h32.7v11.2h-32.7zM951.0 1241.9h16.5v11.2h-16.5zM983.3 1241.9h32.7v11.2h-32.7zM1080.4 1241.9h16.5v11.2h-16.5zM1112.8 1241.9h32.7v11.2h-32.7zM951.0 1231.0h16.5v11.2h-16.5zM999.5 1231.0h48.8v11.2h-48.8zM1080.4 1231.0h16.5v11.2h-16.5zM1112.8 1231.0h32.7v11.2h-32.7zM934.8 1220.1h48.8v11.2h-48.8zM1064.2 1220.1h16.5v11.2h-16.5zM999.5 1209.3h32.7v11.2h-32.7zM1080.4 1209.3h16.5v11.2h-16.5zM1128.9 1209.3h16.5v11.2h-16.5z"/>
<path fill="#094d5f" d="M481.7 1839.7h16.5v11.2h-16.5zM1161.3 1731.0h32.7v11.2h-32.7zM352.3 1698.4h16.5v11.2h-16.5zM1080.4 1676.7h16.5v11.2h-16.5zM1080.4 1644.1h16.5v11.2h-16.5zM1080.4 1633.2h16.5v11.2h-16.5zM1080.4 1557.1h16.5v11.2h-16.5zM1112.8 1491.9h16.5v11.2h-16.5zM1306.9 1491.9h16.5v11.2h-16.5zM1128.9 1481.0h16.5v11.2h-16.5zM1145.1 1470.2h16.5v11.2h-16.5zM1306.9 1470.2h16.5v11.2h-16.5zM1226.0 1459.3h16.5v11.2h-16.5zM1193.7 1448.4h16.5v11.2h-16.5zM1242.2 1415.8h16.5v11.2h-16.5zM1468.7 1394.1h16.5v11.2h-16.5zM1436.4 1383.2h16.5v11.2h-16.5zM740.6 1361.5h16.5v11.2h-16.5zM1209.8 1318.0h16.5v11.2h-16.5zM1015.7 1285.4h32.7v11.2h-32.7zM1193.7 1285.4h16.5v11.2h-16.5zM999.5 1252.8h16.5v11.2h-16.5zM1080.4 1220.1h16.5v11.2h-16.5z"/>
<path fill="#0b505c" d="M1209.8 1709.3h16.5v11.2h-16.5zM1096.6 1698.4h16.5v11.2h-16.5zM1128.9 1687.6h16.5v11.2h-16.5zM1080.4 1665.8h16.5v11.2h-16.5zM1145.1 1665.8h16.5v11.2h-16.5zM1193.7 1665.8h16.5v11.2h-16.5zM1209.8 1633.2h16.5v11.2h-16.5zM1080.4 1611.5h16.5v11.2h-16.5zM1080.4 1589.7h16.5v11.2h-16.5zM1161.3 1578.9h16.5v11.2h-16.5zM1080.4 1568.0h16.5v11.2h-16.5zM1226.0 1557.1h16.5v11.2h-16.5zM1209.8 1546.2h16.5v11.2h-16.5zM1242.2 1546.2h16.5v11.2h-16.5zM1290.7 1524.5h16.5v11.2h-16.5zM1242.2 1513.6h16.5v11.2h-16.5zM1226.0 1481.0h48.8v11.2h-48.8zM1161.3 1470.2h16.5v11.2h-16.5zM1226.0 1470.2h16.5v11.2h-16.5zM1209.8 1459.3h16.5v11.2h-16.5zM1112.8 1372.3h16.5v11.2h-16.5z"/>
<path fill="#0c5459" d="M789.2 1991.9h16.5v11.2h-16.5zM821.5 1970.2h16.5v11.2h-16.5zM1145.1 1720.2h48.8v11.2h-48.8zM1128.9 1709.3h32.7v11.2h-32.7zM1193.7 1709.3h16.5v11.2h-16.5zM1145.1 1698.4h16.5v11.2h-16.5zM1209.8 1698.4h32.7v11.2h-32.7zM1096.6 1687.6h16.5v11.2h-16.5zM1145.1 1687.6h16.5v11.2h-16.5zM1209.8 1687.6h32.7v11.2h-32.7zM1258.4 1687.6h16.5v11.2h-16.5zM1096.6 1676.7h32.7v11.2h-32.7zM1145.1 1676.7h16.5v11.2h-16.5zM1193.7 1676.7h32.7v11.2h-32.7zM1306.9 1676.7h16.5v11.2h-16.5zM1112.8 1665.8h32.7v11.2h-32.7zM1242.2 1665.8h16.5v11.2h-16.5zM1290.7 1665.8h16.5v11.2h-16.5zM1128.9 1654.9h32.7v11.2h-32.7zM1209.8 1654.9h16.5v11.2h-16.5zM1258.4 1654.9h16.5v11.2h-16.5zM1096.6 1644.1h32.7v11.2h-32.7zM1145.1 1644.1h32.7v11.2h-32.7zM1242.2 1644.1h16.5v11.2h-16.5zM1274.6 1644.1h16.5v11.2h-16.5zM1161.3 1633.2h16.5v11.2h-16.5zM1193.7 1633.2h16.5v11.2h-16.5zM1258.4 1633.2h32.7v11.2h-32.7zM1112.8 1622.3h16.5v11.2h-16.5zM1177.5 1622.3h16.5v11.2h-16.5zM1258.4 1622.3h16.5v11.2h-16.5zM1193.7 1611.5h16.5v11.2h-16.5zM1096.6 1600.6h16.5v11.2h-16.5zM1145.1 1600.6h16.5v11.2h-16.5zM1193.7 1600.6h32.7v11.2h-32.7zM1242.2 1600.6h16.5v11.2h-16.5zM1274.6 1600.6h16.5v11.2h-16.5zM1145.1 1589.7h32.7v11.2h-32.7zM1193.7 1589.7h16.5v11.2h-16.5zM1242.2 1589.7h32.7v11.2h-32.7zM1339.3 1589.7h16.5v11.2h-16.5zM1080.4 1578.9h48.8v11.2h-48.8zM1145.1 1578.9h16.5v11.2h-16.5zM1209.8 1578.9h16.5v11.2h-16.5zM1242.2 1578.9h32.7v11.2h-32.7zM1290.7 1578.9h16.5v11.2h-16.5zM1096.6 1568.0h48.8v11.2h-48.8zM1177.5 1568.0h16.5v11.2h-16.5zM1209.8 1568.0h65.0v11.2h-65.0zM1306.9 1568.0h16.5v11.2h-16.5zM1096.6 1557.1h16.5v11.2h-16.5zM1161.3 1557.1h65.0v11.2h-65.0zM1323.1 1557.1h32.7v11.2h-32.7zM1096.6 1546.2h16.5v11.2h-16.5zM1161.3 1546.2h32.7v11.2h-32.7zM1323.1 1546.2h16.5v11.2h-16.5zM1355.5 1546.2h16.5v11.2h-16.5zM1145.1 1524.5h16.5v11.2h-16.5zM1209.8 1524.5h16.5v11.2h-16.5zM1274.6 1524.5h16.5v11.2h-16.5zM1306.9 1524.5h16.5v11.2h-16.5zM1339.3 1524.5h32.7v11.2h-32.7zM1128.9 1513.6h16.5v11.2h-16.5zM1161.3 1513.6h65.0v11.2h-65.0zM1290.7 1513.6h16.5v11.2h-16.5zM1209.8 1502.8h16.5v11.2h-16.5zM1242.2 1502.8h16.5v11.2h-16.5zM1274.6 1502.8h48.8v11.2h-48.8zM1128.9 1491.9h16.5v11.2h-16.5zM1242.2 1491.9h48.8v11.2h-48.8zM1177.5 1481.0h16.5v11.2h-16.5zM1193.7 1459.3h16.5v11.2h-16.5z"/>
<path fill="#0d5755" d="M837.7 1970.2h32.7v11.2h-32.7zM1128.9 1937.6h16.5v11.2h-16.5zM1193.7 1720.2h16.5v11.2h-16.5zM1161.3 1709.3h16.5v11.2h-16.5zM1242.2 1709.3h16.5v11.2h-16.5zM1112.8 1698.4h32.7v11.2h-32.7zM1161.3 1698.4h48.8v11.2h-48.8zM1258.4 1698.4h16.5v11.2h-16.5zM1112.8 1687.6h16.5v11.2h-16.5zM1193.7 1687.6h16.5v11.2h-16.5zM1242.2 1687.6h16.5v11.2h-16.5zM1274.6 1687.6h16.5v11.2h-16.5zM1128.9 1676.7h16.5v11.2h-16.5zM1161.3 1676.7h32.7v11.2h-32.7zM1226.0 1676.7h32.7v11.2h-32.7zM1274.6 1676.7h32.7v11.2h-32.7zM1096.6 1665.8h16.5v11.2h-16.5zM1161.3 1665.8h16.5v11.2h-16.5zM1209.8 1665.8h32.7v11.2h-32.7zM1096.6 1654.9h32.7v11.2h-32.7zM1161.3 1654.9h32.7v11.2h-32.7zM1242.2 1654.9h16.5v11.2h-16.5zM1274.6 1654.9h16.5v11.2h-16.5zM1177.5 1644.1h16.5v11.2h-16.5zM1209.8 1644.1h32.7v11.2h-32.7zM1258.4 1644.1h16.5v11.2h-16.5zM1096.6 1633.2h65.0v11.2h-65.0zM1177.5 1633.2h16.5v11.2h-16.5zM1226.0 1633.2h32.7v11.2h-32.7zM1096.6 1622.3h16.5v11.2h-16.5zM1128.9 1622.3h48.8v11.2h-48.8zM1193.7 1622.3h65.0v11.2h-65.0zM1274.6 1622.3h16.5v11.2h-16.5zM1096.6 1611.5h32.7v11.2h-32.7zM1145.1 1611.5h48.8v11.2h-48.8zM1209.8 1611.5h32.7v11.2h-32.7zM1080.4 1600.6h16.5v11.2h-16.5zM1112.8 1600.6h16.5v11.2h-16.5zM1161.3 1600.6h32.7v11.2h-32.7zM1226.0 1600.6h16.5v11.2h-16.5zM1258.4 1600.6h16.5v11.2h-16.5zM1339.3 1600.6h16.5v11.2h-16.5zM1096.6 1589.7h48.8v11.2h-48.8zM1177.5 1589.7h16.5v11.2h-16.5zM1209.8 1589.7h32.7v11.2h-32.7zM1274.6 1589.7h32.7v11.2h-32.7zM1128.9 1578.9h16.5v11.2h-16.5zM1177.5 1578.9h32.7v11.2h-32.7zM1226.0 1578.9h16.5v11.2h-16.5zM1274.6 1578.9h16.5v11.2h-16.5zM1306.9 1578.9h32.7v11.2h-32.7zM1145.1 1568.0h16.5v11.2h-16.5zM1193.7 1568.0h16.5v11.2h-16.5zM1274.6 1568.0h32.7v11.2h-32.7zM1323.1 1568.0h16.5v11.2h-16.5zM1371.6 1568.0h16.5v11.2h-16.5zM1112.8 1557.1h48.8v11.2h-48.8zM1242.2 1557.1h32.7v11.2h-32.7zM1290.7 1557.1h16.5v11.2h-16.5zM1355.5 1557.1h16.5v11.2h-16.5zM1112.8 1546.2h48.8v11.2h-48.8zM1193.7 1546.2h16.5v11.2h-16.5zM1226.0 1546.2h16.5v11.2h-16.5zM1274.6 1546.2h16.5v11.2h-16.5zM1339.3 1546.2h16.5v11.2h-16.5zM1371.6 1546.2h16.5v11.2h-16.5zM1096.6 1535.4h259.2v11.2h-259.2zM1371.6 1535.4h16.5v11.2h-16.5zM1096.6 1524.5h48.8v11.2h-48.8zM1161.3 1524.5h48.8v11.2h-48.8zM1226.0 1524.5h48.8v11.2h-48.8zM1096.6 1513.6h32.7v11.2h-32.7zM1145.1 1513.6h16.5v11.2h-16.5zM1226.0 1513.6h16.5v11.2h-16.5zM1258.4 1513.6h32.7v11.2h-32.7zM1306.9 1513.6h32.7v11.2h-32.7zM1112.8 1502.8h16.5v11.2h-16.5zM1145.1 1502.8h65.0v11.2h-65.0zM1226.0 1502.8h16.5v11.2h-16.5zM1258.4 1502.8h16.5v11.2h-16.5zM1177.5 1491.9h65.0v11.2h-65.0zM1161.3 1481.0h16.5v11.2h-16.5zM1193.7 1481.0h16.5v11.2h-16.5zM1177.5 1470.2h32.7v11.2h-32.7zM1128.9 1404.9h16.5v11.2h-16.5zM934.8 1307.1h16.5v11.2h-16.5z"/>
<path fill="#0f5a52" d="M805.3 1981.0h16.5v11.2h-16.5zM999.5 1981.0h16.5v11.2h-16.5zM886.2 1970.2h32.7v11.2h-32.7zM951.0 1970.2h32.7v11.2h-32.7zM1242.2 1698.4h16.5v11.2h-16.5zM1274.6 1665.8h16.5v11.2h-16.5zM1226.0 1654.9h16.5v11.2h-16.5zM1128.9 1644.1h16.5v11.2h-16.5zM1128.9 1611.5h16.5v11.2h-16.5zM1128.9 1600.6h16.5v11.2h-16.5zM1161.3 1568.0h16.5v11.2h-16.5zM1274.6 1557.1h16.5v11.2h-16.5zM1306.9 1557.1h16.5v11.2h-16.5zM1258.4 1546.2h16.5v11.2h-16.5zM1290.7 1546.2h32.7v11.2h-32.7zM1355.5 1535.4h16.5v11.2h-16.5zM1323.1 1524.5h16.5v11.2h-16.5zM1145.1 1491.9h32.7v11.2h-32.7zM1209.8 1481.0h16.5v11.2h-16.5zM1209.8 1470.2h16.5v11.2h-16.5z"/>
<path fill="#105e4f" d="M1193.7 1894.1h16.5v11.2h-16.5zM1226.0 1720.2h16.5v11.2h-16.5z"/>
<path fill="#11614c" d="M967.1 2035.4h16.5v11.2h-16.5zM837.7 2024.5h16.5v11.2h-16.5zM983.3 2024.5h16.5v11.2h-16.5zM934.8 2013.7h16.5v11.2h-16.5zM821.5 2002.8h16.5v11.2h-16.5zM886.2 2002.8h16.5v11.2h-16.5zM983.3 2002.8h16.5v11.2h-16.5zM837.7 1991.9h16.5v11.2h-16.5zM870.1 1991.9h16.5v11.2h-16.5zM821.5 1981.0h16.5v11.2h-16.5zM853.9 1981.0h16.5v11.2h-16.5zM967.1 1981.0h32.7v11.2h-32.7zM1015.7 1328.8h16.5v11.2h-16.5z"/>
<path fill="#126448" d="M999.5 2057.1h16.5v11.2h-16.5zM967.1 2046.3h32.7v11.2h-32.7zM902.4 2035.4h32.7v11.2h-32.7zM853.9 2024.5h65.0v11.2h-65.0zM934.8 2024.5h32.7v11.2h-32.7zM821.5 2013.7h16.5v11.2h-16.5zM853.9 2013.7h48.8v11.2h-48.8zM983.3 2013.7h16.5v11.2h-16.5zM789.2 2002.8h16.5v11.2h-16.5zM837.7 2002.8h16.5v11.2h-16.5zM902.4 2002.8h16.5v11.2h-16.5zM934.8 2002.8h48.8v11.2h-48.8zM805.3 1991.9h32.7v11.2h-32.7zM886.2 1991.9h81.2v11.2h-81.2zM983.3 1991.9h16.5v11.2h-16.5zM837.7 1981.0h16.5v11.2h-16.5zM886.2 1981.0h32.7v11.2h-32.7zM934.8 1981.0h32.7v11.2h-32.7zM870.1 1970.2h16.5v11.2h-16.5zM1096.6 1502.8h16.5v11.2h-16.5z"/>
<path fill="#146745" d="M999.5 2046.3h16.5v11.2h-16.5zM983.3 2035.4h32.7v11.2h-32.7zM821.5 2024.5h16.5v11.2h-16.5zM918.6 2024.5h16.5v11.2h-16.5zM967.1 2024.5h16.5v11.2h-16.5zM837.7 2013.7h16.5v11.2h-16.5zM902.4 2013.7h16.5v11.2h-16.5zM951.0 2013.7h32.7v11.2h-32.7zM999.5 2013.7h16.5v11.2h-16.5zM805.3 2002.8h16.5v11.2h-16.5zM853.9 2002.8h32.7v11.2h-32.7zM918.6 2002.8h16.5v11.2h-16.5zM853.9 1991.9h16.5v11.2h-16.5zM967.1 1991.9h16.5v11.2h-16.5zM999.5 1991.9h16.5v11.2h-16.5zM918.6 1981.0h16.5v11.2h-16.5zM1080.4 1622.3h16.5v11.2h-16.5z"/>
<path fill="#156a42" d="M1015.7 2068.0h16.5v11.2h-16.5zM999.5 2024.5h16.5v11.2h-16.5zM1048.0 1981.0h16.5v11.2h-16.5zM934.8 1970.2h16.5v11.2h-16.5zM1064.2 1970.2h16.5v11.2h-16.5zM1193.7 1861.5h16.5v11.2h-16.5z"/>
<path fill="#166e3f" d="M1015.7 2057.1h16.5v11.2h-16.5z"/>
<path fill="#197438" d="M1015.7 1991.9h16.5v11.2h-16.5zM1064.2 1981.0h16.5v11.2h-16.5zM1193.7 1883.2h16.5v11.2h-16.5zM1193.7 1872.3h16.5v11.2h-16.5zM1209.8 1839.7h16.5v11.2h-16.5zM1209.8 1818.0h16.5v11.2h-16.5zM1209.8 1785.4h16.5v11.2h-16.5zM1209.8 1774.5h16.5v11.2h-16.5zM1209.8 1763.6h16.5v11.2h-16.5z"/>
<path fill="#1a7835" d="M1031.9 1991.9h16.5v11.2h-16.5zM870.1 1981.0h16.5v11.2h-16.5zM1080.4 1970.2h16.5v11.2h-16.5zM1112.8 1948.4h16.5v11.2h-16.5zM1145.1 1937.6h16.5v11.2h-16.5zM1193.7 1905.0h16.5v11.2h-16.5zM1209.8 1850.6h16.5v11.2h-16.5zM1209.8 1828.9h16.5v11.2h-16.5zM1209.8 1807.1h16.5v11.2h-16.5zM1209.8 1731.0h16.5v11.2h-16.5zM1371.6 1698.4h16.5v11.2h-16.5zM1404.0 1698.4h16.5v11.2h-16.5z"/>
<path fill="#1d7e2f" d="M1015.7 2046.3h16.5v11.2h-16.5zM1015.7 2024.5h16.5v11.2h-16.5zM1015.7 2002.8h16.5v11.2h-16.5z"/>
<path fill="#1e812c" d="M1031.9 2057.1h16.5v11.2h-16.5zM1015.7 2035.4h16.5v11.2h-16.5zM1015.7 2013.7h16.5v11.2h-16.5zM1096.6 1970.2h32.7v11.2h-32.7zM1096.6 1959.3h32.7v11.2h-32.7zM1128.9 1948.4h16.5v11.2h-16.5zM1161.3 1926.7h32.7v11.2h-32.7zM1193.7 1915.8h16.5v11.2h-16.5z"/>
<path fill="#1f8428" d="M1177.5 2155.0h113.6v11.2h-113.6zM1177.5 2144.1h113.6v11.2h-113.6zM1128.9 2133.2h65.0v11.2h-65.0zM1209.8 2133.2h81.2v11.2h-81.2zM1128.9 2122.4h65.0v11.2h-65.0zM1209.8 2122.4h97.4v11.2h-97.4zM1323.1 2122.4h16.5v11.2h-16.5zM1096.6 2111.5h48.8v11.2h-48.8zM1161.3 2111.5h113.6v11.2h-113.6zM1290.7 2111.5h48.8v11.2h-48.8zM1096.6 2100.6h145.9v11.2h-145.9zM1258.4 2100.6h81.2v11.2h-81.2zM1080.4 2089.7h243.0v11.2h-243.0zM1064.2 2078.9h275.4v11.2h-275.4zM1048.0 2068.0h129.7v11.2h-129.7zM1193.7 2068.0h145.9v11.2h-145.9zM1048.0 2057.1h210.6v11.2h-210.6zM1274.6 2057.1h48.8v11.2h-48.8zM1031.9 2046.3h259.2v11.2h-259.2zM1484.9 2046.3h16.5v11.2h-16.5zM1031.9 2035.4h226.8v11.2h-226.8zM1274.6 2035.4h16.5v11.2h-16.5zM1355.5 2035.4h16.5v11.2h-16.5zM1420.2 2035.4h16.5v11.2h-16.5zM1468.7 2035.4h32.7v11.2h-32.7zM1517.3 2035.4h16.5v11.2h-16.5zM1031.9 2024.5h243.0v11.2h-243.0zM1323.1 2024.5h81.2v11.2h-81.2zM1420.2 2024.5h16.5v11.2h-16.5zM1452.5 2024.5h65.0v11.2h-65.0zM1031.9 2013.7h113.6v11.2h-113.6zM1161.3 2013.7h356.3v11.2h-356.3zM1031.9 2002.8h162.1v11.2h-162.1zM1209.8 2002.8h129.7v11.2h-129.7zM1355.5 2002.8h32.7v11.2h-32.7zM1404.0 2002.8h113.6v11.2h-113.6zM1565.8 2002.8h16.5v11.2h-16.5zM1048.0 1991.9h48.8v11.2h-48.8zM1112.8 1991.9h291.5v11.2h-291.5zM1420.2 1991.9h81.2v11.2h-81.2zM1517.3 1991.9h16.5v11.2h-16.5zM1549.6 1991.9h32.7v11.2h-32.7zM1080.4 1981.0h81.2v11.2h-81.2zM1177.5 1981.0h81.2v11.2h-81.2zM1274.6 1981.0h145.9v11.2h-145.9zM1436.4 1981.0h16.5v11.2h-16.5zM1468.7 1981.0h65.0v11.2h-65.0zM1549.6 1981.0h16.5v11.2h-16.5zM1582.0 1981.0h48.8v11.2h-48.8zM1128.9 1970.2h210.6v11.2h-210.6zM1355.5 1970.2h65.0v11.2h-65.0zM1436.4 1970.2h32.7v11.2h-32.7zM1484.9 1970.2h113.6v11.2h-113.6zM1614.3 1970.2h16.5v11.2h-16.5zM1128.9 1959.3h162.1v11.2h-162.1zM1306.9 1959.3h16.5v11.2h-16.5zM1371.6 1959.3h32.7v11.2h-32.7zM1420.2 1959.3h48.8v11.2h-48.8zM1501.1 1959.3h145.9v11.2h-145.9zM1145.1 1948.4h178.3v11.2h-178.3zM1371.6 1948.4h65.0v11.2h-65.0zM1501.1 1948.4h16.5v11.2h-16.5zM1549.6 1948.4h129.7v11.2h-129.7zM1161.3 1937.6h162.1v11.2h-162.1zM1565.8 1937.6h16.5v11.2h-16.5zM1598.2 1937.6h81.2v11.2h-81.2zM1193.7 1926.7h129.7v11.2h-129.7zM1339.3 1926.7h16.5v11.2h-16.5zM1565.8 1926.7h145.9v11.2h-145.9zM1177.5 1915.8h16.5v11.2h-16.5zM1209.8 1915.8h129.7v11.2h-129.7zM1355.5 1915.8h32.7v11.2h-32.7zM1582.0 1915.8h129.7v11.2h-129.7zM1209.8 1905.0h210.6v11.2h-210.6zM1468.7 1905.0h16.5v11.2h-16.5zM1501.1 1905.0h16.5v11.2h-16.5zM1582.0 1905.0h162.1v11.2h-162.1zM1209.8 1894.1h162.1v11.2h-162.1zM1404.0 1894.1h113.6v11.2h-113.6zM1533.4 1894.1h162.1v11.2h-162.1zM1711.4 1894.1h48.8v11.2h-48.8zM1209.8 1883.2h259.2v11.2h-259.2zM1484.9 1883.2h32.7v11.2h-32.7zM1533.4 1883.2h243.0v11.2h-243.0zM1209.8 1872.3h372.4v11.2h-372.4zM1598.2 1872.3h194.5v11.2h-194.5zM1209.8 1861.5h582.8v11.2h-582.8zM1226.0 1850.6h566.6v11.2h-566.6zM1226.0 1839.7h534.2v11.2h-534.2zM1776.1 1839.7h16.5v11.2h-16.5zM1226.0 1828.9h550.4v11.2h-550.4zM1242.2 1818.0h453.3v11.2h-453.3zM1711.4 1818.0h81.2v11.2h-81.2zM1226.0 1807.1h566.6v11.2h-566.6zM1226.0 1796.3h566.6v11.2h-566.6zM1226.0 1785.4h81.2v11.2h-81.2zM1323.1 1785.4h469.5v11.2h-469.5zM1226.0 1774.5h566.6v11.2h-566.6zM1226.0 1763.6h518.1v11.2h-518.1zM1776.1 1763.6h16.5v11.2h-16.5zM1209.8 1752.8h65.0v11.2h-65.0zM1290.7 1752.8h421.0v11.2h-421.0zM1743.8 1752.8h16.5v11.2h-16.5zM1226.0 1741.9h16.5v11.2h-16.5zM1258.4 1741.9h48.8v11.2h-48.8zM1323.1 1741.9h372.4v11.2h-372.4zM1355.5 1731.0h129.7v11.2h-129.7zM1501.1 1731.0h162.1v11.2h-162.1zM1355.5 1720.2h323.9v11.2h-323.9zM1371.6 1709.3h16.5v11.2h-16.5zM1404.0 1709.3h32.7v11.2h-32.7zM1468.7 1709.3h129.7v11.2h-129.7zM1614.3 1709.3h16.5v11.2h-16.5zM1646.7 1709.3h32.7v11.2h-32.7zM1420.2 1698.4h16.5v11.2h-16.5zM1468.7 1698.4h113.6v11.2h-113.6zM1614.3 1698.4h16.5v11.2h-16.5zM1484.9 1687.6h16.5v11.2h-16.5zM1549.6 1687.6h32.7v11.2h-32.7zM1517.3 1676.7h16.5v11.2h-16.5zM1565.8 1676.7h16.5v11.2h-16.5z"/>
<path fill="#218825" d="M1242.2 2100.6h16.5v11.2h-16.5zM1145.1 2013.7h16.5v11.2h-16.5zM1420.2 1981.0h16.5v11.2h-16.5zM1598.2 1970.2h16.5v11.2h-16.5zM1226.0 1818.0h16.5v11.2h-16.5zM1209.8 1796.3h16.5v11.2h-16.5zM1306.9 1785.4h16.5v11.2h-16.5z"/>
</g>
<path fill="none" stroke="#000000" stroke-width="6.2" stroke-linejoin="round" stroke-linecap="round" d="M1298.4 2160.4L1298.4 2149.5L1298.2 2138.7L1298.8 2138.3L1314.5 2127.8L1315.0 2127.4L1315.7 2127.8L1331.2 2138.2L1346.7 2127.8L1347.4 2127.5L1363.1 2116.9L1347.4 2106.4L1346.9 2106.1L1331.2 2095.5L1330.8 2095.2L1331.2 2094.7L1347.4 2094.7L1362.9 2084.3L1347.4 2073.9L1347.0 2073.4L1331.2 2062.8L1330.7 2062.6L1315.0 2052.0L1314.5 2051.7L1298.8 2041.2L1298.3 2040.8L1298.3 2030.0L1298.8 2029.7L1315.0 2029.6L1315.7 2030.0L1331.2 2040.4L1347.4 2040.5L1349.3 2040.8L1363.5 2050.4L1379.7 2051.4L1395.5 2040.8L1395.9 2040.4L1412.1 2039.5L1412.5 2040.8L1428.3 2051.4L1444.1 2040.8L1444.4 2040.2L1460.6 2040.5L1461.3 2040.8L1476.8 2051.3L1477.2 2051.7L1493.0 2062.3L1508.8 2051.7L1509.2 2051.4L1525.3 2050.4L1539.6 2040.8L1525.3 2031.3L1524.4 2030.0L1525.3 2029.6L1541.5 2029.7L1557.3 2019.1L1541.5 2008.5L1540.9 2008.2L1541.0 1997.4L1541.5 1997.0L1541.9 1997.4L1557.7 2008.0L1558.2 2008.2L1573.9 2018.8L1589.6 2008.2L1589.6 1997.4L1590.1 1996.9L1606.2 1997.1L1622.4 1997.0L1638.1 1986.5L1638.6 1986.2L1654.3 1975.6L1654.8 1975.0L1670.0 1964.7L1671.0 1964.3L1686.5 1953.9L1686.5 1943.0L1687.1 1942.7L1703.3 1942.7L1719.0 1932.1L1719.5 1931.7L1735.0 1921.3L1735.7 1920.8L1751.2 1910.4L1751.9 1910.1L1767.7 1899.5L1768.0 1899.2L1783.7 1888.7L1784.2 1888.2M1460.6 1987.1L1460.0 1986.5L1460.6 1985.8L1461.3 1986.5ZM1573.9 1986.8L1573.2 1986.5L1573.9 1986.3L1574.5 1986.5ZM1476.8 1976.0L1475.8 1975.6L1476.8 1975.2L1477.5 1975.6ZM1331.2 1965.4L1330.5 1964.7L1330.8 1953.9L1330.2 1943.0L1330.7 1932.1L1331.2 1931.8L1331.6 1932.1L1347.4 1942.7L1363.2 1932.1L1363.5 1931.5L1379.7 1931.9L1395.5 1921.3L1395.9 1921.0L1412.1 1920.9L1428.3 1920.8L1444.4 1920.9L1460.6 1920.9L1476.8 1921.0L1492.6 1910.4L1493.0 1910.1L1493.5 1910.4L1509.2 1920.9L1524.9 1910.4L1525.3 1910.0L1541.5 1910.1L1557.7 1910.0L1558.2 1910.4L1558.7 1921.3L1558.4 1932.1L1558.2 1943.0L1557.7 1943.3L1542.0 1953.9L1541.5 1954.3L1525.3 1954.1L1523.4 1953.9L1509.2 1944.3L1494.9 1953.9L1493.5 1964.7L1493.0 1965.2L1492.3 1964.7L1476.8 1954.3L1460.6 1954.3L1444.4 1954.2L1443.8 1953.9L1428.3 1943.4L1412.1 1943.3L1395.9 1943.7L1379.7 1943.7L1364.5 1953.9L1364.0 1964.7L1363.5 1965.1L1347.4 1965.2ZM360.4 1823.0L361.4 1823.4L376.6 1833.6L391.8 1823.4L392.8 1823.1L408.9 1823.1L425.1 1823.0L427.1 1823.4L441.3 1833.0L457.5 1834.0L473.7 1833.9L489.8 1834.0L490.5 1834.3L489.8 1835.0L474.6 1845.2L474.3 1856.0L489.8 1866.5L506.0 1866.5L506.5 1866.9L522.2 1877.5L538.4 1877.5L554.6 1877.3L555.0 1877.8L554.6 1878.2L539.0 1888.7L538.4 1889.0L522.2 1889.1L506.7 1899.5L506.0 1899.8L490.2 1910.4L506.0 1921.0L507.0 1921.3L522.2 1931.5L537.4 1921.3L538.4 1920.8L539.3 1921.3L554.6 1931.5L555.2 1932.1L570.7 1942.6L586.9 1942.7L602.6 1932.1L602.6 1921.3L603.1 1921.0L618.9 1910.4L619.3 1910.1L619.8 1910.4L635.5 1920.9L635.8 1921.3L637.4 1932.1L651.6 1941.7L652.3 1943.0L667.8 1953.4L684.0 1953.5L700.2 1953.5L700.7 1953.9L700.2 1954.3L684.6 1964.7L700.2 1975.2L700.7 1975.6L700.8 1986.5L716.4 1996.9L716.8 1997.4L732.5 2007.9L748.2 1997.4L748.7 1997.1L749.0 1997.3L764.9 2008.0L765.5 2008.2L781.1 2018.7L797.3 2018.8L813.4 2018.7L814.1 2019.1L813.8 2030.0L829.6 2040.6L845.8 2040.6L862.0 2040.2L878.2 2040.5L894.3 2040.6L895.3 2040.8L910.5 2051.0L926.7 2051.3L942.2 2040.8L942.9 2040.4L959.1 2040.4L959.7 2040.8L959.5 2051.7L975.2 2062.2L991.4 2061.9L992.1 2062.6L1007.6 2073.0L1008.1 2073.4L1023.8 2084.0L1040.0 2084.0L1056.1 2084.0L1056.6 2084.3L1072.3 2094.9L1072.8 2095.2L1088.5 2105.7L1089.1 2106.1L1089.0 2116.9L1089.0 2127.8L1104.7 2138.3L1120.4 2127.8L1120.8 2127.5L1121.3 2127.8L1122.8 2138.7L1137.0 2148.2L1153.2 2149.1L1169.4 2149.1L1169.8 2149.5L1170.0 2160.4M457.5 1758.5L456.5 1758.2L455.5 1747.3L457.5 1747.0L473.7 1747.1L474.1 1747.3L473.7 1747.8L458.1 1758.2ZM522.2 1758.5L521.7 1758.2L521.7 1747.3L521.6 1736.5L521.8 1725.6L521.9 1714.7L506.0 1704.1L505.5 1703.9L506.0 1703.5L522.2 1703.2L538.4 1703.4L553.9 1693.0L554.6 1692.7L554.9 1693.0L555.0 1703.9L570.7 1714.4L571.4 1714.7L571.2 1725.6L571.4 1736.5L570.7 1736.8L555.0 1747.3L554.6 1747.6L552.6 1747.3L553.9 1736.5L554.6 1736.1L570.3 1725.6L554.6 1715.1L553.9 1714.7L538.4 1704.3L522.8 1714.7L522.7 1725.6L522.8 1736.5L524.1 1747.3L538.4 1756.9L538.8 1758.2L538.4 1758.5ZM1784.2 1758.5L1768.0 1758.6L1767.6 1758.2L1751.9 1747.7L1736.2 1758.2L1735.7 1758.5L1719.5 1758.5L1719.0 1758.2L1703.3 1747.7L1702.9 1747.3L1687.1 1736.7L1671.0 1736.8L1670.6 1736.5L1671.0 1736.2L1687.1 1736.2L1702.9 1725.6L1702.9 1714.7L1687.1 1704.1L1671.0 1704.2L1654.8 1704.5L1639.6 1714.7L1638.6 1715.1L1638.0 1714.7L1638.0 1703.9L1622.4 1693.4L1606.2 1693.3L1590.1 1693.3L1589.6 1693.0L1589.6 1682.1L1573.9 1671.6L1558.2 1682.1L1557.7 1682.3L1541.5 1682.6L1539.6 1682.1L1525.3 1672.6L1511.1 1682.1L1509.6 1693.0L1509.2 1693.3L1508.7 1693.0L1493.0 1682.4L1477.3 1693.0L1476.8 1693.3L1461.1 1703.9L1460.6 1704.2L1460.1 1703.9L1444.4 1693.3L1443.8 1693.0L1428.3 1682.6L1412.7 1693.0L1412.1 1693.6L1396.9 1703.9L1395.9 1704.1L1394.0 1703.9L1379.7 1694.3L1365.5 1703.9L1363.5 1704.3L1348.0 1714.7L1347.4 1715.2L1331.8 1725.6L1332.2 1736.5L1331.2 1736.9L1315.0 1736.8L1298.8 1736.7L1298.4 1736.5L1282.6 1725.9L1266.9 1736.5L1266.5 1736.7L1250.3 1737.1L1249.8 1736.5L1249.6 1725.6L1250.3 1725.3L1266.1 1714.7L1266.5 1714.5L1282.3 1703.9L1282.6 1703.5L1298.3 1693.0L1298.8 1692.6L1315.0 1692.7L1330.7 1682.1L1315.0 1671.6L1314.5 1671.2L1298.8 1660.7L1298.2 1660.4L1298.4 1649.5L1298.3 1638.6L1298.3 1627.8L1282.6 1617.2L1266.5 1617.3L1265.8 1616.9L1266.5 1616.5L1282.6 1616.2L1298.8 1615.6L1313.1 1606.0L1315.0 1605.7L1330.7 1595.2L1331.2 1594.9L1331.6 1595.2L1331.8 1606.0L1347.4 1616.5L1362.9 1606.0L1363.2 1595.2L1347.4 1584.6L1347.0 1584.3L1347.0 1573.4L1347.4 1573.2L1348.0 1573.4L1363.5 1583.9L1379.7 1584.0L1395.5 1573.4L1395.3 1562.6L1395.5 1551.7L1395.9 1551.4L1412.1 1551.4L1427.8 1540.8L1412.1 1530.3L1395.9 1530.2L1395.5 1529.9L1395.9 1529.5L1412.1 1529.3L1427.3 1519.1L1428.3 1517.8L1442.5 1508.2L1444.4 1507.9L1460.2 1497.3L1460.6 1497.1L1476.8 1496.9L1492.3 1486.5L1492.5 1475.6L1476.8 1465.0L1476.3 1464.7L1476.8 1464.3L1493.0 1464.3L1508.5 1453.9L1508.8 1443.0L1508.8 1432.1L1508.7 1421.2L1493.0 1410.7L1476.8 1410.8L1476.3 1410.4L1476.8 1409.9L1492.3 1399.5L1476.8 1389.1L1460.6 1389.1L1460.0 1388.6L1460.6 1388.2L1476.8 1388.4L1493.0 1388.4L1509.2 1388.3L1525.3 1388.3L1541.0 1377.8L1541.0 1366.9L1541.1 1356.0L1541.0 1345.1L1541.5 1344.5L1556.7 1334.3L1557.2 1323.4L1541.5 1312.9L1525.8 1323.4L1525.3 1324.1L1509.2 1323.7L1493.0 1323.7L1492.5 1323.4L1476.8 1312.9L1460.6 1312.8L1460.1 1312.5L1444.4 1302.0L1428.3 1302.1L1427.8 1301.7L1412.1 1291.1L1411.7 1290.8L1395.9 1280.2L1395.4 1279.9L1394.9 1269.1L1379.7 1258.8L1363.5 1258.6L1347.4 1258.5L1346.9 1258.2L1331.2 1247.6L1315.5 1258.2L1315.0 1258.5L1298.8 1258.8L1282.6 1258.5L1266.5 1259.5L1252.2 1269.1L1250.3 1269.5L1234.1 1269.3L1233.6 1269.1L1217.9 1258.5L1201.7 1258.5L1185.6 1258.5L1169.4 1258.8L1169.0 1258.2L1153.2 1247.6L1152.8 1247.3L1153.2 1246.0L1167.4 1236.5L1153.2 1226.9L1152.2 1225.6L1151.3 1214.7L1152.8 1203.8M360.4 1605.7L376.6 1605.6L392.8 1605.4L393.4 1606.0L408.9 1616.5L409.4 1616.9L425.1 1627.4L441.3 1627.1L441.7 1627.8L457.5 1638.4L458.1 1638.6L458.1 1649.5L458.0 1660.4L473.7 1670.9L474.3 1671.2L474.3 1682.1L474.3 1693.0L474.1 1703.9L473.7 1704.1L457.5 1704.3L441.3 1704.3L440.8 1703.9L425.1 1693.3L424.5 1693.0L408.9 1682.6L392.8 1682.4L392.1 1682.1L376.6 1671.7L361.0 1682.1L360.4 1682.6M1412.1 1508.9L1411.4 1508.2L1412.1 1507.8L1414.0 1508.2ZM829.6 1247.6L829.2 1247.3L829.6 1246.9L830.1 1247.3ZM733.0 1203.8L732.9 1214.7L748.7 1225.3L749.2 1225.6L764.9 1236.1L781.1 1236.0L781.5 1236.5L781.6 1247.3L781.1 1247.8L764.9 1248.6L750.7 1258.2L748.7 1258.8L747.7 1258.2L732.5 1248.0L717.3 1258.2L716.4 1258.5L715.9 1258.2L715.7 1247.3L715.9 1236.5L700.2 1225.9L699.7 1225.6L698.2 1214.7L684.0 1205.1L669.8 1214.7L668.3 1225.6L667.8 1225.9L652.1 1236.5L651.6 1236.7L649.7 1236.5L635.5 1226.9L621.2 1236.5L619.3 1236.8L603.1 1236.8L587.4 1247.3L586.9 1247.6L586.5 1247.3L570.7 1236.7L554.6 1236.8L538.9 1247.3L538.4 1248.0L523.2 1258.2L522.2 1259.5L508.0 1269.1L522.2 1278.6L522.8 1279.9L522.2 1280.4L506.7 1290.8L506.0 1291.0L505.5 1290.8L489.8 1280.3L474.1 1290.8L473.7 1291.1L473.2 1290.8L457.5 1280.3L441.8 1290.8L441.8 1301.7L457.5 1312.2L473.7 1312.2L474.3 1312.5L489.8 1323.0L506.0 1323.1L506.7 1323.4L506.7 1334.3L506.4 1345.2L506.3 1356.0L506.0 1356.3L504.1 1356.0L489.8 1346.5L475.6 1356.0L473.7 1356.3L457.9 1366.9L457.5 1367.2L441.3 1367.2L425.5 1377.8L425.6 1388.6L425.8 1399.5L441.3 1409.9L457.5 1409.1L457.9 1410.4L457.5 1410.7L441.3 1410.8L425.8 1421.2L425.6 1432.1L425.5 1443.0L425.8 1453.9L425.1 1455.2L410.9 1464.7L408.9 1465.0L393.2 1475.6L393.4 1486.5L408.9 1496.9L425.1 1497.0L426.1 1497.3L425.5 1508.2L425.8 1519.1L426.1 1529.9L425.6 1540.8L425.1 1541.2L423.2 1540.8L424.5 1529.9L408.9 1519.5L408.3 1519.1L392.8 1508.6L377.2 1519.1L376.6 1519.4L374.6 1519.1L360.4 1509.5M765.4 1203.8L764.9 1204.2L764.4 1203.8M797.9 1203.8L797.3 1204.1L796.8 1203.8M975.6 1203.8L976.2 1214.7L975.2 1215.0L975.0 1214.7L959.1 1204.0L942.9 1204.1L927.1 1214.7L926.7 1215.1L911.2 1225.6L910.5 1226.0L895.0 1236.5L894.3 1236.7L878.2 1236.7L862.4 1247.3L862.0 1247.6L861.5 1247.3L861.3 1236.5L845.8 1226.0L845.3 1225.6L845.1 1214.7L829.6 1204.3L829.0 1203.8M1121.2 1203.8L1120.8 1204.3L1104.7 1204.3L1104.0 1203.8"/>
<path fill="none" stroke="#242424" stroke-width="6.2" stroke-linejoin="round" stroke-linecap="round" d="M1261.6 2138.7L1266.5 2139.7L1268.1 2138.7L1266.5 2137.0ZM1199.3 2127.8L1201.7 2131.1L1204.2 2127.8L1208.8 2116.9L1217.9 2110.8L1227.1 2116.9L1231.7 2127.8L1234.1 2131.1L1250.3 2134.9L1257.3 2127.8L1266.5 2118.6L1268.9 2116.9L1266.5 2115.3L1250.3 2113.7L1234.1 2109.9L1228.4 2106.1L1234.1 2102.2L1250.3 2098.4L1266.5 2096.8L1268.9 2095.2L1271.3 2084.3L1273.5 2073.4L1266.5 2066.4L1260.8 2062.6L1250.3 2055.5L1239.0 2051.7L1250.3 2047.9L1260.8 2040.8L1250.3 2036.1L1241.1 2030.0L1234.1 2022.9L1222.8 2019.1L1217.9 2015.8L1206.6 2008.2L1204.2 1997.4L1204.2 1986.5L1217.9 1977.2L1222.8 1975.6L1217.9 1974.0L1204.2 1964.7L1201.7 1961.5L1190.4 1953.9L1201.7 1946.3L1207.4 1953.9L1217.9 1958.6L1234.1 1960.9L1241.1 1953.9L1236.5 1943.0L1234.1 1939.7L1231.3 1932.1L1234.1 1928.3L1245.4 1932.1L1250.3 1933.8L1252.7 1932.1L1266.5 1922.9L1268.9 1921.3L1282.6 1912.0L1287.5 1910.4L1295.1 1899.5L1298.8 1895.7L1315.0 1895.7L1331.2 1897.0L1336.8 1899.5L1347.4 1906.6L1354.4 1899.5L1363.5 1895.8L1374.2 1888.7L1379.7 1884.0L1395.9 1886.7L1412.1 1886.1L1423.4 1888.7L1428.3 1891.9L1433.9 1899.5L1444.4 1904.2L1451.5 1899.5L1444.4 1892.5L1433.1 1888.7L1444.4 1884.8L1460.6 1886.7L1472.0 1888.7L1476.8 1891.9L1481.7 1888.7L1493.0 1881.0L1509.2 1879.4L1522.9 1888.7L1525.3 1889.7L1541.5 1890.3L1544.0 1888.7L1552.0 1877.8L1557.7 1874.0L1569.0 1877.8L1573.9 1881.0L1578.7 1877.8L1590.1 1874.0L1606.2 1868.5L1620.0 1877.8L1622.4 1879.4L1624.8 1877.8L1638.6 1871.6L1649.1 1866.9L1654.8 1863.1L1666.1 1866.9L1671.0 1870.2L1675.8 1866.9L1687.1 1863.1L1697.7 1856.0L1692.0 1845.2L1689.6 1834.3L1687.1 1831.0L1683.4 1823.4L1687.1 1822.2L1703.3 1820.9L1714.6 1823.4L1719.5 1824.5L1735.7 1828.1L1746.2 1823.4L1751.9 1815.8L1756.7 1812.6L1756.1 1801.7L1756.7 1790.8L1751.9 1787.6L1749.4 1790.8L1741.3 1801.7L1747.0 1812.6L1735.7 1816.4L1724.4 1812.6L1719.5 1809.3L1713.8 1801.7L1705.7 1790.8L1703.3 1789.2L1689.6 1780.0L1687.1 1776.7L1675.8 1769.1L1687.1 1761.5L1689.6 1758.2L1687.1 1754.9L1671.0 1756.6L1657.2 1747.3L1654.8 1744.1L1638.6 1738.4L1627.3 1736.5L1622.4 1733.2L1606.2 1729.4L1600.6 1725.6L1590.1 1722.1L1573.9 1722.3L1557.7 1724.0L1555.3 1725.6L1557.7 1727.2L1564.6 1736.5L1557.7 1741.1L1541.5 1740.3L1530.2 1736.5L1525.3 1733.2L1509.2 1734.8L1504.3 1736.5L1504.3 1747.3L1493.0 1751.1L1476.8 1751.1L1460.6 1753.5L1444.4 1751.1L1438.8 1747.3L1428.3 1743.8L1421.3 1747.3L1412.1 1756.6L1407.2 1758.2L1399.7 1769.1L1395.9 1772.9L1384.6 1769.1L1379.7 1767.4L1363.5 1760.7L1347.4 1765.8L1342.5 1769.1L1331.2 1772.9L1315.0 1772.9L1298.8 1776.7L1282.6 1778.3L1266.5 1778.3L1250.3 1778.3L1236.5 1769.1L1234.1 1765.8L1229.3 1769.1L1221.7 1780.0L1229.3 1790.8L1217.9 1798.4L1206.6 1790.8L1212.3 1780.0L1206.6 1769.1L1201.7 1767.4L1192.6 1758.2L1185.6 1754.7L1175.1 1758.2L1175.1 1769.1L1180.7 1780.0L1169.4 1783.8L1158.1 1780.0L1163.7 1769.1L1158.1 1758.2L1162.5 1747.3L1169.4 1738.1L1174.2 1736.5L1174.2 1725.6L1176.4 1714.7L1169.4 1707.7L1163.7 1703.9L1169.4 1696.3L1174.2 1693.0L1185.6 1685.4L1191.2 1693.0L1200.1 1703.9L1201.7 1705.5L1204.2 1703.9L1212.3 1693.0L1206.6 1682.1L1217.9 1674.5L1223.6 1682.1L1234.1 1686.8L1250.3 1685.4L1255.1 1682.1L1250.3 1678.9L1234.1 1675.1L1222.8 1671.2L1234.1 1667.4L1244.6 1660.4L1250.3 1652.8L1251.9 1649.5L1250.3 1646.2L1244.6 1638.6L1235.7 1627.8L1239.4 1616.9L1238.3 1606.0L1250.3 1596.0L1266.5 1598.7L1282.6 1598.0L1287.9 1595.2L1287.5 1584.3L1298.8 1580.5L1315.0 1580.5L1331.2 1576.7L1332.0 1573.4L1331.2 1572.6L1315.0 1569.9L1304.1 1562.6L1315.0 1556.7L1327.4 1551.7L1331.2 1549.8L1344.5 1540.8L1347.4 1538.3L1358.7 1540.8L1358.7 1551.7L1363.5 1553.3L1368.4 1551.7L1366.0 1540.8L1363.5 1537.5L1359.8 1529.9L1356.7 1519.1L1347.4 1512.8L1338.2 1508.2L1332.4 1497.3L1331.2 1494.1L1315.0 1490.3L1303.7 1486.5L1315.0 1482.7L1325.5 1475.6L1331.2 1468.0L1336.8 1475.6L1347.4 1480.3L1356.5 1486.5L1363.5 1493.5L1370.6 1486.5L1363.5 1479.4L1357.9 1475.6L1352.2 1464.7L1352.6 1453.9L1352.2 1443.0L1363.5 1435.4L1379.7 1435.4L1384.6 1432.1L1381.3 1421.2L1384.6 1410.4L1395.9 1406.6L1399.7 1410.4L1410.5 1421.2L1412.1 1424.5L1413.7 1421.2L1419.5 1410.4L1412.1 1404.1L1402.9 1399.5L1412.1 1393.3L1419.1 1388.6L1428.3 1382.5L1444.4 1378.8L1446.1 1377.8L1455.0 1366.9L1444.4 1359.8L1438.8 1356.0L1440.7 1345.2L1435.3 1334.3L1444.4 1328.1L1460.6 1326.7L1463.1 1323.4L1460.6 1322.9L1444.4 1318.7L1433.9 1323.4L1428.3 1327.2L1412.1 1325.9L1400.8 1323.4L1395.9 1320.1L1384.6 1312.5L1379.7 1311.5L1363.5 1305.5L1357.9 1301.7L1349.0 1290.8L1347.4 1289.2L1344.9 1290.8L1331.2 1295.4L1315.0 1295.4L1305.8 1290.8L1303.7 1279.9L1298.8 1279.1L1296.4 1279.9L1288.3 1290.8L1282.6 1293.3L1266.5 1294.5L1250.3 1294.5L1234.1 1292.3L1230.3 1290.8L1217.9 1282.5L1205.5 1290.8L1201.7 1292.7L1185.6 1292.3L1179.9 1290.8L1169.4 1283.7L1158.1 1279.9L1153.2 1278.3L1146.3 1269.1L1141.9 1258.2L1137.0 1254.9L1120.8 1254.9L1117.1 1247.3L1117.1 1236.5L1104.7 1230.2L1092.3 1236.5L1088.5 1244.1L1082.8 1236.5L1072.3 1229.4L1065.3 1236.5L1056.1 1241.1L1047.0 1236.5L1040.0 1229.4L1034.3 1225.6L1023.8 1220.9L1007.6 1223.9L991.4 1224.8L989.0 1225.6L991.4 1226.4L1007.6 1228.8L1011.4 1236.5L1013.3 1247.3L1007.6 1254.9L991.4 1256.6L986.6 1258.2L989.0 1269.1L975.2 1275.2L961.5 1269.1L959.1 1265.8L956.6 1269.1L942.9 1278.3L941.3 1279.9L942.9 1283.2L959.1 1287.0L964.7 1290.8L964.7 1301.7L959.1 1304.2L942.9 1305.5L937.2 1301.7L939.1 1290.8L926.7 1285.8L915.8 1279.9L910.5 1272.9L900.0 1279.9L894.3 1287.5L892.7 1290.8L894.3 1292.4L903.5 1301.7L894.3 1310.9L880.6 1301.7L878.2 1300.6L875.7 1301.7L873.3 1312.5L862.0 1320.1L845.8 1320.1L840.9 1323.4L833.4 1334.3L840.9 1345.2L829.6 1347.1L826.8 1345.2L824.0 1334.3L824.0 1323.4L813.4 1318.7L802.9 1323.4L797.3 1331.0L794.8 1334.3L781.1 1338.9L767.3 1334.3L764.9 1331.0L762.5 1334.3L748.7 1340.4L732.5 1341.9L716.4 1336.8L700.2 1338.9L684.0 1343.5L667.8 1335.8L653.9 1345.2L651.6 1349.0L635.5 1354.4L630.6 1356.0L619.3 1359.8L608.8 1366.9L619.3 1374.0L622.1 1377.8L630.6 1388.6L619.3 1392.4L608.0 1388.6L603.1 1385.4L600.7 1388.6L586.9 1397.9L573.2 1388.6L573.2 1377.8L570.7 1376.1L568.3 1377.8L568.3 1388.6L554.6 1393.2L547.1 1399.5L538.4 1406.8L522.2 1408.7L519.8 1410.4L522.2 1413.6L533.5 1421.2L522.2 1425.0L506.0 1427.4L495.5 1432.1L489.8 1435.9L479.3 1443.0L489.8 1450.0L506.0 1451.3L522.2 1444.6L524.6 1443.0L538.4 1436.8L543.6 1432.1L554.6 1424.8L569.1 1432.1L554.6 1439.4L547.5 1443.0L538.4 1452.2L536.0 1453.9L522.2 1460.0L506.0 1456.4L489.8 1461.5L473.7 1461.5L457.5 1463.1L455.9 1464.7L457.5 1468.0L473.7 1468.0L479.3 1475.6L473.7 1479.4L457.5 1483.2L455.9 1486.5L457.5 1487.5L468.4 1497.3L457.5 1507.1L452.6 1508.2L455.9 1519.1L457.5 1522.3L468.8 1529.9L457.5 1532.5L448.2 1540.8L455.1 1551.7L445.1 1562.6L447.0 1573.4L457.5 1578.1L473.7 1582.4L475.9 1584.3L487.4 1595.2L485.0 1606.0L489.8 1607.7L494.7 1606.0L506.0 1603.5L509.8 1606.0L517.3 1616.9L522.2 1618.0L527.1 1616.9L538.4 1615.4L554.6 1613.1L560.2 1616.9L570.7 1624.0L576.4 1627.8L582.1 1638.6L584.5 1649.5L570.7 1658.7L568.3 1660.4L570.7 1662.0L586.9 1663.6L589.3 1660.4L603.1 1651.1L616.8 1660.4L619.3 1661.5L635.5 1667.4L646.8 1671.2L646.4 1682.1L651.6 1689.2L663.0 1693.0L667.8 1696.3L670.2 1693.0L667.8 1689.7L662.2 1682.1L667.8 1674.5L684.0 1678.3L700.2 1678.3L711.5 1682.1L716.4 1683.8L718.0 1682.1L721.2 1671.2L721.2 1660.4L732.5 1652.8L738.2 1660.4L748.7 1667.4L764.9 1663.6L776.2 1671.2L764.9 1673.8L752.5 1682.1L764.9 1688.4L781.1 1685.4L784.8 1693.0L781.1 1696.8L764.9 1699.1L748.7 1697.6L739.4 1703.9L732.5 1708.5L718.8 1703.9L716.4 1702.2L702.6 1693.0L700.2 1689.7L697.7 1693.0L697.7 1703.9L684.0 1713.1L681.6 1714.7L684.0 1718.0L687.8 1725.6L684.0 1729.4L667.8 1729.4L660.8 1736.5L653.9 1747.3L651.6 1749.2L635.5 1751.1L619.3 1757.1L604.7 1747.3L603.1 1745.7L601.5 1747.3L600.7 1758.2L586.9 1764.4L570.7 1765.5L560.2 1769.1L565.9 1780.0L570.7 1783.2L582.1 1790.8L570.7 1798.4L565.9 1801.7L554.6 1804.2L543.2 1801.7L538.4 1798.4L536.8 1801.7L533.5 1812.6L536.0 1823.4L538.4 1825.1L554.6 1829.7L570.7 1831.8L582.1 1834.3L586.9 1835.9L600.7 1845.2L589.7 1856.0L586.9 1859.8L576.4 1866.9L586.9 1871.6L600.7 1877.8L603.1 1878.9L619.3 1882.5L633.0 1888.7L635.5 1891.9L641.1 1899.5L651.6 1904.2L667.8 1901.2L684.0 1904.2L697.7 1910.4L700.2 1912.0L702.6 1910.4L716.4 1906.7L730.1 1910.4L716.4 1916.5L709.3 1921.3L716.4 1928.3L727.7 1932.1L730.9 1943.0L730.1 1953.9L732.5 1955.5L737.4 1953.9L735.0 1943.0L748.7 1936.8L759.2 1932.1L764.9 1924.5L776.2 1932.1L781.1 1935.4L786.7 1943.0L797.3 1950.1L807.8 1943.0L813.4 1935.4L824.8 1943.0L829.6 1944.6L834.5 1943.0L845.8 1935.4L851.5 1943.0L862.0 1950.1L872.5 1943.0L878.2 1935.4L894.3 1935.4L898.1 1943.0L910.5 1951.3L921.8 1953.9L924.3 1964.7L926.7 1968.0L929.1 1964.7L929.1 1953.9L942.9 1944.6L959.1 1952.0L975.2 1946.5L985.7 1943.0L991.4 1935.4L997.1 1943.0L991.4 1950.6L989.8 1953.9L991.4 1955.5L996.3 1953.9L1007.6 1950.1L1013.3 1953.9L1011.4 1964.7L1023.8 1971.0L1036.2 1964.7L1030.8 1953.9L1040.0 1950.2L1049.1 1953.9L1056.1 1960.9L1072.3 1957.1L1083.6 1964.7L1088.5 1966.4L1097.7 1975.6L1099.8 1986.5L1104.7 1987.6L1107.1 1986.5L1120.8 1977.2L1137.0 1981.9L1146.2 1986.5L1142.7 1997.4L1137.0 2001.2L1133.3 1997.4L1120.8 1991.1L1113.4 1997.4L1104.7 2004.7L1097.7 2008.2L1104.7 2015.3L1115.2 2008.2L1120.8 2005.7L1126.5 2008.2L1137.0 2015.3L1142.7 2019.1L1137.0 2022.9L1120.8 2023.7L1104.7 2026.7L1102.2 2030.0L1104.7 2033.2L1107.5 2040.8L1104.7 2048.4L1102.2 2051.7L1088.5 2060.9L1086.1 2062.6L1088.5 2065.8L1091.3 2073.4L1088.5 2081.0L1086.1 2084.3L1088.5 2085.9L1093.3 2084.3L1104.7 2082.4L1120.8 2080.5L1126.5 2084.3L1120.8 2088.1L1110.3 2095.2L1120.8 2099.9L1137.0 2104.1L1142.7 2106.1L1153.2 2110.8L1158.5 2106.1L1169.4 2096.3L1174.2 2095.2L1174.2 2084.3L1185.6 2076.7L1201.7 2080.5L1205.5 2084.3L1201.7 2091.9L1196.9 2095.2L1185.6 2099.0L1180.3 2106.1L1178.6 2116.9L1185.6 2121.6ZM1329.6 2116.9L1331.2 2118.0L1333.6 2116.9L1331.2 2115.3ZM1201.7 2109.9L1196.1 2106.1L1201.7 2098.4L1207.4 2106.1ZM1054.5 2051.7L1056.1 2052.8L1061.0 2051.7L1056.1 2050.6ZM828.8 2030.0L829.6 2030.5L845.8 2030.5L847.0 2030.0L845.8 2028.9L829.6 2028.9ZM891.9 2030.0L894.3 2030.5L899.2 2030.0L894.3 2026.7ZM1264.0 2030.0L1266.5 2033.2L1268.9 2030.0L1266.5 2028.3ZM1294.0 2019.1L1298.8 2019.6L1301.3 2019.1L1300.4 2008.2L1315.0 1998.4L1316.6 1997.4L1315.0 1996.3L1298.8 1994.1L1287.5 1986.5L1282.6 1984.8L1280.2 1986.5L1278.4 1997.3L1282.6 2004.4L1294.0 2008.2ZM1455.8 2019.1L1460.6 2020.7L1463.1 2019.1L1460.6 2017.5ZM1018.9 2008.2L1023.8 2009.9L1028.6 2008.2L1023.8 2006.6ZM1229.3 2008.2L1234.1 2011.5L1239.0 2008.2L1236.5 1997.4L1234.1 1994.1L1231.7 1997.4ZM1407.2 2008.2L1412.1 2009.9L1414.5 2008.2L1412.1 2006.6ZM1442.0 2008.2L1444.4 2011.5L1446.9 2008.2L1444.4 2007.4ZM1474.4 2008.2L1476.8 2009.9L1481.7 2008.2L1476.8 2006.6ZM764.1 1997.4L764.9 1997.9L766.5 1997.4L764.9 1994.1ZM1069.9 1997.4L1072.3 1999.0L1088.5 2002.1L1093.7 1997.4L1088.5 1990.3L1084.7 1986.5L1072.3 1980.2L1063.1 1975.6L1056.1 1968.5L1045.6 1975.6L1040.0 1983.2L1035.1 1986.5L1040.0 1987.3L1056.1 1988.1ZM1358.7 1997.4L1363.5 1999.0L1379.7 2000.6L1395.9 2000.6L1398.3 1997.4L1412.1 1988.1L1416.9 1986.5L1412.1 1984.8L1395.9 1980.2L1379.7 1983.2L1377.3 1986.5L1363.5 1995.7ZM877.2 1986.5L878.2 1987.6L894.3 1989.7L896.0 1986.5L896.0 1975.6L894.3 1974.0L891.9 1975.6L878.2 1984.8ZM1169.4 1989.0L1163.7 1986.5L1158.1 1975.6L1169.4 1973.1L1180.7 1975.6L1180.7 1986.5ZM811.0 1975.6L813.4 1976.7L815.9 1975.6L813.4 1974.0ZM1296.4 1975.6L1298.8 1978.9L1301.3 1975.6L1298.8 1972.3ZM1571.5 1975.6L1573.9 1976.2L1576.3 1975.6L1573.9 1972.3ZM776.2 1964.7L781.1 1965.8L785.9 1964.7L781.1 1963.1ZM1169.4 1956.4L1158.1 1953.9L1162.5 1943.0L1169.4 1938.4L1183.1 1943.0L1180.7 1953.9ZM698.6 1932.1L700.2 1933.8L705.0 1932.1L700.2 1930.5ZM942.9 1939.7L937.2 1932.1L942.9 1929.6L954.2 1932.1ZM1275.6 1932.1L1282.6 1939.2L1289.7 1932.1L1282.6 1927.4ZM748.7 1925.1L743.1 1921.3L748.7 1913.7L760.0 1921.3ZM878.2 1928.9L866.8 1921.3L878.2 1917.5L883.8 1921.3ZM959.1 1930.5L952.2 1921.3L959.1 1916.6L968.2 1921.3ZM1201.7 1925.1L1198.9 1921.3L1201.7 1919.4L1207.4 1921.3ZM1296.4 1921.3L1298.8 1922.9L1303.7 1921.3L1298.8 1918.0ZM1685.5 1921.3L1687.1 1922.9L1689.6 1921.3L1687.1 1920.2ZM781.1 1914.2L769.7 1910.4L781.1 1906.6L797.3 1902.8L800.1 1910.4L797.3 1914.2ZM1714.6 1910.4L1719.5 1911.5L1721.1 1910.4L1719.5 1908.8ZM732.5 1907.1L729.7 1899.5L732.5 1895.7L735.4 1899.5ZM813.4 1901.4L802.1 1899.5L813.4 1898.0L819.1 1899.5ZM1572.3 1899.5L1573.9 1901.2L1575.1 1899.5L1573.9 1896.3ZM569.1 1888.7L570.7 1889.7L572.4 1888.7L570.7 1887.0ZM1603.8 1888.7L1606.2 1891.9L1608.7 1888.7L1606.2 1887.0ZM651.6 1876.1L642.5 1866.9L651.6 1862.3L658.5 1866.9ZM1493.0 1874.5L1490.2 1866.9L1493.0 1865.4L1498.6 1866.9ZM520.6 1856.0L522.2 1857.7L527.1 1856.0L522.2 1854.4ZM635.5 1862.2L621.7 1856.0L635.5 1846.8L642.3 1856.0ZM1671.0 1863.6L1665.3 1856.0L1671.0 1854.1L1676.6 1856.0ZM1714.6 1845.2L1719.5 1846.8L1735.7 1846.0L1740.5 1845.2L1735.7 1843.5L1719.5 1844.1ZM503.6 1823.4L506.0 1824.5L508.4 1823.4L510.9 1812.6L506.0 1810.9L504.4 1812.6ZM1185.6 1828.0L1176.4 1823.4L1185.6 1820.4L1194.7 1823.4ZM1763.2 1823.4L1768.0 1825.1L1770.5 1823.4L1768.0 1820.2ZM1072.3 1815.2L1069.3 1812.6L1058.6 1801.7L1072.3 1797.1L1088.5 1799.2L1092.3 1801.7L1088.5 1804.2L1079.2 1812.6ZM1153.2 1813.6L1151.6 1812.6L1153.2 1808.8L1155.5 1812.6ZM1185.6 1804.8L1178.7 1801.7L1179.9 1790.8L1185.6 1783.2L1196.9 1790.8L1194.7 1801.7ZM360.4 1794.1L362.8 1790.8L360.4 1789.7M420.3 1790.8L425.1 1792.5L426.7 1790.8L425.1 1789.7ZM1137.0 1794.6L1133.3 1790.8L1137.0 1783.2L1148.4 1790.8ZM1395.9 1793.1L1389.0 1790.8L1395.9 1784.7L1402.8 1790.8ZM1784.2 1798.4L1783.0 1801.7L1779.4 1812.6L1784.2 1814.2M439.7 1780.0L441.3 1781.0L443.7 1780.0L441.3 1778.3ZM1717.1 1780.0L1719.5 1781.6L1724.4 1780.0L1719.5 1776.7ZM1072.3 1771.0L1061.0 1769.1L1068.5 1758.2L1072.3 1755.7L1075.1 1758.2L1083.6 1769.1ZM1460.6 1771.0L1455.0 1769.1L1460.6 1765.3L1472.0 1769.1ZM1784.2 1775.2L1768.0 1778.9L1763.2 1780.0L1768.0 1783.2L1784.2 1787.0M1288.3 1758.2L1298.8 1765.3L1305.8 1758.2L1298.8 1751.1ZM1056.1 1749.9L1054.5 1747.3L1056.1 1744.8L1059.9 1747.3ZM1104.7 1751.1L1101.8 1747.3L1101.8 1736.5L1104.7 1732.7L1116.0 1736.5L1116.0 1747.3ZM1200.1 1747.3L1201.7 1749.0L1217.9 1750.6L1220.4 1747.3L1217.9 1745.7L1201.7 1746.3ZM1361.9 1747.3L1363.5 1750.6L1379.7 1749.0L1381.3 1747.3L1379.7 1744.1L1363.5 1744.1ZM630.6 1725.6L635.5 1728.9L640.3 1725.6L642.5 1714.7L635.5 1711.2L624.9 1714.7ZM716.4 1730.2L709.5 1725.6L716.4 1721.0L725.5 1725.6ZM1153.2 1734.8L1139.5 1725.6L1153.2 1716.4L1167.0 1725.6ZM1394.3 1725.6L1395.9 1728.9L1400.8 1725.6L1395.9 1722.3ZM504.4 1714.7L506.0 1718.0L506.8 1714.7L506.0 1714.2ZM601.5 1714.7L603.1 1718.0L608.0 1714.7L605.5 1703.9L603.1 1700.6L600.7 1703.9ZM845.8 1718.4L836.6 1714.7L845.8 1710.1L851.3 1714.7ZM1423.4 1714.7L1428.3 1718.0L1430.7 1714.7L1428.3 1711.5ZM1604.6 1714.7L1606.2 1718.0L1607.9 1714.7L1606.2 1711.5ZM797.3 1711.5L791.6 1703.9L797.3 1701.3L808.6 1703.9ZM569.9 1693.0L570.7 1694.6L586.9 1694.6L591.8 1693.0L586.9 1689.7L570.7 1691.9ZM1261.6 1693.0L1266.5 1696.3L1268.9 1693.0L1266.5 1689.7ZM1556.1 1693.0L1557.7 1694.6L1560.1 1693.0L1557.7 1692.4ZM1261.6 1671.2L1266.5 1674.5L1268.9 1671.2L1266.5 1669.6ZM503.6 1660.4L506.0 1661.5L522.2 1662.0L527.1 1660.4L529.2 1649.5L522.2 1642.4L511.7 1649.5L506.0 1657.1ZM700.2 1664.2L694.5 1660.4L700.2 1656.6L711.5 1660.4ZM635.5 1653.3L629.8 1649.5L635.5 1647.0L646.8 1649.5ZM748.7 1653.3L737.4 1649.5L748.7 1641.9L751.5 1649.5ZM1169.4 1659.3L1154.8 1649.5L1169.4 1645.3L1184.0 1649.5ZM1201.7 1658.7L1188.0 1649.5L1201.7 1643.4L1217.9 1640.3L1227.1 1649.5L1217.9 1655.7ZM549.7 1638.6L554.6 1641.9L559.4 1638.6L554.6 1637.0ZM603.1 1646.2L591.8 1638.6L603.1 1634.8L619.3 1636.7L623.1 1638.6L619.3 1642.4ZM684.0 1646.2L678.3 1638.6L684.0 1631.0L689.7 1638.6ZM716.4 1644.8L707.2 1638.6L716.4 1629.4L730.1 1638.6ZM635.5 1619.4L631.7 1616.9L635.5 1613.1L641.1 1616.9ZM667.8 1619.4L662.2 1616.9L667.8 1609.3L671.6 1616.9ZM1088.5 1621.5L1083.0 1616.9L1088.5 1610.7L1095.4 1616.9ZM586.9 1607.6L583.1 1606.0L586.9 1598.4L603.1 1604.1L606.9 1606.0L603.1 1608.6ZM748.7 1613.6L743.1 1606.0L748.7 1598.4L751.5 1606.0ZM667.8 1602.8L662.2 1595.2L667.8 1591.4L673.5 1595.2ZM1040.0 1602.8L1034.3 1595.2L1040.0 1587.6L1056.1 1587.6L1059.9 1595.2L1056.1 1597.7ZM619.3 1590.2L604.7 1584.3L610.5 1573.4L603.1 1567.2L597.6 1562.5L603.1 1556.4L616.8 1562.6L619.3 1563.6L624.1 1562.6L635.5 1554.9L651.6 1554.9L656.5 1551.7L651.6 1550.0L635.5 1548.4L624.1 1540.8L635.5 1533.2L640.3 1529.9L651.6 1526.1L667.8 1523.8L678.3 1519.1L684.0 1511.5L689.7 1519.1L697.7 1529.9L700.2 1533.2L711.5 1540.8L711.5 1551.7L705.8 1562.6L716.4 1569.6L720.1 1573.4L716.4 1577.2L705.8 1584.3L700.2 1591.9L684.0 1588.1L678.3 1584.3L684.0 1576.7L688.8 1573.4L688.8 1562.6L684.0 1560.9L667.8 1559.3L663.0 1562.6L667.8 1565.8L679.1 1573.4L667.8 1577.2L656.5 1573.4L651.6 1570.2L649.2 1573.4L649.2 1584.3L635.5 1593.5ZM390.3 1573.4L392.8 1574.5L395.2 1573.4L392.8 1572.3ZM781.1 1576.0L769.7 1573.4L781.1 1569.6L792.4 1573.4ZM1185.6 1575.9L1182.7 1573.4L1185.6 1566.1L1192.8 1573.4ZM1056.1 1568.7L1049.3 1562.6L1056.1 1553.3L1069.9 1562.6ZM1346.2 1562.6L1347.4 1563.1L1349.8 1562.6L1347.4 1559.3ZM813.4 1555.5L807.8 1551.7L807.8 1540.8L813.4 1537.0L817.2 1540.8L824.8 1551.7ZM959.1 1555.5L953.4 1551.7L959.1 1547.9L964.7 1551.7ZM991.4 1559.3L985.7 1551.7L985.7 1540.8L991.4 1538.3L995.2 1540.8L994.2 1551.7ZM360.4 1544.1L365.3 1540.8L360.4 1539.7M660.8 1540.8L667.8 1547.9L673.1 1540.8L667.8 1536.1ZM732.5 1550.0L718.8 1540.8L726.9 1529.9L732.5 1522.3L735.4 1529.9L741.7 1540.8ZM894.3 1532.5L890.6 1529.9L894.3 1527.4L898.1 1529.9ZM635.5 1515.8L632.6 1508.2L635.5 1504.4L639.2 1508.2ZM845.8 1515.8L834.5 1508.2L845.8 1505.7L851.5 1508.2ZM975.2 1512.0L963.9 1508.2L959.1 1506.6L954.5 1497.3L959.1 1492.7L972.8 1497.3L975.2 1500.6L979.0 1508.2ZM1137.0 1512.0L1131.4 1508.2L1137.0 1505.7L1148.4 1508.2ZM1361.1 1508.2L1363.5 1509.8L1368.4 1508.2L1363.5 1504.9ZM684.0 1504.9L681.2 1497.3L684.0 1495.8L695.3 1497.3ZM764.9 1504.9L761.1 1497.3L764.9 1495.8L767.7 1497.3ZM1374.9 1497.3L1379.7 1500.6L1380.9 1497.3L1379.7 1495.7ZM1201.7 1488.0L1198.9 1486.5L1201.7 1483.9L1204.6 1486.5ZM926.7 1483.2L915.4 1475.6L926.7 1474.3L930.5 1475.6ZM1120.8 1479.4L1117.1 1475.6L1120.8 1468.0L1124.6 1475.6ZM1250.3 1478.1L1244.6 1475.6L1250.3 1473.1L1256.0 1475.6ZM1374.9 1475.6L1379.7 1477.2L1384.6 1475.6L1379.7 1474.0ZM1201.7 1444.5L1198.0 1443.0L1201.7 1440.4L1204.6 1443.0ZM1315.0 1450.6L1303.7 1443.0L1315.0 1441.1L1320.7 1443.0ZM1391.1 1443.0L1395.9 1444.6L1412.1 1444.6L1416.9 1443.0L1412.1 1439.7L1395.9 1439.7ZM1490.6 1443.0L1493.0 1444.1L1493.8 1443.0L1493.0 1439.7ZM1347.4 1425.0L1336.0 1421.2L1347.4 1413.6L1353.0 1421.2ZM554.6 1414.2L548.9 1410.4L554.6 1407.8L556.8 1410.4ZM1234.1 1414.2L1222.8 1410.4L1231.3 1399.5L1234.1 1398.0L1239.8 1399.5L1237.9 1410.4ZM1363.5 1408.7L1356.7 1399.5L1363.5 1390.3L1372.7 1399.5ZM1266.5 1391.2L1262.7 1388.6L1266.5 1386.1L1269.3 1388.6ZM635.5 1368.8L629.8 1366.9L635.5 1359.3L646.8 1366.9ZM1331.2 1370.7L1327.4 1366.9L1331.2 1365.4L1335.0 1366.9ZM521.4 1356.0L522.2 1357.7L523.8 1356.0L522.2 1352.8ZM894.3 1360.9L885.6 1356.0L894.3 1346.2L903.1 1356.0ZM568.3 1345.2L570.7 1346.2L572.0 1345.2L570.7 1341.9ZM1298.8 1346.4L1296.0 1345.2L1298.8 1342.6L1300.7 1345.2ZM1455.8 1345.2L1460.6 1348.4L1463.1 1345.2L1460.6 1341.9ZM894.3 1341.9L891.5 1334.3L894.3 1330.5L897.2 1334.3ZM743.9 1323.4L748.7 1325.0L753.6 1323.4L748.7 1321.8ZM689.7 1312.5L700.2 1317.3L710.7 1312.5L700.2 1307.8ZM727.7 1312.5L732.5 1315.8L735.0 1312.5L732.5 1309.3ZM1331.2 1316.3L1319.9 1312.5L1331.2 1310.0L1347.4 1308.7L1353.0 1312.5L1347.4 1316.3ZM503.6 1301.7L506.0 1303.3L522.2 1303.3L523.8 1301.7L522.2 1300.6L506.0 1301.1ZM827.2 1301.7L829.6 1303.3L845.8 1304.9L848.2 1301.7L845.8 1300.0L829.6 1300.0ZM1137.0 1302.9L1131.4 1301.7L1137.0 1300.4L1140.8 1301.7ZM991.4 1293.3L985.7 1290.8L991.4 1283.2L994.2 1290.8ZM1326.3 1279.9L1331.2 1281.6L1333.6 1279.9L1331.2 1278.3ZM811.0 1269.1L813.4 1272.3L815.9 1269.1L818.3 1258.2L813.4 1254.9L811.0 1258.2ZM649.2 1247.3L651.6 1249.0L656.5 1247.3L651.6 1246.8ZM972.8 1247.3L975.2 1250.6L977.7 1247.3L975.2 1245.7ZM948.5 1214.7L959.1 1221.8L962.1 1214.7L959.1 1212.7ZM1022.6 1203.8L1023.8 1205.5L1037.5 1214.7L1040.0 1218.0L1056.1 1216.3L1057.7 1214.7L1060.3 1203.8"/>
<path fill="none" stroke="#494949" stroke-width="6.2" stroke-linejoin="round" stroke-linecap="round" d="M1034.4 1932.1L1040.0 1938.3L1056.1 1935.9L1067.5 1932.1L1072.3 1928.9L1078.0 1921.3L1088.5 1914.2L1091.3 1910.4L1104.7 1907.8L1115.3 1910.4L1120.8 1919.6L1137.0 1916.5L1153.2 1916.8L1165.9 1910.4L1153.2 1903.1L1143.9 1899.5L1153.2 1893.3L1162.4 1888.7L1169.4 1885.8L1179.9 1888.7L1185.6 1890.6L1196.9 1888.7L1201.7 1885.4L1206.6 1888.7L1217.9 1891.2L1223.6 1888.7L1234.1 1885.1L1241.4 1877.8L1245.0 1866.9L1241.0 1856.0L1249.1 1845.2L1250.3 1844.4L1266.5 1844.5L1266.8 1845.2L1266.5 1846.3L1257.7 1856.0L1257.7 1866.9L1266.5 1872.8L1282.6 1871.8L1293.3 1877.8L1298.8 1881.5L1315.0 1881.5L1328.8 1877.8L1330.0 1866.9L1331.2 1865.3L1347.4 1866.4L1363.5 1866.5L1379.7 1866.3L1384.6 1866.9L1395.9 1870.7L1398.7 1866.9L1412.1 1859.7L1428.3 1860.7L1440.7 1866.9L1444.4 1868.8L1450.1 1866.9L1459.0 1856.0L1460.6 1855.5L1476.8 1855.0L1493.0 1854.4L1494.6 1856.0L1509.2 1860.9L1525.3 1860.9L1536.3 1856.0L1541.5 1852.5L1548.5 1856.0L1557.7 1859.7L1566.9 1856.0L1573.9 1849.0L1590.1 1849.0L1601.4 1845.2L1590.1 1842.6L1573.9 1842.6L1557.7 1835.9L1556.1 1834.3L1541.5 1827.0L1534.5 1823.4L1541.5 1819.9L1557.7 1823.1L1559.3 1823.4L1573.9 1829.3L1590.1 1829.3L1606.2 1833.6L1621.5 1823.4L1622.4 1820.2L1626.2 1812.6L1622.4 1805.0L1621.9 1801.7L1622.4 1801.4L1638.6 1798.6L1647.9 1801.7L1651.0 1812.6L1654.8 1820.2L1666.1 1812.6L1660.3 1801.7L1671.0 1792.7L1682.3 1790.8L1671.0 1787.0L1660.4 1780.0L1654.8 1778.0L1645.9 1769.1L1638.6 1759.3L1638.2 1758.2L1628.1 1747.3L1622.4 1745.8L1606.2 1745.4L1600.6 1747.3L1590.1 1752.1L1579.5 1747.3L1573.9 1744.8L1570.1 1747.3L1557.7 1755.7L1546.4 1758.2L1544.5 1769.1L1541.5 1771.4L1537.3 1769.1L1525.3 1762.4L1513.4 1769.1L1509.2 1772.6L1493.0 1772.6L1482.1 1780.0L1476.8 1782.8L1466.8 1790.8L1476.8 1798.9L1487.3 1801.7L1476.8 1808.8L1460.6 1808.8L1456.4 1801.7L1453.2 1790.8L1444.4 1785.9L1429.9 1790.8L1432.5 1801.7L1432.5 1812.6L1428.3 1814.9L1424.8 1812.6L1423.0 1801.7L1412.1 1795.8L1395.9 1799.4L1379.7 1799.2L1376.9 1801.7L1363.5 1806.8L1347.4 1810.0L1342.1 1801.7L1347.4 1793.4L1358.7 1790.8L1347.4 1787.0L1331.2 1785.1L1319.2 1790.8L1318.5 1801.7L1315.0 1804.5L1298.8 1810.7L1295.1 1812.6L1282.6 1820.9L1273.3 1812.6L1266.5 1807.9L1259.6 1812.6L1250.3 1817.6L1235.7 1823.4L1234.1 1825.1L1224.9 1834.3L1219.1 1845.2L1217.9 1846.3L1216.7 1845.2L1212.7 1834.3L1201.7 1829.4L1193.0 1834.3L1185.6 1837.4L1176.3 1834.3L1169.4 1830.6L1158.7 1823.4L1153.2 1820.8L1141.0 1812.6L1137.0 1808.9L1132.4 1812.6L1133.3 1823.4L1137.0 1826.0L1149.4 1834.3L1146.3 1845.2L1137.0 1848.3L1120.8 1845.6L1120.2 1845.2L1113.4 1834.3L1104.7 1827.0L1099.4 1823.4L1088.5 1817.6L1072.3 1822.3L1061.0 1812.6L1056.1 1808.4L1041.6 1812.6L1040.0 1813.1L1023.8 1815.3L1019.1 1812.6L1023.8 1806.3L1032.9 1801.7L1040.0 1797.0L1049.1 1790.8L1046.8 1780.0L1040.0 1773.8L1023.8 1776.1L1016.8 1769.1L1007.6 1762.9L997.1 1758.2L991.4 1755.7L987.6 1758.2L988.6 1769.1L991.4 1776.7L993.0 1780.0L991.4 1780.8L975.2 1781.5L971.0 1780.0L964.6 1769.1L959.1 1759.8L942.9 1765.3L935.9 1758.2L926.7 1749.0L921.8 1747.3L910.5 1739.7L909.3 1736.5L910.5 1734.8L924.3 1725.6L926.7 1722.3L942.9 1724.9L944.5 1725.6L956.8 1736.5L946.4 1747.3L959.1 1757.6L969.9 1747.3L970.4 1736.5L975.2 1735.7L991.4 1730.6L1005.3 1736.5L1007.6 1744.1L1023.8 1740.3L1029.4 1736.5L1023.8 1732.7L1018.5 1725.6L1023.8 1723.2L1030.8 1725.6L1040.0 1731.8L1053.7 1725.6L1056.1 1722.3L1072.3 1720.9L1088.5 1716.3L1094.2 1714.7L1092.3 1703.9L1104.7 1697.6L1110.2 1693.0L1107.5 1682.1L1104.7 1678.3L1100.9 1682.1L1088.5 1688.4L1072.3 1686.6L1061.6 1682.1L1072.3 1674.9L1079.2 1671.2L1088.5 1665.0L1093.1 1660.4L1088.5 1655.8L1072.3 1650.6L1069.9 1649.5L1067.1 1638.6L1056.1 1631.3L1040.0 1635.6L1028.4 1627.8L1023.8 1618.5L1007.6 1620.5L991.4 1618.9L987.9 1616.9L986.1 1606.0L991.4 1597.7L994.2 1595.2L991.4 1592.6L975.2 1590.5L968.4 1595.2L960.0 1606.0L962.6 1616.9L959.1 1618.2L956.9 1616.9L957.8 1606.0L946.6 1595.2L942.9 1587.6L937.2 1595.2L926.7 1598.7L910.5 1604.1L901.6 1595.2L894.3 1589.3L885.6 1595.2L890.6 1606.0L878.2 1608.5L872.0 1606.0L865.7 1595.2L862.0 1591.4L845.8 1587.8L829.6 1585.7L813.4 1585.9L804.3 1595.2L802.1 1606.0L813.4 1608.6L825.8 1616.9L829.6 1620.7L834.9 1627.8L829.6 1631.3L824.4 1627.8L813.4 1621.9L797.3 1625.9L791.6 1627.8L797.3 1635.4L798.9 1638.6L813.4 1642.8L829.6 1643.5L845.8 1646.7L849.9 1649.5L845.8 1655.8L829.6 1656.7L813.4 1657.3L799.7 1660.4L813.4 1669.6L818.3 1671.2L829.6 1673.8L837.1 1682.1L834.9 1693.0L845.8 1698.9L862.0 1700.3L871.3 1703.9L878.2 1713.1L878.8 1714.7L880.8 1725.6L878.2 1732.7L874.4 1736.5L863.2 1747.3L863.6 1758.2L862.0 1759.0L845.8 1759.8L832.0 1769.1L829.6 1769.5L813.4 1769.4L811.0 1769.1L797.3 1759.8L796.0 1758.2L797.3 1754.9L801.0 1747.3L797.3 1743.5L791.6 1747.3L781.1 1750.2L764.9 1750.6L748.7 1754.4L732.5 1756.7L716.4 1755.7L705.0 1758.2L709.1 1769.1L700.2 1772.7L686.8 1769.1L684.0 1767.6L672.4 1758.2L667.8 1749.0L658.6 1758.2L664.0 1769.1L651.6 1772.2L635.5 1777.4L619.3 1778.0L617.0 1780.0L619.3 1783.8L635.5 1782.5L640.8 1790.8L651.6 1797.2L662.3 1801.7L659.4 1812.6L652.8 1823.4L651.6 1826.7L649.4 1834.3L651.6 1841.9L654.1 1845.2L667.8 1851.3L684.0 1852.5L694.9 1845.2L700.2 1843.4L705.4 1845.2L710.1 1856.0L716.4 1865.8L732.5 1865.1L746.1 1856.0L748.7 1854.8L751.3 1856.0L751.1 1866.9L748.7 1868.5L732.5 1871.6L725.7 1877.8L732.5 1881.5L745.9 1888.7L748.7 1892.5L764.9 1890.6L770.6 1888.7L776.2 1877.8L778.6 1866.9L781.1 1865.8L783.5 1866.9L782.0 1877.8L797.3 1888.0L813.4 1887.0L815.9 1888.7L829.6 1892.3L836.5 1888.7L843.4 1877.8L845.8 1877.0L862.0 1875.0L878.2 1873.6L887.5 1877.8L894.3 1883.9L904.8 1888.7L910.5 1896.3L921.8 1888.7L926.7 1887.0L935.9 1877.8L942.9 1876.7L959.1 1876.4L966.1 1877.8L975.2 1887.0L975.9 1888.7L991.4 1899.1L993.0 1899.5L991.4 1902.8L975.2 1907.9L971.5 1910.4L975.2 1912.3L991.4 1912.9L1007.6 1916.8L1022.8 1910.4L1023.8 1909.3L1026.2 1910.4L1040.0 1916.5L1050.5 1921.3L1040.0 1926.0ZM1093.7 1932.1L1104.7 1938.0L1119.2 1932.1L1118.4 1921.3L1104.7 1917.6L1095.5 1921.3ZM922.9 1921.3L926.7 1923.2L930.5 1921.3L929.5 1910.4L926.7 1906.6L915.4 1910.4ZM1056.1 1913.7L1053.7 1910.4L1056.1 1909.6L1056.7 1910.4ZM892.1 1899.5L894.3 1901.0L905.7 1899.5L894.3 1895.7ZM1040.0 1901.2L1038.3 1899.5L1040.0 1899.3L1041.2 1899.5ZM858.2 1888.7L862.0 1892.5L867.6 1888.7L862.0 1886.1ZM1104.7 1883.6L1099.7 1877.8L1104.7 1871.1L1112.4 1877.8ZM696.4 1866.9L700.2 1869.4L711.5 1866.9L700.2 1865.4ZM813.4 1871.6L806.4 1866.9L813.4 1864.6L824.0 1866.9ZM1153.2 1868.9L1149.7 1866.9L1152.4 1856.0L1153.2 1854.4L1154.8 1856.0L1156.7 1866.9ZM1185.6 1856.9L1184.0 1856.0L1185.6 1855.5L1186.8 1856.0ZM845.8 1837.8L843.2 1834.3L845.8 1832.7L851.1 1834.3ZM600.8 1823.4L603.1 1825.0L608.8 1823.4L603.1 1819.6ZM1624.8 1823.4L1638.6 1829.6L1652.4 1823.4L1638.6 1818.8ZM684.0 1816.7L678.7 1812.6L677.0 1801.7L681.6 1790.8L684.0 1789.2L684.5 1790.8L686.3 1801.7L687.7 1812.6ZM1331.2 1813.6L1330.0 1812.6L1331.2 1811.9L1336.0 1812.6ZM1379.7 1812.9L1378.5 1812.6L1379.7 1809.3L1380.4 1812.6ZM1675.8 1812.6L1687.1 1813.8L1690.9 1812.6L1687.1 1810.0ZM1007.6 1803.7L1004.6 1801.7L1007.6 1798.2L1014.6 1801.7ZM845.8 1793.1L843.3 1790.8L845.8 1786.7L852.0 1790.8ZM1525.3 1794.4L1517.7 1790.8L1525.3 1785.7L1532.0 1790.8ZM667.8 1781.6L667.0 1780.0L667.8 1776.7L670.2 1779.9ZM1030.8 1747.3L1040.0 1753.5L1043.9 1747.3L1040.0 1741.2ZM959.1 1715.8L958.1 1714.7L959.1 1714.2L963.9 1714.7ZM991.4 1717.6L980.9 1714.7L975.2 1712.8L969.3 1703.9L975.2 1700.6L982.9 1703.9L991.4 1711.9L993.5 1714.7ZM1040.0 1719.4L1036.4 1714.7L1040.0 1711.2L1050.5 1714.7ZM1072.3 1705.5L1069.9 1703.9L1072.3 1703.2L1077.2 1703.9ZM1115.2 1671.2L1120.8 1673.2L1126.5 1671.2L1120.8 1668.7ZM791.6 1649.5L797.3 1657.1L799.5 1649.5L797.3 1641.9ZM1117.1 1616.9L1120.8 1618.4L1137.0 1620.7L1153.2 1621.5L1167.0 1616.9L1153.2 1610.7L1137.0 1609.3L1120.8 1609.3ZM1101.8 1606.0L1104.7 1608.6L1116.0 1606.0L1104.7 1602.2ZM1138.6 1595.2L1153.2 1602.5L1164.1 1595.2L1169.4 1593.1L1174.6 1595.2L1185.6 1602.5L1201.7 1604.0L1217.9 1601.0L1226.7 1595.2L1217.9 1589.3L1214.5 1584.3L1217.9 1576.0L1227.2 1584.3L1234.1 1588.9L1243.3 1584.3L1243.3 1573.4L1250.3 1566.4L1254.1 1562.6L1261.6 1551.7L1250.3 1549.1L1244.6 1551.7L1234.1 1558.7L1228.8 1551.7L1234.1 1544.6L1237.9 1540.8L1245.4 1529.9L1239.8 1519.1L1234.1 1516.5L1230.3 1519.1L1230.3 1529.9L1228.4 1540.8L1217.9 1544.3L1201.7 1543.6L1185.6 1545.1L1169.4 1547.9L1165.2 1540.8L1169.4 1537.3L1185.6 1531.5L1196.9 1529.9L1201.7 1528.9L1210.5 1519.1L1212.7 1508.2L1201.7 1498.4L1185.6 1506.3L1179.9 1508.2L1185.6 1515.8L1187.2 1519.1L1185.6 1522.3L1169.4 1522.6L1162.4 1519.1L1153.2 1516.0L1147.7 1519.1L1153.2 1528.3L1154.8 1529.9L1153.2 1530.8L1145.7 1540.8L1137.0 1547.5L1120.8 1547.9L1104.7 1549.1L1100.9 1551.7L1104.7 1555.5L1120.8 1555.5L1126.1 1562.6L1120.8 1564.9L1104.7 1569.6L1099.0 1573.4L1088.5 1580.5L1085.7 1584.3L1088.5 1588.1L1104.7 1588.1L1110.3 1584.3L1120.8 1581.9L1131.4 1584.3L1137.0 1591.9ZM906.7 1584.3L910.5 1586.2L912.8 1584.3L910.5 1581.8ZM506.7 1573.4L522.2 1581.5L538.4 1577.1L554.6 1580.1L566.5 1573.4L570.7 1570.6L582.7 1562.6L586.9 1555.5L589.7 1551.7L589.7 1540.8L592.6 1529.9L586.9 1526.1L570.7 1519.7L569.5 1519.1L554.6 1509.0L552.9 1508.2L543.9 1497.3L547.5 1486.5L538.4 1481.8L522.2 1479.1L511.3 1486.5L522.2 1492.3L531.5 1497.3L523.8 1508.2L522.2 1508.9L517.3 1508.2L506.0 1500.6L489.8 1500.6L484.2 1508.2L489.8 1512.0L495.1 1519.1L489.8 1520.1L477.8 1529.9L473.7 1536.6L464.9 1540.8L469.1 1551.7L469.9 1562.6L473.7 1566.4L489.8 1571.8L506.0 1572.8ZM1185.6 1580.0L1177.7 1573.4L1179.6 1562.6L1185.6 1559.0L1198.9 1562.6L1201.7 1566.4L1213.1 1562.6L1217.9 1561.5L1222.8 1562.6L1217.9 1565.8L1212.3 1573.4L1201.7 1574.8ZM1260.8 1573.4L1266.5 1575.3L1277.8 1573.4L1266.5 1570.9ZM1278.9 1562.6L1282.6 1570.2L1285.5 1562.6L1282.6 1560.0ZM554.6 1552.2L554.1 1551.7L554.6 1548.4L557.0 1551.7ZM1292.0 1551.7L1298.8 1555.4L1305.7 1551.7L1308.0 1540.8L1302.6 1529.9L1298.8 1527.4L1293.2 1529.9L1293.3 1540.8ZM825.8 1519.1L829.6 1522.9L831.9 1519.1L829.6 1517.5ZM1093.3 1519.1L1104.7 1522.9L1116.0 1519.1L1104.7 1517.5ZM575.6 1508.2L586.9 1512.0L592.6 1508.2L586.9 1506.3ZM915.4 1508.2L926.7 1512.0L930.5 1508.2L926.7 1505.7ZM1149.4 1497.3L1153.2 1498.9L1158.9 1497.3L1153.2 1495.4ZM1222.8 1497.3L1234.1 1499.9L1250.3 1499.2L1253.1 1497.3L1250.3 1494.8L1234.1 1494.8ZM640.3 1486.5L651.6 1490.3L663.0 1486.5L667.8 1485.6L684.0 1485.6L700.2 1483.6L710.7 1486.5L716.4 1489.0L732.5 1488.4L743.9 1486.5L748.7 1485.4L764.9 1484.8L778.6 1475.6L781.1 1474.9L797.3 1474.9L798.5 1475.6L810.6 1486.5L813.4 1489.0L829.6 1488.0L835.3 1486.5L829.6 1478.9L828.4 1475.6L829.6 1472.3L845.8 1469.3L852.7 1464.7L854.5 1453.9L845.8 1449.0L835.1 1443.0L842.3 1432.1L845.8 1428.6L850.0 1432.1L859.1 1443.0L862.0 1445.5L878.2 1445.5L881.9 1443.0L883.7 1432.1L893.1 1421.2L878.2 1411.2L863.2 1421.2L862.0 1422.1L860.4 1421.2L855.0 1410.4L862.0 1405.7L878.2 1408.7L887.3 1399.5L894.3 1392.4L910.5 1394.8L917.4 1388.6L910.5 1384.0L894.3 1381.0L891.9 1377.8L883.8 1366.9L878.2 1364.4L872.5 1366.9L862.0 1374.0L845.8 1368.0L840.9 1366.9L829.6 1363.1L826.8 1366.9L829.6 1370.7L834.9 1377.8L829.6 1381.3L822.6 1377.8L813.4 1374.1L797.3 1367.5L781.1 1371.6L769.5 1366.9L764.9 1357.7L751.1 1366.9L748.7 1367.5L746.3 1366.9L732.5 1360.7L718.8 1366.9L716.4 1370.2L700.2 1372.9L686.8 1366.9L684.0 1365.0L681.2 1366.9L668.8 1377.8L667.8 1378.8L653.3 1388.6L667.8 1398.4L668.6 1399.5L667.8 1400.3L655.8 1410.4L651.6 1411.7L644.6 1410.4L642.3 1399.5L635.5 1396.4L630.0 1399.5L630.0 1410.4L619.3 1417.5L605.5 1421.2L619.3 1427.4L621.0 1432.1L619.3 1434.5L606.6 1443.0L603.1 1445.8L586.9 1452.3L570.7 1451.9L567.0 1453.9L570.7 1455.8L584.1 1464.7L586.9 1468.5L603.1 1472.3L606.9 1464.7L619.3 1459.7L635.5 1463.6L636.7 1464.7L637.1 1475.6ZM1134.2 1486.5L1137.0 1489.0L1139.9 1486.5L1137.0 1483.9ZM1012.4 1475.6L1023.8 1477.1L1029.4 1475.6L1023.8 1471.8ZM732.5 1468.3L728.3 1464.7L732.5 1463.1L735.5 1464.7ZM874.4 1464.7L878.2 1467.3L894.3 1468.5L900.0 1464.7L894.3 1462.2L878.2 1462.2ZM921.0 1464.7L926.7 1466.0L938.0 1464.7L926.7 1462.8ZM1030.8 1464.7L1040.0 1470.9L1053.7 1464.7L1046.8 1453.9L1056.1 1447.6L1072.3 1449.1L1088.5 1450.3L1104.7 1447.6L1118.4 1443.0L1120.8 1441.3L1127.7 1432.1L1120.8 1427.5L1118.0 1421.2L1120.8 1415.0L1130.0 1410.4L1137.0 1407.5L1144.0 1410.4L1153.2 1415.0L1160.1 1410.4L1162.4 1399.5L1153.2 1394.9L1147.9 1388.6L1153.2 1385.1L1169.4 1379.7L1178.3 1388.6L1176.4 1399.5L1185.6 1405.7L1192.4 1399.5L1201.7 1391.2L1207.4 1388.6L1212.7 1377.8L1217.9 1374.2L1228.4 1377.8L1234.1 1385.4L1250.3 1380.3L1254.1 1377.8L1266.5 1369.4L1272.1 1366.9L1282.6 1359.8L1298.8 1363.6L1304.5 1356.0L1298.8 1354.8L1282.6 1352.2L1277.4 1345.2L1275.6 1334.3L1266.5 1325.0L1250.3 1325.0L1249.1 1323.4L1250.3 1320.1L1253.1 1312.5L1250.3 1308.7L1234.1 1303.3L1229.3 1301.7L1217.9 1299.1L1212.3 1301.7L1201.7 1305.2L1187.2 1312.5L1190.4 1323.4L1185.6 1324.2L1169.4 1324.5L1167.0 1323.4L1167.0 1312.5L1153.2 1307.9L1137.0 1311.3L1125.7 1312.5L1137.0 1315.1L1146.3 1323.4L1153.2 1332.6L1154.8 1334.3L1163.7 1345.2L1153.2 1352.2L1150.4 1356.0L1137.0 1363.2L1120.8 1359.1L1114.6 1356.0L1120.8 1351.9L1135.8 1345.2L1134.6 1334.3L1120.8 1325.0L1116.0 1323.4L1104.7 1320.9L1100.9 1323.4L1088.5 1325.9L1081.0 1323.4L1088.5 1315.1L1092.3 1312.5L1088.5 1310.0L1081.0 1301.7L1088.5 1298.9L1097.8 1301.7L1104.7 1306.3L1110.2 1301.7L1113.4 1290.8L1104.7 1283.5L1088.5 1281.7L1072.3 1281.0L1069.9 1279.9L1056.1 1275.3L1042.4 1279.9L1041.6 1290.8L1045.2 1301.7L1040.0 1303.7L1032.9 1301.7L1023.8 1295.5L1016.9 1301.7L1023.8 1310.9L1024.6 1312.5L1024.7 1323.4L1028.6 1334.3L1031.2 1345.2L1031.2 1356.0L1023.8 1364.4L1007.6 1363.8L993.8 1366.9L991.4 1368.5L990.2 1366.9L986.6 1356.0L975.2 1348.4L959.1 1348.4L953.4 1356.0L959.1 1359.8L963.3 1366.9L959.1 1371.6L945.3 1377.8L959.1 1383.9L972.8 1377.8L975.2 1376.9L977.7 1377.8L991.4 1387.0L992.0 1388.6L996.1 1399.5L991.4 1403.7L975.2 1404.2L966.1 1410.4L959.1 1417.4L956.2 1421.2L959.1 1423.8L968.4 1432.1L975.2 1441.3L991.4 1442.5L1006.9 1432.1L1007.6 1431.7L1008.4 1432.1L1023.8 1442.4L1025.4 1443.0L1034.4 1453.9ZM651.6 1454.7L650.0 1453.9L651.6 1453.4L653.3 1453.9ZM684.0 1458.9L676.6 1453.9L684.0 1452.3L690.2 1453.8ZM933.7 1443.0L942.9 1449.1L956.6 1443.0L942.9 1436.8ZM921.0 1432.1L926.7 1435.9L932.4 1432.1L926.7 1429.6ZM1149.4 1432.1L1153.2 1435.9L1156.0 1432.1L1153.2 1429.6ZM667.8 1427.2L663.7 1421.2L667.8 1416.1L673.7 1421.2ZM829.6 1421.9L828.0 1421.2L829.6 1420.6L831.2 1421.2ZM878.2 1390.3L873.3 1388.6L878.2 1387.0L883.0 1388.6ZM1088.5 1388.9L1088.1 1388.6L1088.5 1388.1L1089.7 1388.6ZM1120.8 1379.0L1115.6 1377.8L1120.8 1375.7L1127.9 1377.8ZM1088.5 1370.0L1081.0 1366.9L1088.5 1358.6L1097.8 1366.9ZM1185.6 1375.9L1172.2 1366.9L1185.6 1357.9L1188.4 1356.0L1201.7 1353.3L1212.4 1356.0L1201.7 1362.0L1194.5 1366.9ZM1234.1 1370.2L1232.5 1366.9L1227.1 1356.0L1217.9 1352.3L1213.8 1345.2L1201.7 1335.6L1197.5 1334.3L1201.7 1327.2L1213.1 1323.4L1212.7 1312.5L1217.9 1305.5L1224.9 1312.5L1219.1 1323.4L1221.4 1334.3L1228.6 1345.2L1234.1 1351.3L1239.4 1356.0L1239.0 1366.9ZM794.4 1356.0L797.3 1363.6L813.4 1359.7L822.6 1356.0L813.4 1349.9L797.3 1353.5ZM859.1 1356.0L862.0 1359.8L865.7 1356.0L862.0 1352.2ZM1336.0 1356.0L1347.4 1358.6L1353.0 1356.0L1347.4 1353.5ZM1056.1 1347.5L1050.9 1345.2L1056.1 1338.1L1060.3 1345.2ZM1313.1 1345.2L1315.0 1349.0L1317.8 1345.2L1315.0 1337.5ZM980.5 1334.3L991.4 1344.1L1007.6 1338.0L1021.3 1334.3L1007.6 1325.0L1002.7 1323.4L991.4 1319.6L980.1 1323.4ZM1104.7 1337.5L1104.1 1334.3L1104.7 1331.0L1107.1 1334.3ZM1056.1 1326.7L1055.2 1323.4L1056.1 1323.0L1057.7 1323.4ZM1001.9 1312.5L1007.6 1320.1L1018.9 1312.5L1007.6 1310.0ZM1133.3 1290.8L1137.0 1292.1L1139.3 1290.8L1137.0 1288.3ZM1068.5 1269.1L1072.3 1276.7L1078.0 1269.1L1077.8 1258.2L1072.3 1252.0L1056.1 1253.6L1049.3 1258.2L1056.1 1262.8Z"/>
<path fill="none" stroke="#6d6d6d" stroke-width="6.2" stroke-linejoin="round" stroke-linecap="round" d="M1006.8 1910.4L1007.6 1910.7L1008.2 1910.4L1007.6 1909.3ZM1065.8 1910.4L1072.3 1915.4L1079.7 1910.4L1088.5 1903.5L1104.7 1904.3L1120.8 1904.3L1128.0 1899.5L1120.8 1893.5L1104.7 1889.9L1103.1 1888.7L1094.5 1877.8L1101.0 1866.9L1104.7 1862.0L1109.5 1866.9L1120.5 1877.8L1120.8 1878.9L1135.4 1888.7L1137.0 1889.4L1138.1 1888.7L1153.2 1881.0L1162.9 1877.8L1153.2 1875.9L1137.6 1866.9L1140.3 1856.0L1137.0 1854.4L1120.8 1851.7L1111.1 1845.2L1104.7 1838.2L1088.5 1841.2L1080.8 1834.3L1072.3 1828.6L1061.0 1834.3L1056.1 1840.8L1052.5 1834.3L1043.8 1823.4L1040.0 1821.3L1023.8 1820.8L1010.0 1812.6L1007.6 1810.7L1001.1 1812.6L991.4 1822.3L981.7 1812.6L991.4 1806.0L994.2 1801.7L991.4 1795.2L988.2 1790.8L975.2 1787.0L959.1 1780.9L954.7 1780.0L942.9 1776.0L926.7 1773.4L910.5 1772.8L894.3 1771.3L887.9 1769.1L878.2 1764.7L868.4 1769.1L878.2 1775.6L881.4 1780.0L878.2 1782.8L866.3 1790.8L867.6 1801.7L862.0 1806.0L855.5 1801.7L845.8 1797.5L838.5 1790.8L842.6 1780.0L829.6 1775.6L813.4 1774.3L797.3 1774.2L789.7 1769.1L781.1 1760.4L773.7 1769.1L764.9 1776.0L753.0 1780.0L748.7 1781.0L732.5 1781.9L722.8 1780.0L716.4 1775.6L700.2 1777.6L693.1 1780.0L691.8 1790.8L694.4 1801.7L695.0 1812.6L696.9 1823.4L684.0 1827.8L679.1 1834.3L684.0 1838.6L700.2 1837.3L716.4 1838.6L723.6 1845.2L723.6 1856.0L732.5 1859.0L737.0 1856.0L748.7 1850.3L760.4 1856.0L764.9 1860.8L773.8 1856.0L776.8 1845.2L781.1 1844.4L783.2 1845.2L784.7 1856.0L797.3 1863.5L813.4 1856.4L815.1 1856.0L829.6 1849.5L836.1 1845.2L834.1 1834.3L845.8 1827.3L862.0 1832.1L866.8 1834.3L862.0 1840.8L855.5 1845.2L845.8 1850.1L836.9 1856.0L845.8 1864.0L850.1 1866.9L862.0 1869.6L873.8 1866.9L868.4 1856.0L878.2 1849.5L885.4 1856.0L894.3 1864.0L898.6 1866.9L910.5 1872.9L926.7 1872.7L942.9 1872.9L959.1 1871.5L975.2 1870.2L991.4 1870.9L998.2 1877.8L991.4 1884.7L986.3 1888.7L991.4 1892.1L1007.6 1897.1L1023.8 1896.3L1040.0 1895.5L1056.1 1897.8L1072.3 1898.4L1076.6 1899.5L1072.3 1901.7ZM1152.1 1910.4L1153.2 1910.7L1153.7 1910.4L1153.2 1910.1ZM796.6 1877.8L797.3 1878.2L798.3 1877.8L797.3 1877.1ZM1168.8 1866.9L1169.4 1869.1L1172.6 1866.9L1169.4 1865.8ZM1216.8 1866.9L1217.9 1867.6L1234.1 1868.0L1234.6 1866.9L1234.1 1866.2L1217.9 1865.8ZM910.5 1858.9L906.2 1856.0L907.9 1845.2L910.5 1843.0L912.7 1845.2L926.7 1851.5L931.1 1856.0L926.7 1861.9ZM1007.6 1861.9L998.8 1856.0L1007.6 1847.8L1023.8 1850.0L1030.9 1845.2L1040.0 1841.8L1051.3 1845.2L1040.0 1852.8L1035.1 1856.0L1023.8 1860.4ZM1285.9 1856.0L1298.8 1864.7L1315.0 1858.2L1316.1 1856.0L1331.2 1851.0L1340.2 1856.0L1347.4 1859.5L1363.5 1860.4L1379.7 1856.5L1395.9 1861.7L1405.6 1856.0L1396.7 1845.2L1412.1 1834.8L1418.9 1845.2L1428.3 1852.2L1444.4 1853.6L1460.6 1847.3L1467.1 1845.2L1473.2 1834.3L1460.6 1825.9L1444.4 1831.0L1434.7 1834.3L1428.3 1835.7L1415.3 1834.3L1412.1 1833.2L1395.9 1825.2L1393.3 1823.4L1395.9 1820.5L1412.1 1813.6L1412.6 1812.6L1412.1 1811.5L1395.9 1807.8L1390.8 1812.6L1379.7 1818.4L1363.5 1813.4L1349.8 1823.4L1363.5 1832.0L1379.7 1832.6L1382.3 1834.3L1379.7 1835.2L1363.5 1838.1L1347.4 1837.1L1331.2 1836.5L1328.6 1834.3L1315.0 1827.8L1299.9 1823.4L1298.8 1822.9L1298.0 1823.4L1287.8 1834.3L1282.6 1837.1L1267.3 1834.3L1266.5 1833.6L1263.2 1834.3L1266.5 1834.7L1271.3 1845.2L1282.6 1855.3ZM1179.1 1845.2L1185.6 1847.3L1195.3 1845.2L1185.6 1843.5ZM1521.5 1845.2L1525.3 1849.5L1531.8 1845.2L1527.0 1834.3L1525.3 1833.6L1509.2 1828.3L1502.0 1834.3L1509.2 1838.3ZM813.4 1838.6L805.9 1834.3L812.0 1823.4L813.4 1822.0L815.3 1823.4L822.5 1834.3ZM1023.8 1839.2L1017.9 1834.3L1023.8 1829.4L1027.4 1834.3ZM878.2 1826.7L874.9 1823.4L878.2 1818.5L884.0 1823.4ZM1426.6 1823.4L1428.3 1825.6L1429.3 1823.4L1428.3 1823.1ZM1488.1 1823.4L1493.0 1826.7L1499.5 1823.4L1493.0 1816.9ZM1604.6 1823.4L1606.2 1823.9L1606.9 1823.4L1606.2 1822.3L1601.4 1812.6L1606.2 1809.8L1614.7 1801.7L1622.4 1796.5L1638.6 1792.5L1645.1 1790.8L1649.7 1780.0L1638.6 1771.0L1635.4 1769.1L1632.1 1758.2L1622.4 1751.1L1606.2 1751.5L1595.1 1758.2L1590.1 1761.3L1575.5 1769.1L1573.9 1770.3L1567.4 1769.1L1557.7 1766.5L1554.9 1769.1L1541.5 1779.6L1538.3 1780.0L1541.1 1790.8L1525.3 1799.3L1516.4 1801.7L1516.7 1812.6L1525.3 1818.4L1535.7 1812.6L1541.5 1808.6L1546.4 1812.6L1557.7 1817.6L1573.9 1818.5L1590.1 1820.2ZM667.5 1812.6L667.8 1814.7L668.3 1812.6L667.8 1811.8ZM942.9 1802.9L941.4 1801.7L942.9 1798.8L959.1 1800.7L960.5 1801.7L959.1 1802.9ZM1330.6 1801.7L1331.2 1802.1L1331.6 1801.7L1331.2 1799.5ZM651.2 1790.8L651.6 1791.1L652.7 1790.8L654.9 1780.0L651.6 1778.3L647.8 1780.0ZM894.3 1792.1L890.0 1790.8L894.3 1788.6L898.6 1790.8ZM726.1 1769.1L732.5 1773.4L742.2 1769.1L732.5 1766.5ZM958.5 1747.3L959.1 1747.8L959.5 1747.3L959.1 1746.8ZM889.9 1725.6L894.3 1733.6L901.5 1725.6L906.2 1714.7L910.5 1706.0L912.1 1703.9L926.7 1699.0L930.9 1703.9L942.1 1714.7L942.9 1715.2L943.5 1714.7L959.1 1706.0L961.2 1703.9L975.2 1696.2L991.4 1702.8L994.6 1703.9L1000.8 1714.7L1007.6 1722.3L1023.8 1715.1L1024.3 1714.7L1035.8 1703.9L1040.0 1699.0L1056.1 1697.8L1072.3 1693.4L1073.4 1693.0L1072.3 1692.7L1056.1 1688.2L1052.0 1682.1L1056.1 1672.0L1057.2 1671.2L1056.1 1669.1L1052.9 1660.4L1049.7 1649.5L1040.0 1643.0L1023.8 1645.2L1019.9 1649.5L1007.6 1652.3L1002.9 1649.5L1001.1 1638.6L1007.6 1628.5L1008.7 1627.8L1007.6 1627.5L991.4 1625.9L975.8 1616.9L975.7 1606.0L975.2 1605.3L974.6 1606.0L974.7 1616.9L959.1 1622.6L949.7 1616.9L942.9 1607.8L926.7 1610.9L910.5 1612.9L894.3 1612.9L878.2 1613.4L862.0 1614.7L861.2 1616.9L862.0 1617.6L871.0 1627.8L862.0 1631.6L845.8 1632.7L836.9 1638.6L845.8 1641.3L858.0 1649.5L848.6 1660.4L845.8 1670.5L845.0 1671.2L845.8 1672.3L850.6 1682.1L860.4 1693.0L862.0 1693.3L863.6 1693.0L878.2 1689.7L882.3 1693.0L894.3 1702.4L907.3 1703.9L894.3 1706.8L889.2 1714.7ZM823.7 1606.0L829.6 1610.0L838.5 1606.0L840.9 1595.2L829.6 1590.6L819.9 1595.2ZM1195.3 1595.2L1201.7 1597.0L1208.2 1595.2L1207.9 1584.3L1201.7 1579.7L1185.6 1584.1L1172.8 1573.4L1171.5 1562.6L1169.4 1559.9L1164.5 1562.6L1153.2 1568.6L1144.3 1573.4L1153.2 1579.4L1162.9 1584.3L1169.4 1586.2L1185.6 1585.4ZM517.1 1573.4L522.2 1576.1L529.3 1573.4L538.4 1567.3L554.6 1569.1L564.3 1562.6L554.6 1560.4L547.5 1551.7L539.2 1540.8L554.6 1533.9L570.7 1530.5L571.5 1529.9L570.7 1529.5L554.6 1522.0L550.2 1519.1L538.4 1513.1L522.2 1518.6L520.6 1519.1L506.0 1520.5L489.8 1523.6L482.0 1529.9L488.2 1540.8L489.8 1541.5L496.3 1551.7L504.9 1562.6L506.0 1563.0ZM1120.0 1573.4L1120.8 1573.8L1122.5 1573.4L1120.8 1573.1ZM1146.7 1551.7L1153.2 1554.9L1157.1 1551.7L1153.2 1545.2ZM1179.6 1551.7L1185.6 1554.1L1197.4 1551.7L1185.6 1549.5ZM698.6 1464.7L700.2 1466.9L703.4 1464.7L716.4 1463.6L732.5 1457.7L745.9 1464.7L748.7 1469.1L764.9 1469.5L781.1 1465.2L797.3 1465.2L798.3 1464.7L797.3 1464.0L781.1 1464.0L772.0 1453.9L781.1 1451.3L797.3 1447.8L806.2 1443.0L803.2 1432.1L797.3 1428.1L789.6 1421.2L797.3 1414.4L813.4 1414.7L829.6 1410.8L830.7 1410.4L840.8 1399.5L829.6 1391.1L813.4 1393.5L809.3 1388.6L798.3 1377.8L797.3 1377.3L781.1 1376.5L764.9 1373.0L748.7 1377.3L732.5 1374.5L728.7 1377.8L716.4 1388.1L700.2 1379.7L685.6 1377.8L684.0 1377.2L683.3 1377.8L671.5 1388.6L680.8 1399.5L669.7 1410.4L681.8 1421.2L673.6 1432.1L670.5 1443.0L684.0 1449.2L698.9 1443.0L700.2 1440.8L703.4 1443.0L701.8 1453.9L700.2 1462.5ZM618.7 1443.0L619.3 1444.1L635.5 1451.1L651.6 1447.3L662.0 1443.0L663.0 1432.1L658.1 1421.2L651.6 1416.1L635.5 1418.0L630.6 1421.2L627.1 1432.1L619.3 1442.6ZM828.8 1432.1L829.6 1432.8L830.2 1432.1L829.6 1431.7ZM984.3 1432.1L991.4 1435.5L996.5 1432.1L1007.6 1426.3L1020.5 1432.1L1023.8 1434.3L1040.0 1438.1L1056.1 1435.4L1065.8 1432.1L1072.3 1427.8L1088.5 1431.2L1095.0 1432.1L1104.7 1435.4L1109.5 1432.1L1112.4 1421.2L1104.7 1411.6L1103.2 1410.4L1104.7 1408.2L1120.8 1407.0L1135.2 1399.5L1137.0 1390.8L1137.5 1388.6L1137.0 1387.9L1120.8 1383.5L1106.8 1388.6L1104.7 1390.8L1088.5 1393.0L1082.0 1388.6L1088.5 1379.9L1095.0 1377.8L1088.5 1376.1L1072.3 1369.7L1062.6 1366.9L1056.9 1356.0L1056.1 1355.7L1054.5 1356.0L1040.0 1362.5L1036.1 1366.9L1040.0 1371.2L1056.1 1370.2L1061.8 1377.8L1056.1 1387.9L1040.0 1381.0L1023.8 1380.5L1012.4 1377.8L1007.6 1374.5L1002.7 1377.8L1001.1 1388.6L1005.2 1399.5L995.7 1410.4L994.0 1421.2L991.4 1424.1ZM974.4 1421.2L975.2 1422.0L978.5 1421.2L975.2 1420.5ZM1072.3 1418.0L1065.8 1410.4L1072.3 1408.5L1076.4 1410.4ZM732.5 1401.7L728.0 1399.5L732.5 1393.4L748.7 1397.3L752.0 1399.5L748.7 1401.7ZM1023.8 1406.0L1014.1 1399.5L1023.8 1397.5L1025.7 1399.5ZM764.9 1392.5L759.1 1388.6L764.9 1383.7L781.1 1381.0L786.7 1388.6L781.1 1393.7ZM1152.1 1377.8L1153.2 1378.1L1154.0 1377.8L1153.2 1375.6ZM1116.0 1366.9L1120.8 1368.8L1125.7 1366.9L1120.8 1365.3ZM1187.7 1345.2L1201.7 1349.5L1208.2 1345.2L1201.7 1340.0ZM1068.4 1334.3L1072.3 1340.8L1088.5 1340.1L1095.0 1334.3L1088.5 1330.8L1072.3 1329.9ZM1233.6 1334.3L1234.1 1335.0L1235.2 1334.3L1234.1 1332.1ZM1039.3 1323.4L1040.0 1324.0L1040.6 1323.4L1056.1 1316.9L1072.3 1318.5L1078.2 1312.5L1072.3 1306.6L1056.1 1305.6L1040.0 1310.7L1036.7 1312.5ZM1079.6 1290.8L1088.5 1293.5L1097.4 1290.8L1088.5 1287.8Z"/>
<path fill="none" stroke="#929292" stroke-width="6.2" stroke-linejoin="round" stroke-linecap="round" d="M1098.2 1899.5L1104.7 1900.8L1111.1 1899.5L1104.7 1897.0ZM1001.1 1888.7L1007.6 1890.8L1020.5 1888.7L1023.8 1887.6L1025.4 1888.7L1040.0 1891.7L1054.5 1888.7L1056.1 1888.2L1058.3 1888.7L1072.3 1892.2L1088.5 1894.3L1093.7 1888.7L1089.2 1877.8L1091.7 1866.9L1099.1 1856.0L1088.5 1848.9L1072.3 1850.2L1065.8 1856.0L1072.3 1859.5L1083.3 1866.9L1072.3 1871.5L1058.6 1866.9L1056.1 1864.7L1040.0 1862.2L1025.9 1866.9L1023.8 1868.0L1007.6 1874.5L1006.5 1877.8ZM932.4 1866.9L942.9 1869.1L956.9 1866.9L954.2 1856.0L949.3 1845.2L959.1 1841.4L972.0 1845.2L975.2 1846.8L980.1 1845.2L975.2 1838.6L973.9 1834.3L972.7 1823.4L964.2 1812.6L959.1 1810.1L942.9 1810.1L933.2 1801.7L939.3 1790.8L926.7 1780.4L924.5 1780.0L910.5 1777.4L900.0 1780.0L910.5 1785.6L914.0 1790.8L910.5 1794.5L894.3 1799.2L878.2 1799.5L876.9 1801.7L878.2 1803.9L894.3 1806.0L910.5 1811.7L917.0 1812.6L926.7 1813.9L940.9 1823.4L926.7 1827.8L913.3 1834.3L925.1 1845.2L926.7 1845.9L936.4 1856.0ZM794.0 1856.0L797.3 1858.0L801.6 1856.0L807.0 1845.2L797.3 1841.9L794.4 1834.3L797.3 1831.3L803.7 1823.4L813.4 1813.6L825.9 1823.4L829.6 1827.8L838.2 1823.4L833.9 1812.6L842.6 1801.7L833.5 1790.8L829.6 1783.0L818.3 1780.0L813.4 1779.3L808.6 1780.0L813.4 1786.5L815.1 1790.8L821.0 1801.7L813.4 1809.3L807.8 1801.7L797.3 1792.3L795.6 1790.8L785.9 1780.0L781.1 1776.7L777.8 1780.0L764.9 1784.3L748.7 1787.3L732.5 1786.9L722.8 1790.8L716.4 1797.3L707.7 1801.7L716.4 1804.6L732.5 1806.4L743.5 1812.6L748.7 1816.9L752.6 1823.4L751.3 1834.3L748.7 1843.0L745.5 1845.2L748.7 1845.8L752.0 1845.2L764.9 1843.4L781.1 1840.3L795.6 1845.2ZM1276.0 1845.2L1282.6 1851.1L1298.8 1852.2L1315.0 1846.5L1319.9 1845.2L1315.0 1838.6L1313.4 1834.3L1298.8 1829.4L1294.0 1834.3L1282.6 1840.4ZM1335.7 1845.2L1347.4 1851.7L1363.5 1848.4L1379.7 1850.7L1388.0 1845.2L1379.7 1840.2L1363.5 1844.4L1347.4 1841.6ZM1427.2 1845.2L1428.3 1846.0L1444.4 1847.3L1449.6 1845.2L1444.4 1841.7L1428.3 1844.1ZM727.4 1834.3L732.5 1838.6L739.0 1834.3L732.5 1830.0ZM1036.7 1834.3L1040.0 1836.2L1043.2 1834.3L1040.0 1830.8ZM1455.4 1834.3L1460.6 1837.8L1463.9 1834.3L1460.6 1832.1ZM712.0 1823.4L716.4 1826.9L722.8 1823.4L716.4 1820.5ZM851.5 1823.4L862.0 1826.6L866.6 1823.4L862.0 1814.0ZM1356.0 1823.4L1363.5 1828.1L1378.6 1823.4L1363.5 1817.9ZM968.8 1801.7L975.2 1807.3L983.6 1801.7L975.2 1793.9L970.7 1790.8L959.1 1786.5L949.3 1790.8L959.1 1795.2ZM1563.4 1801.7L1573.9 1807.3L1590.1 1808.2L1606.2 1802.6L1607.2 1801.7L1606.2 1799.5L1598.5 1790.8L1605.2 1780.0L1606.2 1775.6L1608.4 1780.0L1619.2 1790.8L1622.4 1791.5L1624.8 1790.8L1638.6 1785.5L1643.5 1779.9L1638.6 1776.0L1627.1 1769.1L1625.9 1758.2L1622.4 1755.6L1606.2 1756.5L1603.4 1758.2L1590.1 1766.3L1584.8 1769.1L1573.9 1777.5L1567.4 1780.0L1566.9 1790.8ZM699.2 1790.8L700.2 1794.1L703.4 1790.8L700.2 1788.6ZM941.5 1703.9L942.9 1705.2L945.3 1703.9L944.8 1693.0L959.1 1689.8L975.2 1691.7L980.9 1693.0L991.4 1696.5L1007.6 1701.3L1018.9 1703.9L1023.8 1705.2L1025.2 1703.9L1023.8 1697.3L1022.5 1693.0L1023.8 1692.4L1040.0 1688.6L1045.2 1682.1L1040.0 1674.3L1038.5 1671.2L1032.4 1660.4L1023.8 1656.9L1007.6 1655.6L997.1 1649.5L991.4 1639.5L990.7 1638.6L975.2 1631.4L961.0 1627.8L959.1 1627.2L949.3 1627.8L942.9 1628.2L941.6 1627.8L926.7 1620.6L910.5 1619.8L899.8 1627.8L894.3 1637.0L884.6 1638.6L878.2 1639.3L871.7 1638.6L862.0 1637.8L858.7 1638.6L862.0 1640.8L866.3 1649.5L862.0 1651.9L853.3 1660.4L854.7 1671.2L862.0 1681.0L878.2 1681.0L881.4 1682.1L892.9 1693.0L894.3 1694.1L899.2 1693.0L907.3 1682.1L910.5 1681.4L913.7 1682.1L926.7 1686.5L939.6 1693.0ZM1007.6 1687.4L1000.5 1682.1L1007.6 1677.3L1013.5 1682.1ZM513.9 1562.6L522.2 1569.7L532.8 1562.6L538.4 1556.0L540.7 1551.7L538.4 1548.8L526.5 1540.8L534.6 1529.9L522.2 1524.4L506.0 1524.0L489.8 1527.1L486.4 1529.9L489.8 1534.8L504.1 1540.8L506.0 1547.3L506.9 1551.7ZM711.1 1453.9L716.4 1457.4L726.9 1453.9L716.4 1446.8ZM737.1 1453.9L748.7 1459.4L758.4 1453.9L764.9 1451.0L781.1 1447.1L791.7 1443.0L784.3 1432.1L781.1 1425.6L780.3 1421.2L777.3 1410.4L764.9 1402.0L752.5 1410.4L748.7 1412.5L745.9 1410.4L732.5 1405.2L720.6 1399.5L716.4 1395.5L709.3 1399.5L700.2 1408.7L684.0 1406.9L680.3 1410.4L684.0 1413.8L693.2 1421.2L700.2 1428.3L716.4 1431.6L717.4 1432.1L732.5 1438.9L736.8 1443.0ZM633.5 1443.0L635.5 1443.9L640.3 1443.0L648.4 1432.1L635.5 1428.6L633.3 1432.1ZM677.2 1443.0L684.0 1446.1L691.4 1443.0L684.0 1434.6ZM764.9 1432.7L763.6 1432.1L764.9 1431.6L771.4 1432.1ZM649.2 1421.2L651.6 1427.8L652.4 1421.2L651.6 1420.6ZM1033.9 1421.2L1040.0 1426.9L1056.1 1429.5L1068.4 1421.2L1056.1 1410.8L1054.5 1410.4L1056.1 1410.0L1072.3 1405.3L1083.2 1410.4L1079.2 1421.2L1088.5 1426.2L1104.7 1424.7L1106.7 1421.2L1104.7 1418.8L1095.0 1410.4L1099.0 1399.5L1088.5 1397.1L1075.8 1388.6L1074.7 1377.8L1072.3 1376.8L1071.1 1377.8L1066.3 1388.6L1056.1 1391.8L1040.0 1389.1L1038.3 1388.6L1023.8 1385.1L1012.1 1388.6L1023.8 1392.5L1030.7 1399.5L1031.6 1410.4ZM792.4 1399.5L797.3 1401.7L800.5 1399.5L798.6 1388.6L797.3 1387.3L796.0 1388.6ZM823.1 1399.5L829.6 1402.4L832.5 1399.5L829.6 1397.3ZM1112.2 1399.5L1120.8 1401.4L1124.5 1399.5L1122.8 1388.6L1120.8 1388.0L1119.2 1388.6ZM680.8 1388.6L684.0 1392.1L700.2 1394.2L707.5 1388.6L700.2 1384.7L684.0 1385.7ZM1200.1 1345.2L1201.7 1345.7L1202.5 1345.2L1201.7 1344.6Z"/>
<path fill="none" stroke="#b6b6b6" stroke-width="6.2" stroke-linejoin="round" stroke-linecap="round" d="M1025.2 1877.8L1040.0 1887.7L1056.1 1883.3L1072.3 1878.3L1072.7 1877.8L1072.3 1877.6L1056.1 1871.6L1040.0 1868.8ZM941.6 1856.0L942.9 1860.0L945.1 1856.0L942.9 1853.1ZM1088.0 1856.0L1088.5 1856.4L1088.7 1856.0L1088.5 1855.9ZM1280.5 1845.2L1282.6 1847.1L1291.1 1845.2L1282.6 1843.6ZM1379.3 1845.2L1379.7 1845.3L1379.9 1845.2L1379.7 1845.1ZM756.2 1834.3L764.9 1840.2L781.1 1836.2L785.3 1834.3L790.0 1823.4L797.3 1821.0L804.4 1812.6L797.3 1805.8L787.0 1801.7L781.1 1795.7L764.9 1794.1L748.7 1793.1L736.0 1801.7L748.7 1809.4L764.4 1812.6L759.9 1823.4ZM922.4 1834.3L926.7 1838.1L932.4 1834.3L926.7 1832.2ZM958.6 1834.3L959.1 1834.5L959.4 1834.3L964.6 1823.4L959.1 1817.8L951.9 1823.4ZM1362.1 1823.4L1363.5 1824.3L1366.5 1823.4L1363.5 1822.3ZM910.0 1801.7L910.5 1801.9L912.1 1801.7L910.5 1801.5ZM920.7 1790.8L926.7 1799.7L932.7 1790.8L926.7 1785.9ZM1585.6 1780.0L1590.1 1783.9L1593.0 1780.0L1590.1 1776.0ZM1006.8 1693.0L1007.6 1693.2L1007.9 1693.0L1007.6 1692.9ZM946.7 1682.1L959.1 1686.5L975.2 1687.6L991.4 1686.1L993.2 1682.1L1007.6 1672.4L1019.6 1682.1L1023.8 1686.3L1036.3 1682.1L1034.0 1671.2L1023.8 1662.8L1014.4 1660.4L1007.6 1658.9L1001.9 1660.4L991.4 1667.4L987.2 1660.4L991.4 1649.8L991.5 1649.5L991.4 1649.3L982.6 1638.6L975.2 1635.2L959.1 1631.0L942.9 1633.1L927.0 1627.8L926.7 1627.6L910.5 1625.2L907.1 1627.8L907.0 1638.6L894.3 1645.7L878.2 1646.2L874.4 1649.5L862.0 1656.3L857.8 1660.4L862.0 1669.3L878.2 1661.5L883.0 1671.2L894.3 1675.8L910.5 1673.2L915.0 1671.2L926.7 1667.7L942.9 1668.6L950.8 1671.2ZM522.0 1562.6L522.2 1562.7L522.4 1562.6L529.0 1551.7L522.2 1547.1L517.3 1551.7ZM493.5 1529.9L506.0 1534.8L522.2 1530.3L522.5 1529.9L522.2 1529.8L506.0 1527.5ZM683.8 1443.0L684.0 1443.0L684.2 1443.0L684.0 1442.8ZM742.4 1443.0L748.7 1452.2L764.9 1445.5L781.1 1443.1L781.3 1443.0L781.1 1442.7L764.9 1439.7L749.0 1432.1L764.9 1425.5L771.2 1421.2L765.2 1410.4L764.9 1410.2L764.6 1410.4L748.7 1419.5L745.2 1421.2L732.5 1429.7L729.6 1432.1L732.5 1433.4ZM706.3 1421.2L716.4 1425.5L723.5 1421.2L716.4 1415.6ZM1043.8 1421.2L1056.1 1426.0L1063.2 1421.2L1056.1 1415.2ZM1088.3 1421.2L1088.5 1421.3L1089.0 1421.2L1088.5 1420.2ZM725.7 1410.4L732.5 1414.2L736.8 1410.4L732.5 1408.7ZM1035.5 1399.5L1040.0 1408.4L1056.1 1405.5L1072.3 1402.3L1083.4 1399.5L1072.3 1392.1L1056.1 1395.1L1040.0 1394.5Z"/>
<path fill="none" stroke="#dbdbdb" stroke-width="6.2" stroke-linejoin="round" stroke-linecap="round" d="M1032.5 1877.8L1040.0 1882.8L1056.1 1878.4L1058.1 1877.8L1056.1 1877.1L1040.0 1873.2ZM761.0 1834.3L764.9 1836.9L774.6 1834.3L764.9 1826.5ZM744.0 1801.7L748.7 1804.5L757.1 1801.7L748.7 1798.5ZM955.8 1682.1L959.1 1683.3L975.2 1683.6L980.4 1682.1L981.7 1671.2L982.4 1660.4L981.2 1649.5L975.2 1640.1L973.9 1638.6L959.1 1634.8L942.9 1638.0L940.9 1638.6L927.8 1649.5L926.7 1651.7L910.5 1658.2L894.3 1653.9L887.1 1660.4L894.3 1666.9L910.5 1662.0L926.7 1662.3L942.9 1665.5L959.1 1669.8L962.3 1671.2L959.1 1673.4ZM1013.7 1671.3L1023.8 1679.9L1029.4 1671.2L1023.8 1666.6ZM748.0 1443.0L748.7 1444.1L752.0 1443.0L748.7 1441.7ZM1052.9 1421.2L1056.1 1422.5L1058.0 1421.2L1056.1 1419.7ZM1043.2 1399.5L1056.1 1401.1L1069.1 1399.5L1056.1 1398.3Z"/>
<path fill="none" stroke="#ffffff" stroke-width="6.2" stroke-linejoin="round" stroke-linecap="round" d="M1039.8 1877.8L1040.0 1877.9L1040.4 1877.8L1040.0 1877.7ZM1021.8 1671.2L1023.8 1673.0L1024.9 1671.2L1023.8 1670.3ZM934.5 1660.4L942.9 1662.5L952.9 1660.4L947.3 1649.5L942.9 1647.1L939.9 1649.5ZM966.7 1660.4L975.2 1664.9L977.5 1660.4L975.2 1654.7ZM958.6 1638.6L959.1 1639.0L959.4 1638.6L959.1 1638.6Z"/>
</g>
<defs><linearGradient id="cb" x1="0" y1="1" x2="0" y2="0"><stop offset="0" stop-color="#663399"/><stop offset="0.5" stop-color="#033d6f"/><stop offset="1" stop-color="#228b22"/></linearGradient></defs>
<rect x="2610.4" y="720.4" width="150" height="1440" fill="url(#cb)"/>
<path fill="none" stroke="#000" stroke-width="2.1" d="M360.4 600.4v-31.5M360.4 120.4v31.5M908.4 600.4v-31.5M908.4 120.4v31.5M1456.4 600.4v-31.5M1456.4 120.4v31.5M497.4 600.4v-16.5M497.4 120.4v16.5M634.4 600.4v-16.5M634.4 120.4v16.5M771.4 600.4v-16.5M771.4 120.4v16.5M1045.4 600.4v-16.5M1045.4 120.4v16.5M1182.4 600.4v-16.5M1182.4 120.4v16.5M1319.4 600.4v-16.5M1319.4 120.4v16.5M1593.4 600.4v-16.5M1593.4 120.4v16.5M1730.4 600.4v-16.5M1730.4 120.4v16.5M360.4 600.4h31.5M1800.4 600.4h-31.5M360.4 338.4h31.5M1800.4 338.4h-31.5M360.4 548.0h16.5M1800.4 548.0h-16.5M360.4 495.6h16.5M1800.4 495.6h-16.5M360.4 443.2h16.5M1800.4 443.2h-16.5M360.4 390.8h16.5M1800.4 390.8h-16.5M360.4 286.0h16.5M1800.4 286.0h-16.5M360.4 233.6h16.5M1800.4 233.6h-16.5M360.4 181.2h16.5M1800.4 181.2h-16.5M360.4 128.8h16.5M1800.4 128.8h-16.5M360.4 2160.4v-31.5M360.4 720.4v31.5M908.4 2160.4v-31.5M908.4 720.4v31.5M1456.4 2160.4v-31.5M1456.4 720.4v31.5M497.4 2160.4v-16.5M497.4 720.4v16.5M634.4 2160.4v-16.5M634.4 720.4v16.5M771.4 2160.4v-16.5M771.4 720.4v16.5M1045.4 2160.4v-16.5M1045.4 720.4v16.5M1182.4 2160.4v-16.5M1182.4 720.4v16.5M1319.4 2160.4v-16.5M1319.4 720.4v16.5M1593.4 2160.4v-16.5M1593.4 720.4v16.5M1730.4 2160.4v-16.5M1730.4 720.4v16.5M360.4 1940.4h31.5M1800.4 1940.4h-31.5M360.4 1690.4h31.5M1800.4 1690.4h-31.5M360.4 1440.4h31.5M1800.4 1440.4h-31.5M360.4 1190.4h31.5M1800.4 1190.4h-31.5M360.4 940.4h31.5M1800.4 940.4h-31.5M360.4 2140.4h16.5M1800.4 2140.4h-16.5M360.4 2090.4h16.5M1800.4 2090.4h-16.5M360.4 2040.4h16.5M1800.4 2040.4h-16.5M360.4 1990.4h16.5M1800.4 1990.4h-16.5M360.4 1890.4h16.5M1800.4 1890.4h-16.5M360.4 1840.4h16.5M1800.4 1840.4h-16.5M360.4 1790.4h16.5M1800.4 1790.4h-16.5M360.4 1740.4h16.5M1800.4 1740.4h-16.5M360.4 1640.4h16.5M1800.4 1640.4h-16.5M360.4 1590.4h16.5M1800.4 1590.4h-16.5M360.4 1540.4h16.5M1800.4 1540.4h-16.5M360.4 1490.4h16.5M1800.4 1490.4h-16.5M360.4 1390.4h16.5M1800.4 1390.4h-16.5M360.4 1340.4h16.5M1800.4 1340.4h-16.5M360.4 1290.4h16.5M1800.4 1290.4h-16.5M360.4 1240.4h16.5M1800.4 1240.4h-16.5M360.4 1140.4h16.5M1800.4 1140.4h-16.5M360.4 1090.4h16.5M1800.4 1090.4h-16.5M360.4 1040.4h16.5M1800.4 1040.4h-16.5M360.4 990.4h16.5M1800.4 990.4h-16.5M360.4 890.4h16.5M1800.4 890.4h-16.5M360.4 840.4h16.5M1800.4 840.4h-16.5M360.4 790.4h16.5M1800.4 790.4h-16.5M360.4 740.4h16.5M1800.4 740.4h-16.5M1920.4 2160.4v-31.5M1920.4 720.4v31.5M2475.6 2160.4v-31.5M2475.6 720.4v31.5M2031.4 2160.4v-16.5M2031.4 720.4v16.5M2142.5 2160.4v-16.5M2142.5 720.4v16.5M2253.5 2160.4v-16.5M2253.5 720.4v16.5M2364.6 2160.4v-16.5M2364.6 720.4v16.5M1920.4 1940.4h31.5M2490.4 1940.4h-31.5M1920.4 1690.4h31.5M2490.4 1690.4h-31.5M1920.4 1440.4h31.5M2490.4 1440.4h-31.5M1920.4 1190.4h31.5M2490.4 1190.4h-31.5M1920.4 940.4h31.5M2490.4 940.4h-31.5M1920.4 2140.4h16.5M2490.4 2140.4h-16.5M1920.4 2090.4h16.5M2490.4 2090.4h-16.5M1920.4 2040.4h16.5M2490.4 2040.4h-16.5M1920.4 1990.4h16.5M2490.4 1990.4h-16.5M1920.4 1890.4h16.5M2490.4 1890.4h-16.5M1920.4 1840.4h16.5M2490.4 1840.4h-16.5M1920.4 1790.4h16.5M2490.4 1790.4h-16.5M1920.4 1740.4h16.5M2490.4 1740.4h-16.5M1920.4 1640.4h16.5M2490.4 1640.4h-16.5M1920.4 1590.4h16.5M2490.4 1590.4h-16.5M1920.4 1540.4h16.5M2490.4 1540.4h-16.5M1920.4 1490.4h16.5M2490.4 1490.4h-16.5M1920.4 1390.4h16.5M2490.4 1390.4h-16.5M1920.4 1340.4h16.5M2490.4 1340.4h-16.5M1920.4 1290.4h16.5M2490.4 1290.4h-16.5M1920.4 1240.4h16.5M2490.4 1240.4h-16.5M1920.4 1140.4h16.5M2490.4 1140.4h-16.5M1920.4 1090.4h16.5M2490.4 1090.4h-16.5M1920.4 1040.4h16.5M2490.4 1040.4h-16.5M1920.4 990.4h16.5M2490.4 990.4h-16.5M1920.4 890.4h16.5M2490.4 890.4h-16.5M1920.4 840.4h16.5M2490.4 840.4h-16.5M1920.4 790.4h16.5M2490.4 790.4h-16.5M1920.4 740.4h16.5M2490.4 740.4h-16.5M2760.4 2160.4h-31.5M2760.4 2088.4h-16.5M2760.4 2016.4h-16.5M2760.4 1944.4h-16.5M2760.4 1872.4h-31.5M2760.4 1800.4h-16.5M2760.4 1728.4h-16.5M2760.4 1656.4h-16.5M2760.4 1584.4h-31.5M2760.4 1512.4h-16.5M2760.4 1440.4h-16.5M2760.4 1368.4h-16.5M2760.4 1296.4h-31.5M2760.4 1224.4h-16.5M2760.4 1152.4h-16.5M2760.4 1080.4h-16.5M2760.4 1008.4h-31.5M2760.4 936.4h-16.5M2760.4 864.4h-16.5M2760.4 792.4h-16.5M2760.4 720.4h-31.5"/>
<rect x="360.4" y="120.4" width="1440.0" height="480.0" fill="none" stroke="#000" stroke-width="3.2"/>
<rect x="360.4" y="720.4" width="1440.0" height="1440.0" fill="none" stroke="#000" stroke-width="3.2"/>
<rect x="1920.4" y="720.4" width="570.0" height="1440.0" fill="none" stroke="#000" stroke-width="3.2"/>
<rect x="2610.4" y="720.4" width="150.0" height="1440.0" fill="none" stroke="#000" stroke-width="3.2"/>
<path fill="none" stroke="#000" stroke-width="2.2" d="M0.3 2367V2400M0 2399.6H33"/>
<text x="1920.0" y="280.0" font-size="125.0" stroke-width="2.6" textLength="244.0" lengthAdjust="spacingAndGlyphs">PepDF</text>
<text x="1919.0" y="431.5" font-size="102.5" stroke-width="2.2" textLength="678.0" lengthAdjust="spacingAndGlyphs">Time window: 200 ns</text>
<text x="210.0" y="359.4" font-size="102.5" stroke-width="2.2" text-anchor="middle" textLength="280.0" lengthAdjust="spacingAndGlyphs" transform="rotate(-90 210.0 359.4)"># Counts</text>
<text x="343.0" y="358.8" font-size="83.5" stroke-width="1.8" text-anchor="end" textLength="92.0" lengthAdjust="spacingAndGlyphs">250</text>
<text x="343.0" y="620.8" font-size="83.5" stroke-width="1.8" text-anchor="end" textLength="29.0" lengthAdjust="spacingAndGlyphs">0</text>
<text x="343.0" y="960.8" font-size="83.5" stroke-width="1.8" text-anchor="end" textLength="92.0" lengthAdjust="spacingAndGlyphs">100</text>
<text x="343.0" y="1210.8" font-size="83.5" stroke-width="1.8" text-anchor="end" textLength="60.0" lengthAdjust="spacingAndGlyphs">50</text>
<text x="343.0" y="1460.8" font-size="83.5" stroke-width="1.8" text-anchor="end" textLength="29.0" lengthAdjust="spacingAndGlyphs">0</text>
<text x="343.0" y="1710.8" font-size="83.5" stroke-width="1.8" text-anchor="end" textLength="108.0" lengthAdjust="spacingAndGlyphs">−50</text>
<text x="343.0" y="1960.8" font-size="83.5" stroke-width="1.8" text-anchor="end" textLength="139.0" lengthAdjust="spacingAndGlyphs">−100</text>
<text x="360.9" y="2236.4" font-size="83.5" stroke-width="1.8" text-anchor="middle" textLength="29.0" lengthAdjust="spacingAndGlyphs">0</text>
<text x="908.9" y="2236.4" font-size="83.5" stroke-width="1.8" text-anchor="middle" textLength="29.0" lengthAdjust="spacingAndGlyphs">2</text>
<text x="1456.9" y="2236.4" font-size="83.5" stroke-width="1.8" text-anchor="middle" textLength="29.0" lengthAdjust="spacingAndGlyphs">4</text>
<text x="1078.9" y="2344.0" font-size="102.5" stroke-width="2.2" text-anchor="middle" textLength="842.0" lengthAdjust="spacingAndGlyphs">Lateral displacement (nm)</text>
<text x="1920.9" y="2236.4" font-size="83.5" stroke-width="1.8" text-anchor="middle" textLength="29.0" lengthAdjust="spacingAndGlyphs">0</text>
<text x="2475.0" y="2236.4" font-size="83.5" stroke-width="1.8" text-anchor="middle" textLength="91.0" lengthAdjust="spacingAndGlyphs">500</text>
<text x="2204.5" y="2344.0" font-size="102.5" stroke-width="2.2" text-anchor="middle" textLength="279.0" lengthAdjust="spacingAndGlyphs"># Counts</text>
<text x="2929.5" y="1439.9" font-size="83.5" stroke-width="1.8" text-anchor="middle" textLength="586.0" lengthAdjust="spacingAndGlyphs" transform="rotate(-90 2929.5 1439.9)">Normalized Mean Time</text>
<text x="161.4" y="1441.5" font-size="102.5" stroke-width="2.2" text-anchor="middle" textLength="681.0" lengthAdjust="spacingAndGlyphs" transform="rotate(-90 161.4 1441.5)">Precession (degrees)</text>
<text x="2779.5" y="2181.7" font-size="83.5" stroke-width="1.8" textLength="75.0" lengthAdjust="spacingAndGlyphs">0.0</text>
<text x="2779.5" y="1893.7" font-size="83.5" stroke-width="1.8" textLength="75.0" lengthAdjust="spacingAndGlyphs">0.2</text>
<text x="2779.5" y="1605.7" font-size="83.5" stroke-width="1.8" textLength="75.0" lengthAdjust="spacingAndGlyphs">0.4</text>
<text x="2779.5" y="1317.7" font-size="83.5" stroke-width="1.8" textLength="75.0" lengthAdjust="spacingAndGlyphs">0.6</text>
<text x="2779.5" y="1029.7" font-size="83.5" stroke-width="1.8" textLength="75.0" lengthAdjust="spacingAndGlyphs">0.8</text>
<text x="2779.5" y="741.7" font-size="83.5" stroke-width="1.8" textLength="75.0" lengthAdjust="spacingAndGlyphs">1.0</text>
</svg></body></html>
